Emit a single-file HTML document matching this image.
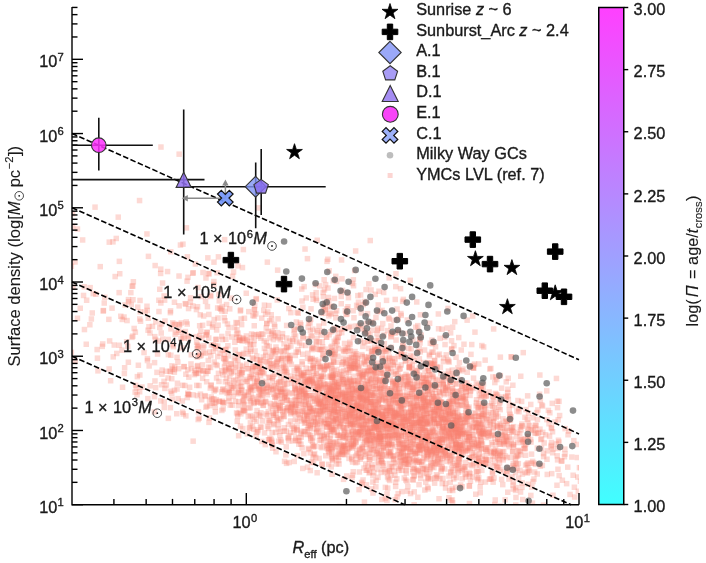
<!DOCTYPE html><html><head><meta charset="utf-8"><style>html,body{margin:0;padding:0;background:#fff;width:706px;height:563px;overflow:hidden}svg{display:block;will-change:transform} text{stroke:#1a1a1a;stroke-width:0.35px} g.sq rect{width:5.5px;height:5.5px}</style></head><body>
<svg width="706" height="563" viewBox="0 0 706 563" font-family="Liberation Sans, sans-serif">
<defs><clipPath id="pc"><rect x="72.0" y="7.1" width="507.0" height="497.59999999999997"/></clipPath></defs>
<g class="sq" clip-path="url(#pc)" fill="#fa8072" fill-opacity="0.3"><rect x="331.7" y="379.6"/><rect x="380.3" y="418.0"/><rect x="376.3" y="288.5"/><rect x="367.0" y="364.6"/><rect x="295.9" y="411.7"/><rect x="263.6" y="339.9"/><rect x="232.7" y="398.5"/><rect x="369.8" y="465.0"/><rect x="299.4" y="445.1"/><rect x="343.2" y="435.1"/><rect x="190.3" y="392.1"/><rect x="375.2" y="347.3"/><rect x="367.1" y="456.5"/><rect x="106.1" y="316.6"/><rect x="101.5" y="300.3"/><rect x="274.5" y="297.2"/><rect x="212.6" y="409.1"/><rect x="345.6" y="417.1"/><rect x="265.9" y="374.7"/><rect x="332.3" y="326.5"/><rect x="455.2" y="426.9"/><rect x="267.6" y="400.7"/><rect x="398.5" y="403.3"/><rect x="385.0" y="440.6"/><rect x="329.2" y="383.9"/><rect x="269.9" y="445.5"/><rect x="456.5" y="429.3"/><rect x="310.0" y="435.0"/><rect x="519.6" y="471.3"/><rect x="508.7" y="425.0"/><rect x="359.7" y="445.9"/><rect x="161.3" y="378.6"/><rect x="450.8" y="400.9"/><rect x="308.3" y="306.1"/><rect x="259.1" y="331.0"/><rect x="350.7" y="441.4"/><rect x="350.0" y="391.2"/><rect x="331.3" y="383.0"/><rect x="282.9" y="361.2"/><rect x="186.1" y="391.9"/><rect x="383.4" y="444.3"/><rect x="395.9" y="465.6"/><rect x="269.2" y="438.5"/><rect x="205.1" y="255.1"/><rect x="325.8" y="389.5"/><rect x="425.1" y="439.6"/><rect x="362.2" y="411.9"/><rect x="492.1" y="379.8"/><rect x="237.6" y="308.2"/><rect x="399.0" y="398.6"/><rect x="446.9" y="404.7"/><rect x="245.5" y="365.9"/><rect x="474.7" y="444.4"/><rect x="455.4" y="456.5"/><rect x="510.5" y="486.3"/><rect x="339.9" y="408.9"/><rect x="352.1" y="407.7"/><rect x="346.3" y="325.0"/><rect x="395.2" y="399.6"/><rect x="488.5" y="409.8"/><rect x="387.1" y="426.4"/><rect x="355.3" y="394.3"/><rect x="397.8" y="389.8"/><rect x="370.4" y="368.1"/><rect x="384.8" y="436.5"/><rect x="456.8" y="456.1"/><rect x="459.4" y="394.5"/><rect x="90.5" y="290.9"/><rect x="324.3" y="364.1"/><rect x="281.3" y="341.1"/><rect x="399.1" y="488.9"/><rect x="345.4" y="429.8"/><rect x="444.5" y="384.0"/><rect x="376.9" y="385.1"/><rect x="347.4" y="397.5"/><rect x="360.7" y="441.7"/><rect x="540.9" y="453.8"/><rect x="333.2" y="386.5"/><rect x="503.3" y="394.8"/><rect x="450.4" y="388.1"/><rect x="183.7" y="225.1"/><rect x="332.0" y="383.5"/><rect x="460.2" y="429.5"/><rect x="382.6" y="495.7"/><rect x="380.5" y="436.3"/><rect x="385.8" y="315.1"/><rect x="434.1" y="363.8"/><rect x="416.0" y="432.0"/><rect x="276.1" y="416.6"/><rect x="505.5" y="375.5"/><rect x="386.5" y="316.4"/><rect x="301.1" y="371.9"/><rect x="354.1" y="452.7"/><rect x="339.8" y="443.3"/><rect x="406.4" y="456.8"/><rect x="437.3" y="335.6"/><rect x="268.2" y="386.7"/><rect x="571.6" y="484.5"/><rect x="562.3" y="451.3"/><rect x="435.6" y="455.3"/><rect x="554.2" y="482.5"/><rect x="235.3" y="330.4"/><rect x="350.5" y="363.2"/><rect x="271.9" y="332.7"/><rect x="438.2" y="415.1"/><rect x="376.0" y="428.3"/><rect x="176.4" y="303.1"/><rect x="410.1" y="368.4"/><rect x="413.1" y="442.7"/><rect x="251.0" y="341.9"/><rect x="422.9" y="414.9"/><rect x="474.1" y="468.7"/><rect x="331.5" y="379.6"/><rect x="109.3" y="305.4"/><rect x="407.4" y="393.8"/><rect x="312.1" y="386.9"/><rect x="381.2" y="386.2"/><rect x="408.3" y="411.5"/><rect x="472.9" y="421.5"/><rect x="405.8" y="415.5"/><rect x="379.0" y="410.5"/><rect x="351.9" y="267.8"/><rect x="134.3" y="392.0"/><rect x="295.5" y="349.3"/><rect x="467.3" y="445.4"/><rect x="369.0" y="399.1"/><rect x="496.5" y="439.1"/><rect x="379.2" y="390.6"/><rect x="81.7" y="326.8"/><rect x="396.5" y="427.1"/><rect x="419.0" y="413.8"/><rect x="388.6" y="408.0"/><rect x="373.3" y="406.8"/><rect x="314.4" y="470.0"/><rect x="372.0" y="402.1"/><rect x="302.3" y="389.7"/><rect x="264.0" y="320.9"/><rect x="298.2" y="441.5"/><rect x="220.5" y="406.1"/><rect x="345.8" y="363.3"/><rect x="327.9" y="432.7"/><rect x="459.2" y="368.1"/><rect x="219.4" y="303.8"/><rect x="396.2" y="385.5"/><rect x="285.7" y="421.8"/><rect x="100.5" y="308.2"/><rect x="340.0" y="390.2"/><rect x="431.7" y="475.3"/><rect x="371.9" y="370.6"/><rect x="494.5" y="431.9"/><rect x="313.7" y="430.1"/><rect x="378.9" y="383.2"/><rect x="326.1" y="445.3"/><rect x="410.0" y="476.8"/><rect x="145.1" y="395.9"/><rect x="415.0" y="445.9"/><rect x="448.6" y="413.2"/><rect x="414.5" y="402.2"/><rect x="254.3" y="398.8"/><rect x="346.8" y="396.0"/><rect x="455.2" y="466.2"/><rect x="463.1" y="389.0"/><rect x="340.3" y="359.8"/><rect x="416.5" y="364.8"/><rect x="331.9" y="407.8"/><rect x="187.6" y="299.5"/><rect x="430.9" y="447.1"/><rect x="409.7" y="404.0"/><rect x="501.3" y="438.2"/><rect x="331.9" y="418.5"/><rect x="438.8" y="436.4"/><rect x="446.9" y="378.3"/><rect x="415.1" y="494.5"/><rect x="407.1" y="455.5"/><rect x="416.6" y="419.1"/><rect x="474.3" y="456.1"/><rect x="421.6" y="379.7"/><rect x="579.1" y="421.7"/><rect x="538.7" y="445.5"/><rect x="368.2" y="399.4"/><rect x="317.1" y="407.8"/><rect x="335.7" y="345.8"/><rect x="370.4" y="408.6"/><rect x="372.2" y="410.7"/><rect x="259.0" y="366.2"/><rect x="239.0" y="369.5"/><rect x="383.2" y="425.8"/><rect x="411.3" y="400.6"/><rect x="460.3" y="450.5"/><rect x="562.4" y="425.9"/><rect x="350.2" y="407.5"/><rect x="295.0" y="407.1"/><rect x="513.4" y="454.0"/><rect x="411.0" y="404.9"/><rect x="364.9" y="381.9"/><rect x="361.4" y="420.7"/><rect x="203.4" y="331.9"/><rect x="329.6" y="411.2"/><rect x="362.2" y="411.4"/><rect x="558.5" y="458.4"/><rect x="540.8" y="450.8"/><rect x="505.1" y="393.1"/><rect x="447.9" y="379.7"/><rect x="441.3" y="375.1"/><rect x="279.0" y="357.6"/><rect x="329.4" y="374.8"/><rect x="500.0" y="481.9"/><rect x="215.7" y="370.6"/><rect x="502.7" y="453.3"/><rect x="393.2" y="410.7"/><rect x="523.2" y="406.8"/><rect x="417.0" y="450.7"/><rect x="373.2" y="375.7"/><rect x="392.5" y="296.7"/><rect x="321.0" y="411.2"/><rect x="475.7" y="413.6"/><rect x="407.6" y="401.2"/><rect x="416.6" y="356.1"/><rect x="293.4" y="349.4"/><rect x="359.8" y="414.6"/><rect x="115.5" y="214.4"/><rect x="151.7" y="393.9"/><rect x="474.8" y="413.7"/><rect x="380.0" y="379.5"/><rect x="258.1" y="335.5"/><rect x="274.9" y="329.9"/><rect x="418.9" y="382.3"/><rect x="434.6" y="442.4"/><rect x="333.5" y="453.5"/><rect x="353.3" y="385.6"/><rect x="440.1" y="423.9"/><rect x="137.0" y="316.2"/><rect x="462.4" y="395.5"/><rect x="215.0" y="343.3"/><rect x="246.9" y="373.8"/><rect x="450.1" y="407.6"/><rect x="172.4" y="321.9"/><rect x="243.5" y="346.4"/><rect x="359.5" y="353.5"/><rect x="354.7" y="356.1"/><rect x="418.4" y="446.9"/><rect x="545.6" y="407.7"/><rect x="182.1" y="382.8"/><rect x="529.1" y="484.3"/><rect x="342.5" y="435.7"/><rect x="458.5" y="347.3"/><rect x="291.4" y="331.6"/><rect x="327.7" y="349.0"/><rect x="427.5" y="340.5"/><rect x="292.7" y="416.5"/><rect x="298.5" y="434.4"/><rect x="349.9" y="407.4"/><rect x="386.8" y="404.2"/><rect x="438.7" y="428.8"/><rect x="473.4" y="420.1"/><rect x="237.2" y="337.5"/><rect x="124.3" y="317.8"/><rect x="356.3" y="486.9"/><rect x="384.4" y="425.4"/><rect x="453.3" y="430.1"/><rect x="390.9" y="413.9"/><rect x="315.9" y="428.2"/><rect x="473.5" y="403.1"/><rect x="497.4" y="449.4"/><rect x="448.2" y="438.1"/><rect x="348.5" y="396.4"/><rect x="459.2" y="422.9"/><rect x="498.3" y="422.2"/><rect x="432.3" y="443.8"/><rect x="446.3" y="399.3"/><rect x="485.3" y="411.9"/><rect x="254.1" y="353.3"/><rect x="308.8" y="459.4"/><rect x="353.1" y="386.5"/><rect x="374.7" y="327.5"/><rect x="421.9" y="414.9"/><rect x="353.2" y="323.3"/><rect x="417.0" y="415.2"/><rect x="470.7" y="424.1"/><rect x="555.7" y="437.5"/><rect x="410.2" y="337.3"/><rect x="415.7" y="444.1"/><rect x="429.7" y="449.3"/><rect x="454.9" y="462.1"/><rect x="266.4" y="437.0"/><rect x="284.1" y="344.3"/><rect x="470.4" y="385.7"/><rect x="231.6" y="355.3"/><rect x="459.3" y="439.9"/><rect x="547.1" y="410.0"/><rect x="328.2" y="311.4"/><rect x="431.2" y="339.7"/><rect x="355.5" y="400.8"/><rect x="438.7" y="399.0"/><rect x="365.0" y="428.2"/><rect x="349.5" y="280.7"/><rect x="381.3" y="332.3"/><rect x="329.5" y="393.6"/><rect x="481.2" y="391.0"/><rect x="306.2" y="446.7"/><rect x="332.8" y="416.1"/><rect x="402.9" y="409.0"/><rect x="348.1" y="444.3"/><rect x="385.1" y="434.4"/><rect x="498.9" y="476.6"/><rect x="480.7" y="381.3"/><rect x="354.8" y="387.9"/><rect x="389.7" y="359.2"/><rect x="340.8" y="442.3"/><rect x="392.6" y="459.4"/><rect x="377.5" y="436.8"/><rect x="456.4" y="449.1"/><rect x="435.2" y="407.6"/><rect x="129.2" y="334.6"/><rect x="222.6" y="379.0"/><rect x="425.7" y="437.0"/><rect x="230.6" y="393.6"/><rect x="517.0" y="431.1"/><rect x="324.0" y="300.5"/><rect x="533.3" y="430.4"/><rect x="346.5" y="378.8"/><rect x="461.2" y="341.5"/><rect x="435.0" y="352.6"/><rect x="433.7" y="404.4"/><rect x="426.0" y="399.4"/><rect x="390.9" y="397.7"/><rect x="414.2" y="420.0"/><rect x="425.5" y="486.1"/><rect x="286.4" y="433.2"/><rect x="414.0" y="428.8"/><rect x="363.9" y="320.6"/><rect x="433.7" y="384.4"/><rect x="341.2" y="443.6"/><rect x="255.9" y="331.6"/><rect x="299.3" y="298.3"/><rect x="299.6" y="361.5"/><rect x="359.1" y="401.6"/><rect x="400.4" y="419.8"/><rect x="301.2" y="395.6"/><rect x="387.3" y="433.1"/><rect x="397.9" y="464.0"/><rect x="337.6" y="415.1"/><rect x="195.6" y="343.4"/><rect x="421.4" y="395.2"/><rect x="352.4" y="409.2"/><rect x="326.6" y="409.4"/><rect x="340.6" y="433.5"/><rect x="327.3" y="423.7"/><rect x="284.1" y="335.3"/><rect x="176.9" y="322.1"/><rect x="277.7" y="348.8"/><rect x="99.5" y="343.6"/><rect x="306.7" y="378.2"/><rect x="399.2" y="467.5"/><rect x="379.8" y="422.9"/><rect x="353.5" y="387.8"/><rect x="464.3" y="404.4"/><rect x="300.9" y="416.4"/><rect x="368.3" y="420.0"/><rect x="300.0" y="465.7"/><rect x="413.9" y="457.1"/><rect x="259.9" y="386.8"/><rect x="423.5" y="403.8"/><rect x="343.8" y="413.5"/><rect x="333.5" y="398.2"/><rect x="244.6" y="378.7"/><rect x="455.5" y="444.5"/><rect x="278.4" y="389.6"/><rect x="141.3" y="349.8"/><rect x="383.6" y="422.2"/><rect x="513.9" y="434.0"/><rect x="339.3" y="406.3"/><rect x="273.7" y="359.9"/><rect x="234.5" y="418.6"/><rect x="423.9" y="414.5"/><rect x="476.4" y="387.8"/><rect x="396.2" y="411.2"/><rect x="296.7" y="397.3"/><rect x="222.4" y="308.5"/><rect x="364.4" y="395.4"/><rect x="326.5" y="450.1"/><rect x="452.3" y="412.9"/><rect x="416.1" y="458.9"/><rect x="457.8" y="395.6"/><rect x="350.5" y="469.0"/><rect x="407.5" y="277.6"/><rect x="262.7" y="398.5"/><rect x="394.8" y="452.1"/><rect x="289.7" y="390.9"/><rect x="428.4" y="409.7"/><rect x="323.5" y="362.8"/><rect x="144.2" y="303.5"/><rect x="248.4" y="374.2"/><rect x="401.5" y="475.3"/><rect x="363.3" y="421.9"/><rect x="403.6" y="439.7"/><rect x="341.4" y="406.8"/><rect x="162.2" y="318.3"/><rect x="445.1" y="387.1"/><rect x="475.7" y="440.9"/><rect x="379.3" y="370.5"/><rect x="325.1" y="393.1"/><rect x="419.2" y="436.2"/><rect x="347.9" y="393.7"/><rect x="384.3" y="414.8"/><rect x="436.3" y="420.6"/><rect x="396.3" y="400.1"/><rect x="330.8" y="372.3"/><rect x="434.1" y="420.9"/><rect x="266.5" y="343.6"/><rect x="341.7" y="326.0"/><rect x="372.8" y="445.5"/><rect x="284.0" y="393.8"/><rect x="422.6" y="421.1"/><rect x="532.8" y="422.4"/><rect x="469.3" y="441.4"/><rect x="235.2" y="351.7"/><rect x="382.9" y="409.0"/><rect x="422.1" y="375.5"/><rect x="511.5" y="465.0"/><rect x="369.4" y="429.5"/><rect x="210.7" y="348.5"/><rect x="256.4" y="412.4"/><rect x="351.7" y="396.2"/><rect x="268.9" y="316.4"/><rect x="442.8" y="436.4"/><rect x="492.2" y="460.1"/><rect x="349.1" y="445.3"/><rect x="270.3" y="412.5"/><rect x="314.0" y="370.4"/><rect x="326.7" y="442.6"/><rect x="345.2" y="421.7"/><rect x="412.9" y="451.2"/><rect x="255.6" y="385.2"/><rect x="303.4" y="365.4"/><rect x="526.6" y="467.4"/><rect x="281.1" y="376.6"/><rect x="388.4" y="344.5"/><rect x="452.8" y="380.9"/><rect x="311.0" y="443.9"/><rect x="305.5" y="445.6"/><rect x="360.1" y="384.9"/><rect x="280.4" y="362.7"/><rect x="338.0" y="407.2"/><rect x="267.9" y="360.9"/><rect x="121.9" y="365.0"/><rect x="393.7" y="423.6"/><rect x="248.3" y="346.6"/><rect x="295.2" y="346.9"/><rect x="443.9" y="371.5"/><rect x="144.2" y="231.2"/><rect x="480.4" y="429.9"/><rect x="363.4" y="436.6"/><rect x="457.8" y="427.9"/><rect x="377.7" y="427.4"/><rect x="440.4" y="416.4"/><rect x="363.9" y="425.4"/><rect x="371.5" y="414.4"/><rect x="257.9" y="357.1"/><rect x="377.4" y="453.4"/><rect x="410.9" y="464.8"/><rect x="503.2" y="433.6"/><rect x="393.6" y="378.7"/><rect x="534.6" y="445.4"/><rect x="457.8" y="388.2"/><rect x="325.7" y="388.1"/><rect x="158.0" y="266.4"/><rect x="319.9" y="344.0"/><rect x="417.7" y="312.0"/><rect x="425.2" y="440.4"/><rect x="261.0" y="399.6"/><rect x="416.5" y="443.9"/><rect x="265.4" y="364.3"/><rect x="382.6" y="357.5"/><rect x="179.1" y="345.2"/><rect x="446.2" y="399.3"/><rect x="160.0" y="336.3"/><rect x="431.0" y="441.8"/><rect x="324.3" y="445.3"/><rect x="284.1" y="345.1"/><rect x="405.1" y="418.6"/><rect x="382.5" y="346.8"/><rect x="456.2" y="439.7"/><rect x="224.9" y="381.8"/><rect x="360.3" y="374.3"/><rect x="459.4" y="484.0"/><rect x="306.9" y="431.8"/><rect x="366.8" y="444.4"/><rect x="504.9" y="438.7"/><rect x="249.8" y="366.0"/><rect x="440.6" y="453.8"/><rect x="419.8" y="430.4"/><rect x="544.6" y="448.1"/><rect x="316.4" y="339.2"/><rect x="479.5" y="453.4"/><rect x="300.7" y="374.1"/><rect x="241.2" y="394.1"/><rect x="435.3" y="454.0"/><rect x="362.1" y="448.5"/><rect x="457.2" y="416.4"/><rect x="302.5" y="401.9"/><rect x="467.7" y="388.1"/><rect x="340.4" y="451.5"/><rect x="382.6" y="421.9"/><rect x="445.3" y="305.7"/><rect x="359.9" y="435.7"/><rect x="406.0" y="345.7"/><rect x="379.0" y="408.8"/><rect x="439.9" y="434.4"/><rect x="480.5" y="387.2"/><rect x="316.3" y="323.4"/><rect x="331.5" y="407.9"/><rect x="346.0" y="345.1"/><rect x="256.4" y="364.6"/><rect x="506.4" y="417.4"/><rect x="326.2" y="438.7"/><rect x="253.3" y="296.6"/><rect x="245.0" y="366.0"/><rect x="411.9" y="425.4"/><rect x="363.7" y="438.0"/><rect x="323.8" y="420.9"/><rect x="363.2" y="416.0"/><rect x="566.0" y="428.3"/><rect x="352.7" y="365.5"/><rect x="259.1" y="438.7"/><rect x="437.3" y="392.8"/><rect x="346.1" y="349.0"/><rect x="374.6" y="362.9"/><rect x="383.3" y="398.8"/><rect x="466.3" y="404.4"/><rect x="417.9" y="396.9"/><rect x="342.7" y="393.7"/><rect x="486.3" y="430.2"/><rect x="300.1" y="304.5"/><rect x="420.3" y="465.8"/><rect x="454.0" y="414.9"/><rect x="453.7" y="425.7"/><rect x="345.3" y="441.3"/><rect x="392.2" y="421.3"/><rect x="457.5" y="402.2"/><rect x="385.3" y="421.0"/><rect x="152.2" y="378.2"/><rect x="377.3" y="416.0"/><rect x="241.7" y="392.9"/><rect x="426.8" y="442.2"/><rect x="245.8" y="389.6"/><rect x="546.8" y="433.4"/><rect x="361.2" y="359.7"/><rect x="332.1" y="399.2"/><rect x="396.3" y="396.2"/><rect x="119.2" y="347.4"/><rect x="427.7" y="382.2"/><rect x="384.3" y="491.1"/><rect x="242.7" y="376.7"/><rect x="362.9" y="300.2"/><rect x="419.6" y="394.1"/><rect x="299.4" y="372.5"/><rect x="381.3" y="434.1"/><rect x="100.7" y="307.8"/><rect x="515.6" y="460.9"/><rect x="355.5" y="390.0"/><rect x="132.9" y="382.6"/><rect x="401.2" y="416.5"/><rect x="348.8" y="415.4"/><rect x="312.6" y="374.8"/><rect x="478.4" y="439.7"/><rect x="352.9" y="460.0"/><rect x="311.9" y="450.8"/><rect x="341.7" y="409.1"/><rect x="297.8" y="430.3"/><rect x="289.7" y="408.8"/><rect x="367.5" y="338.2"/><rect x="324.4" y="390.6"/><rect x="479.1" y="467.6"/><rect x="382.9" y="420.8"/><rect x="264.7" y="423.7"/><rect x="416.5" y="345.8"/><rect x="451.3" y="435.8"/><rect x="329.5" y="374.0"/><rect x="257.4" y="386.8"/><rect x="435.9" y="446.9"/><rect x="460.2" y="366.4"/><rect x="329.7" y="413.3"/><rect x="203.2" y="275.2"/><rect x="293.6" y="398.1"/><rect x="341.9" y="452.0"/><rect x="414.9" y="400.2"/><rect x="106.4" y="366.2"/><rect x="331.7" y="295.7"/><rect x="395.9" y="329.3"/><rect x="356.5" y="421.9"/><rect x="413.0" y="417.8"/><rect x="522.2" y="414.6"/><rect x="212.9" y="336.7"/><rect x="329.4" y="443.0"/><rect x="478.4" y="430.2"/><rect x="200.2" y="269.7"/><rect x="322.4" y="346.4"/><rect x="376.1" y="443.1"/><rect x="255.2" y="383.6"/><rect x="237.0" y="337.4"/><rect x="490.4" y="479.4"/><rect x="310.4" y="296.5"/><rect x="504.3" y="468.5"/><rect x="431.9" y="460.0"/><rect x="429.2" y="424.8"/><rect x="343.1" y="357.2"/><rect x="330.3" y="349.2"/><rect x="331.2" y="405.5"/><rect x="411.6" y="465.8"/><rect x="521.4" y="442.6"/><rect x="289.5" y="376.4"/><rect x="295.3" y="378.4"/><rect x="455.3" y="412.2"/><rect x="352.9" y="248.2"/><rect x="363.1" y="394.5"/><rect x="395.5" y="316.2"/><rect x="478.0" y="387.5"/><rect x="495.9" y="441.2"/><rect x="355.4" y="399.2"/><rect x="245.5" y="413.9"/><rect x="338.8" y="399.7"/><rect x="246.1" y="405.3"/><rect x="174.7" y="380.5"/><rect x="360.2" y="413.0"/><rect x="153.1" y="319.1"/><rect x="92.3" y="204.4"/><rect x="520.0" y="496.8"/><rect x="478.8" y="442.4"/><rect x="364.0" y="389.9"/><rect x="283.9" y="322.7"/><rect x="450.4" y="398.4"/><rect x="387.9" y="448.8"/><rect x="515.8" y="475.4"/><rect x="424.8" y="420.9"/><rect x="223.6" y="346.5"/><rect x="414.1" y="394.4"/><rect x="244.2" y="337.7"/><rect x="283.8" y="460.6"/><rect x="386.0" y="422.1"/><rect x="417.9" y="417.4"/><rect x="429.1" y="448.0"/><rect x="269.8" y="405.9"/><rect x="443.9" y="413.5"/><rect x="346.3" y="455.7"/><rect x="331.5" y="338.5"/><rect x="236.9" y="370.0"/><rect x="353.4" y="403.0"/><rect x="380.2" y="378.2"/><rect x="384.4" y="470.2"/><rect x="502.5" y="438.8"/><rect x="363.6" y="396.8"/><rect x="488.1" y="365.7"/><rect x="329.3" y="343.5"/><rect x="343.7" y="366.8"/><rect x="333.2" y="424.5"/><rect x="369.2" y="327.5"/><rect x="367.8" y="409.0"/><rect x="257.9" y="413.5"/><rect x="83.5" y="341.5"/><rect x="371.8" y="346.7"/><rect x="417.9" y="392.6"/><rect x="338.6" y="388.3"/><rect x="247.3" y="341.2"/><rect x="298.2" y="371.2"/><rect x="286.7" y="355.3"/><rect x="397.1" y="410.6"/><rect x="466.4" y="425.7"/><rect x="388.7" y="369.2"/><rect x="442.1" y="446.9"/><rect x="342.7" y="392.7"/><rect x="307.6" y="467.8"/><rect x="497.6" y="372.9"/><rect x="295.9" y="402.0"/><rect x="249.7" y="423.4"/><rect x="443.1" y="429.3"/><rect x="367.7" y="425.2"/><rect x="269.8" y="442.2"/><rect x="462.9" y="416.3"/><rect x="379.8" y="367.7"/><rect x="307.6" y="358.6"/><rect x="273.0" y="333.8"/><rect x="402.9" y="396.1"/><rect x="408.7" y="415.8"/><rect x="206.0" y="335.3"/><rect x="519.2" y="484.6"/><rect x="169.7" y="366.4"/><rect x="561.7" y="454.0"/><rect x="331.7" y="407.6"/><rect x="306.6" y="378.5"/><rect x="410.2" y="429.2"/><rect x="337.1" y="438.8"/><rect x="292.9" y="408.6"/><rect x="458.7" y="413.0"/><rect x="550.3" y="446.4"/><rect x="310.8" y="358.0"/><rect x="412.0" y="448.4"/><rect x="378.8" y="411.5"/><rect x="409.1" y="400.3"/><rect x="386.6" y="419.7"/><rect x="294.4" y="309.6"/><rect x="158.0" y="398.2"/><rect x="360.5" y="398.2"/><rect x="357.8" y="415.6"/><rect x="391.9" y="408.8"/><rect x="352.2" y="348.8"/><rect x="491.3" y="475.2"/><rect x="439.5" y="439.8"/><rect x="247.8" y="341.8"/><rect x="266.6" y="358.4"/><rect x="338.6" y="393.5"/><rect x="449.3" y="373.1"/><rect x="369.4" y="383.5"/><rect x="253.5" y="382.9"/><rect x="436.2" y="404.5"/><rect x="428.8" y="395.4"/><rect x="402.7" y="461.3"/><rect x="393.3" y="429.8"/><rect x="358.9" y="413.9"/><rect x="206.8" y="415.2"/><rect x="329.3" y="471.5"/><rect x="330.9" y="404.1"/><rect x="398.4" y="441.1"/><rect x="398.4" y="353.7"/><rect x="441.2" y="437.0"/><rect x="369.4" y="348.4"/><rect x="405.6" y="378.6"/><rect x="425.2" y="380.5"/><rect x="448.6" y="397.3"/><rect x="358.8" y="426.1"/><rect x="342.5" y="346.3"/><rect x="265.6" y="389.5"/><rect x="431.8" y="429.0"/><rect x="389.8" y="393.5"/><rect x="372.5" y="382.2"/><rect x="366.3" y="382.0"/><rect x="412.7" y="437.4"/><rect x="458.7" y="452.5"/><rect x="207.8" y="364.7"/><rect x="382.6" y="484.6"/><rect x="302.8" y="378.6"/><rect x="458.8" y="383.5"/><rect x="333.1" y="315.0"/><rect x="171.6" y="369.4"/><rect x="377.3" y="434.6"/><rect x="531.9" y="469.3"/><rect x="202.6" y="393.7"/><rect x="483.6" y="456.8"/><rect x="398.9" y="449.9"/><rect x="352.8" y="413.0"/><rect x="479.1" y="342.8"/><rect x="518.2" y="427.1"/><rect x="519.0" y="436.5"/><rect x="480.4" y="431.3"/><rect x="168.0" y="249.0"/><rect x="316.1" y="376.9"/><rect x="355.4" y="431.1"/><rect x="418.1" y="416.0"/><rect x="276.5" y="379.1"/><rect x="447.6" y="426.2"/><rect x="274.9" y="267.4"/><rect x="422.1" y="403.5"/><rect x="419.0" y="416.8"/><rect x="454.9" y="444.9"/><rect x="324.5" y="400.7"/><rect x="331.9" y="400.9"/><rect x="461.8" y="464.3"/><rect x="425.0" y="396.8"/><rect x="427.7" y="413.2"/><rect x="364.0" y="358.5"/><rect x="405.1" y="429.8"/><rect x="309.4" y="332.9"/><rect x="355.6" y="434.8"/><rect x="194.4" y="345.9"/><rect x="379.9" y="415.4"/><rect x="316.2" y="411.5"/><rect x="317.4" y="396.8"/><rect x="427.8" y="476.2"/><rect x="417.4" y="336.8"/><rect x="294.6" y="452.9"/><rect x="381.0" y="447.9"/><rect x="216.5" y="398.6"/><rect x="407.5" y="439.4"/><rect x="359.3" y="415.3"/><rect x="373.0" y="422.9"/><rect x="246.0" y="308.9"/><rect x="107.9" y="378.0"/><rect x="389.2" y="420.0"/><rect x="367.3" y="394.3"/><rect x="336.5" y="330.5"/><rect x="473.6" y="380.5"/><rect x="405.0" y="383.8"/><rect x="221.5" y="351.7"/><rect x="446.2" y="473.3"/><rect x="422.5" y="441.8"/><rect x="492.6" y="390.6"/><rect x="156.2" y="308.8"/><rect x="333.8" y="278.6"/><rect x="228.5" y="385.1"/><rect x="370.6" y="358.3"/><rect x="456.3" y="395.1"/><rect x="445.5" y="437.8"/><rect x="118.0" y="313.5"/><rect x="311.7" y="398.8"/><rect x="362.9" y="382.2"/><rect x="360.3" y="477.2"/><rect x="326.4" y="408.7"/><rect x="400.5" y="393.3"/><rect x="381.8" y="391.6"/><rect x="390.3" y="380.4"/><rect x="132.4" y="389.4"/><rect x="341.9" y="427.8"/><rect x="318.1" y="413.3"/><rect x="412.7" y="434.1"/><rect x="408.7" y="422.8"/><rect x="199.7" y="362.1"/><rect x="222.8" y="367.0"/><rect x="281.9" y="369.0"/><rect x="473.6" y="424.0"/><rect x="488.9" y="439.7"/><rect x="328.6" y="415.2"/><rect x="320.6" y="293.8"/><rect x="277.8" y="428.6"/><rect x="372.5" y="291.6"/><rect x="336.1" y="392.2"/><rect x="367.6" y="377.1"/><rect x="472.1" y="419.9"/><rect x="116.4" y="289.9"/><rect x="391.4" y="421.5"/><rect x="525.6" y="481.5"/><rect x="202.8" y="298.6"/><rect x="559.6" y="477.5"/><rect x="392.3" y="431.8"/><rect x="317.1" y="399.2"/><rect x="331.0" y="357.9"/><rect x="332.9" y="392.2"/><rect x="238.1" y="411.1"/><rect x="510.5" y="460.9"/><rect x="317.2" y="433.4"/><rect x="484.7" y="432.3"/><rect x="496.2" y="457.0"/><rect x="490.8" y="418.8"/><rect x="393.1" y="397.2"/><rect x="330.7" y="388.8"/><rect x="330.2" y="387.8"/><rect x="175.4" y="395.9"/><rect x="291.2" y="425.1"/><rect x="333.9" y="308.0"/><rect x="408.4" y="413.3"/><rect x="393.3" y="337.3"/><rect x="380.9" y="289.7"/><rect x="401.6" y="441.4"/><rect x="421.3" y="425.1"/><rect x="384.9" y="421.4"/><rect x="358.0" y="407.8"/><rect x="475.1" y="476.9"/><rect x="431.2" y="464.9"/><rect x="406.8" y="364.6"/><rect x="368.0" y="408.5"/><rect x="482.9" y="430.2"/><rect x="324.0" y="431.3"/><rect x="361.2" y="368.8"/><rect x="289.5" y="401.3"/><rect x="453.0" y="424.0"/><rect x="495.0" y="436.5"/><rect x="362.8" y="361.6"/><rect x="389.4" y="355.7"/><rect x="437.1" y="475.9"/><rect x="475.9" y="420.5"/><rect x="262.8" y="311.5"/><rect x="527.9" y="436.7"/><rect x="528.5" y="427.1"/><rect x="457.1" y="420.9"/><rect x="388.7" y="398.0"/><rect x="457.4" y="376.8"/><rect x="309.9" y="442.2"/><rect x="402.3" y="392.5"/><rect x="494.9" y="455.3"/><rect x="433.9" y="402.9"/><rect x="414.2" y="466.7"/><rect x="486.3" y="430.2"/><rect x="394.1" y="383.8"/><rect x="444.9" y="444.2"/><rect x="320.0" y="375.3"/><rect x="464.0" y="415.2"/><rect x="556.4" y="472.8"/><rect x="368.3" y="418.3"/><rect x="333.7" y="380.3"/><rect x="249.7" y="368.4"/><rect x="347.7" y="402.6"/><rect x="360.0" y="425.1"/><rect x="350.3" y="421.1"/><rect x="416.3" y="481.9"/><rect x="302.5" y="429.0"/><rect x="253.5" y="371.9"/><rect x="427.3" y="433.8"/><rect x="427.3" y="407.2"/><rect x="339.4" y="448.1"/><rect x="443.9" y="403.3"/><rect x="419.6" y="445.4"/><rect x="397.9" y="376.6"/><rect x="125.6" y="359.5"/><rect x="427.6" y="445.2"/><rect x="350.4" y="308.0"/><rect x="310.2" y="454.5"/><rect x="293.0" y="435.4"/><rect x="227.0" y="306.1"/><rect x="152.4" y="262.8"/><rect x="517.2" y="467.6"/><rect x="338.5" y="293.7"/><rect x="231.3" y="383.5"/><rect x="233.9" y="334.6"/><rect x="509.3" y="474.2"/><rect x="553.7" y="375.7"/><rect x="433.3" y="449.9"/><rect x="396.9" y="415.7"/><rect x="449.3" y="485.8"/><rect x="549.9" y="450.0"/><rect x="355.7" y="366.2"/><rect x="300.0" y="335.3"/><rect x="399.2" y="373.8"/><rect x="361.7" y="327.9"/><rect x="466.3" y="382.9"/><rect x="273.2" y="410.4"/><rect x="450.8" y="433.0"/><rect x="414.4" y="419.3"/><rect x="462.2" y="470.9"/><rect x="266.4" y="419.8"/><rect x="489.4" y="431.3"/><rect x="438.5" y="468.4"/><rect x="305.0" y="379.8"/><rect x="358.1" y="322.4"/><rect x="219.0" y="333.7"/><rect x="293.9" y="365.5"/><rect x="416.9" y="405.7"/><rect x="387.0" y="412.4"/><rect x="348.6" y="365.2"/><rect x="306.9" y="409.1"/><rect x="459.0" y="447.7"/><rect x="187.8" y="295.1"/><rect x="325.5" y="399.9"/><rect x="313.0" y="454.7"/><rect x="343.4" y="415.8"/><rect x="358.1" y="428.7"/><rect x="444.2" y="424.0"/><rect x="319.8" y="355.5"/><rect x="351.8" y="378.4"/><rect x="424.0" y="446.7"/><rect x="456.9" y="454.0"/><rect x="344.9" y="384.2"/><rect x="423.6" y="398.8"/><rect x="344.0" y="473.2"/><rect x="496.8" y="460.2"/><rect x="350.8" y="396.5"/><rect x="301.8" y="420.5"/><rect x="529.9" y="458.6"/><rect x="231.0" y="378.1"/><rect x="172.4" y="331.5"/><rect x="185.0" y="390.5"/><rect x="281.9" y="394.7"/><rect x="350.1" y="382.0"/><rect x="494.1" y="422.9"/><rect x="524.9" y="393.1"/><rect x="205.9" y="364.4"/><rect x="157.0" y="324.7"/><rect x="397.2" y="393.1"/><rect x="386.9" y="355.6"/><rect x="269.4" y="378.0"/><rect x="345.7" y="294.9"/><rect x="312.1" y="443.3"/><rect x="501.0" y="439.9"/><rect x="263.3" y="385.7"/><rect x="475.4" y="422.5"/><rect x="366.6" y="392.6"/><rect x="417.1" y="422.7"/><rect x="329.9" y="457.9"/><rect x="375.3" y="409.9"/><rect x="332.6" y="409.0"/><rect x="535.9" y="429.8"/><rect x="171.7" y="387.6"/><rect x="398.6" y="406.4"/><rect x="339.1" y="417.3"/><rect x="415.7" y="442.3"/><rect x="538.0" y="436.8"/><rect x="467.7" y="478.5"/><rect x="451.0" y="437.4"/><rect x="211.5" y="359.3"/><rect x="431.9" y="396.4"/><rect x="292.2" y="397.1"/><rect x="137.8" y="318.5"/><rect x="417.5" y="349.1"/><rect x="347.0" y="365.2"/><rect x="185.8" y="305.8"/><rect x="178.2" y="329.7"/><rect x="228.3" y="361.1"/><rect x="238.7" y="371.6"/><rect x="485.6" y="417.1"/><rect x="516.0" y="405.9"/><rect x="116.6" y="342.5"/><rect x="442.9" y="410.3"/><rect x="295.0" y="383.2"/><rect x="510.3" y="463.1"/><rect x="445.0" y="416.7"/><rect x="362.3" y="453.7"/><rect x="425.9" y="402.0"/><rect x="219.1" y="308.3"/><rect x="294.3" y="426.9"/><rect x="313.8" y="380.2"/><rect x="221.4" y="356.2"/><rect x="393.6" y="423.9"/><rect x="389.1" y="331.2"/><rect x="281.8" y="458.6"/><rect x="510.7" y="429.0"/><rect x="267.8" y="403.5"/><rect x="301.9" y="394.4"/><rect x="87.4" y="284.9"/><rect x="172.0" y="364.3"/><rect x="487.4" y="403.0"/><rect x="525.3" y="420.2"/><rect x="475.4" y="382.3"/><rect x="490.8" y="419.6"/><rect x="321.0" y="320.3"/><rect x="430.9" y="416.8"/><rect x="349.9" y="395.7"/><rect x="291.8" y="326.5"/><rect x="347.6" y="347.8"/><rect x="388.2" y="323.2"/><rect x="303.5" y="397.1"/><rect x="261.5" y="338.1"/><rect x="400.6" y="429.7"/><rect x="523.1" y="441.1"/><rect x="382.5" y="434.1"/><rect x="319.6" y="429.7"/><rect x="390.5" y="361.7"/><rect x="330.5" y="426.9"/><rect x="450.2" y="412.5"/><rect x="454.7" y="398.6"/><rect x="179.6" y="398.2"/><rect x="476.6" y="392.8"/><rect x="465.1" y="446.4"/><rect x="403.9" y="445.4"/><rect x="102.1" y="294.6"/><rect x="550.2" y="492.5"/><rect x="198.9" y="397.0"/><rect x="383.5" y="407.4"/><rect x="322.0" y="407.6"/><rect x="462.5" y="448.8"/><rect x="477.6" y="424.6"/><rect x="337.2" y="395.8"/><rect x="482.1" y="402.7"/><rect x="321.8" y="366.8"/><rect x="475.8" y="427.9"/><rect x="254.3" y="407.8"/><rect x="361.7" y="298.7"/><rect x="526.2" y="469.1"/><rect x="301.5" y="388.6"/><rect x="370.5" y="401.4"/><rect x="300.9" y="431.7"/><rect x="457.7" y="442.3"/><rect x="178.5" y="320.2"/><rect x="255.0" y="369.7"/><rect x="459.5" y="467.9"/><rect x="321.5" y="434.2"/><rect x="368.9" y="447.0"/><rect x="493.6" y="391.6"/><rect x="489.8" y="469.2"/><rect x="348.8" y="431.5"/><rect x="372.3" y="425.6"/><rect x="433.0" y="384.3"/><rect x="348.3" y="407.6"/><rect x="362.0" y="436.1"/><rect x="312.3" y="421.0"/><rect x="307.5" y="423.2"/><rect x="371.5" y="437.5"/><rect x="373.6" y="350.6"/><rect x="380.2" y="418.8"/><rect x="404.6" y="452.4"/><rect x="306.3" y="386.5"/><rect x="333.3" y="336.5"/><rect x="477.1" y="427.5"/><rect x="378.1" y="451.3"/><rect x="308.5" y="395.2"/><rect x="232.2" y="364.7"/><rect x="354.6" y="459.2"/><rect x="309.3" y="346.9"/><rect x="385.7" y="398.8"/><rect x="495.0" y="436.5"/><rect x="487.4" y="448.7"/><rect x="175.1" y="359.4"/><rect x="387.1" y="433.1"/><rect x="365.9" y="353.8"/><rect x="406.4" y="365.0"/><rect x="469.3" y="424.6"/><rect x="401.2" y="426.9"/><rect x="328.0" y="389.8"/><rect x="514.2" y="408.2"/><rect x="398.5" y="433.2"/><rect x="420.0" y="466.7"/><rect x="327.0" y="304.2"/><rect x="292.1" y="373.9"/><rect x="337.8" y="449.6"/><rect x="350.9" y="442.9"/><rect x="222.4" y="360.7"/><rect x="421.8" y="465.9"/><rect x="167.7" y="368.9"/><rect x="368.3" y="368.0"/><rect x="447.8" y="400.9"/><rect x="196.5" y="351.5"/><rect x="451.3" y="472.4"/><rect x="283.3" y="367.4"/><rect x="436.9" y="389.3"/><rect x="377.1" y="433.9"/><rect x="246.5" y="425.5"/><rect x="208.4" y="382.1"/><rect x="324.0" y="362.6"/><rect x="374.8" y="405.6"/><rect x="315.1" y="415.2"/><rect x="445.9" y="411.0"/><rect x="410.4" y="440.8"/><rect x="376.0" y="459.8"/><rect x="360.7" y="403.2"/><rect x="355.6" y="420.3"/><rect x="400.7" y="461.1"/><rect x="330.5" y="359.4"/><rect x="343.4" y="431.6"/><rect x="333.7" y="461.2"/><rect x="448.1" y="405.3"/><rect x="392.5" y="406.1"/><rect x="414.2" y="403.7"/><rect x="385.7" y="348.2"/><rect x="409.9" y="466.5"/><rect x="497.0" y="450.6"/><rect x="147.2" y="330.2"/><rect x="203.1" y="404.5"/><rect x="329.3" y="348.2"/><rect x="364.4" y="419.5"/><rect x="457.0" y="444.7"/><rect x="339.5" y="448.8"/><rect x="428.9" y="400.4"/><rect x="359.6" y="396.8"/><rect x="299.0" y="398.3"/><rect x="492.5" y="497.2"/><rect x="354.2" y="404.5"/><rect x="295.9" y="434.8"/><rect x="325.7" y="404.3"/><rect x="537.1" y="372.3"/><rect x="277.1" y="405.5"/><rect x="535.1" y="407.2"/><rect x="423.2" y="402.2"/><rect x="260.1" y="369.6"/><rect x="464.5" y="437.9"/><rect x="303.0" y="342.7"/><rect x="454.0" y="389.1"/><rect x="328.2" y="394.2"/><rect x="427.6" y="413.8"/><rect x="377.9" y="392.0"/><rect x="257.8" y="357.7"/><rect x="357.9" y="370.2"/><rect x="319.3" y="461.4"/><rect x="385.5" y="360.2"/><rect x="346.4" y="406.2"/><rect x="233.2" y="319.8"/><rect x="417.6" y="420.0"/><rect x="417.4" y="426.5"/><rect x="536.8" y="391.5"/><rect x="377.2" y="346.1"/><rect x="440.8" y="408.5"/><rect x="336.3" y="432.9"/><rect x="271.8" y="371.7"/><rect x="378.6" y="436.8"/><rect x="367.0" y="469.3"/><rect x="344.2" y="433.1"/><rect x="348.9" y="443.3"/><rect x="397.0" y="393.7"/><rect x="389.2" y="424.6"/><rect x="314.0" y="327.9"/><rect x="159.4" y="367.3"/><rect x="232.1" y="339.5"/><rect x="542.9" y="432.0"/><rect x="125.0" y="343.6"/><rect x="351.5" y="399.6"/><rect x="331.2" y="395.0"/><rect x="339.0" y="361.8"/><rect x="509.0" y="429.6"/><rect x="439.5" y="437.5"/><rect x="266.5" y="384.9"/><rect x="486.0" y="426.9"/><rect x="456.2" y="455.4"/><rect x="466.5" y="434.3"/><rect x="354.0" y="447.8"/><rect x="397.8" y="285.9"/><rect x="263.4" y="379.6"/><rect x="395.3" y="393.8"/><rect x="405.4" y="461.5"/><rect x="374.7" y="448.2"/><rect x="376.9" y="435.4"/><rect x="174.0" y="411.0"/><rect x="385.8" y="401.1"/><rect x="313.8" y="297.6"/><rect x="245.4" y="351.2"/><rect x="331.0" y="388.6"/><rect x="68.6" y="263.5"/><rect x="335.5" y="412.1"/><rect x="332.7" y="392.5"/><rect x="445.2" y="407.7"/><rect x="211.0" y="281.9"/><rect x="158.5" y="330.3"/><rect x="457.4" y="442.4"/><rect x="450.4" y="410.7"/><rect x="427.5" y="455.1"/><rect x="329.0" y="428.5"/><rect x="459.2" y="446.2"/><rect x="370.1" y="479.3"/><rect x="437.1" y="427.2"/><rect x="458.9" y="389.9"/><rect x="409.1" y="422.3"/><rect x="285.4" y="434.6"/><rect x="357.6" y="454.1"/><rect x="447.3" y="411.2"/><rect x="227.2" y="389.8"/><rect x="525.3" y="433.4"/><rect x="326.8" y="387.5"/><rect x="194.0" y="382.6"/><rect x="344.3" y="306.0"/><rect x="392.1" y="379.4"/><rect x="428.2" y="414.9"/><rect x="405.7" y="461.4"/><rect x="453.6" y="394.8"/><rect x="482.5" y="456.9"/><rect x="391.8" y="434.9"/><rect x="477.4" y="434.1"/><rect x="293.2" y="396.8"/><rect x="207.9" y="293.7"/><rect x="410.6" y="459.4"/><rect x="438.1" y="451.8"/><rect x="312.9" y="356.9"/><rect x="463.2" y="399.1"/><rect x="356.7" y="450.4"/><rect x="121.3" y="314.3"/><rect x="381.8" y="385.4"/><rect x="157.0" y="286.5"/><rect x="453.9" y="399.8"/><rect x="388.4" y="387.7"/><rect x="468.2" y="351.6"/><rect x="509.9" y="402.7"/><rect x="508.3" y="454.7"/><rect x="435.1" y="456.8"/><rect x="478.9" y="385.7"/><rect x="459.2" y="447.1"/><rect x="410.0" y="427.4"/><rect x="351.3" y="377.9"/><rect x="359.4" y="386.2"/><rect x="435.3" y="433.3"/><rect x="444.2" y="416.1"/><rect x="249.8" y="414.3"/><rect x="438.4" y="408.7"/><rect x="469.2" y="463.0"/><rect x="406.8" y="363.8"/><rect x="381.4" y="440.8"/><rect x="259.3" y="392.1"/><rect x="251.8" y="307.1"/><rect x="335.0" y="410.1"/><rect x="417.9" y="427.5"/><rect x="436.3" y="422.7"/><rect x="434.3" y="365.1"/><rect x="402.1" y="410.4"/><rect x="183.1" y="371.5"/><rect x="132.6" y="329.4"/><rect x="283.5" y="428.2"/><rect x="317.8" y="402.4"/><rect x="327.3" y="436.0"/><rect x="447.9" y="330.1"/><rect x="356.9" y="415.0"/><rect x="354.0" y="400.2"/><rect x="210.7" y="342.1"/><rect x="177.7" y="242.3"/><rect x="304.7" y="255.9"/><rect x="425.2" y="452.0"/><rect x="259.0" y="315.4"/><rect x="398.1" y="381.2"/><rect x="351.3" y="423.1"/><rect x="169.2" y="363.1"/><rect x="419.7" y="436.4"/><rect x="295.1" y="374.8"/><rect x="435.4" y="396.8"/><rect x="188.2" y="361.2"/><rect x="479.7" y="441.1"/><rect x="374.9" y="325.5"/><rect x="137.1" y="372.3"/><rect x="370.1" y="408.6"/><rect x="437.4" y="444.1"/><rect x="366.3" y="450.5"/><rect x="499.2" y="432.8"/><rect x="368.0" y="437.8"/><rect x="227.5" y="402.3"/><rect x="337.6" y="374.5"/><rect x="483.3" y="446.7"/><rect x="533.9" y="409.8"/><rect x="381.3" y="373.5"/><rect x="360.1" y="343.7"/><rect x="431.6" y="416.9"/><rect x="443.6" y="373.5"/><rect x="330.5" y="440.2"/><rect x="136.8" y="197.8"/><rect x="446.6" y="449.5"/><rect x="283.1" y="452.2"/><rect x="494.9" y="423.4"/><rect x="204.2" y="329.3"/><rect x="437.6" y="414.8"/><rect x="359.4" y="481.7"/><rect x="437.6" y="364.5"/><rect x="440.1" y="387.2"/><rect x="264.1" y="320.6"/><rect x="444.7" y="374.9"/><rect x="214.5" y="362.8"/><rect x="445.0" y="423.1"/><rect x="428.7" y="453.2"/><rect x="454.5" y="394.6"/><rect x="360.3" y="426.3"/><rect x="326.8" y="428.6"/><rect x="298.1" y="373.3"/><rect x="487.3" y="419.9"/><rect x="197.0" y="332.9"/><rect x="481.2" y="412.9"/><rect x="282.5" y="391.6"/><rect x="395.9" y="437.3"/><rect x="338.3" y="423.8"/><rect x="391.5" y="453.3"/><rect x="339.2" y="414.4"/><rect x="421.3" y="455.2"/><rect x="238.9" y="321.9"/><rect x="314.5" y="237.5"/><rect x="213.6" y="336.6"/><rect x="184.5" y="321.3"/><rect x="505.0" y="489.5"/><rect x="455.0" y="435.5"/><rect x="347.6" y="391.4"/><rect x="348.2" y="441.0"/><rect x="420.3" y="399.5"/><rect x="206.2" y="419.6"/><rect x="410.3" y="456.3"/><rect x="342.0" y="393.8"/><rect x="443.6" y="426.2"/><rect x="314.0" y="426.3"/><rect x="202.5" y="350.6"/><rect x="359.0" y="380.6"/><rect x="442.0" y="429.0"/><rect x="412.0" y="420.2"/><rect x="378.9" y="325.8"/><rect x="128.5" y="301.8"/><rect x="74.7" y="226.3"/><rect x="392.1" y="385.0"/><rect x="452.8" y="440.3"/><rect x="383.4" y="391.6"/><rect x="378.9" y="433.6"/><rect x="425.7" y="474.1"/><rect x="510.9" y="441.8"/><rect x="296.6" y="389.0"/><rect x="449.3" y="453.3"/><rect x="236.1" y="399.0"/><rect x="355.1" y="381.2"/><rect x="398.2" y="420.9"/><rect x="467.2" y="420.8"/><rect x="451.7" y="423.7"/><rect x="389.0" y="434.2"/><rect x="478.7" y="445.7"/><rect x="495.5" y="465.2"/><rect x="310.0" y="326.4"/><rect x="291.4" y="429.7"/><rect x="422.3" y="367.7"/><rect x="386.9" y="477.7"/><rect x="364.8" y="436.3"/><rect x="461.4" y="466.4"/><rect x="380.0" y="412.5"/><rect x="438.1" y="370.8"/><rect x="195.7" y="370.6"/><rect x="429.3" y="389.3"/><rect x="300.9" y="370.3"/><rect x="300.3" y="387.4"/><rect x="188.7" y="365.9"/><rect x="317.9" y="398.9"/><rect x="435.8" y="326.0"/><rect x="190.0" y="270.5"/><rect x="489.9" y="394.0"/><rect x="312.1" y="364.9"/><rect x="352.9" y="402.4"/><rect x="436.3" y="496.0"/><rect x="420.4" y="388.4"/><rect x="190.1" y="303.2"/><rect x="408.8" y="413.1"/><rect x="380.7" y="460.8"/><rect x="421.1" y="382.5"/><rect x="480.0" y="411.7"/><rect x="219.1" y="389.1"/><rect x="318.8" y="433.2"/><rect x="299.3" y="359.0"/><rect x="175.9" y="365.9"/><rect x="338.6" y="376.9"/><rect x="436.5" y="406.1"/><rect x="411.4" y="502.0"/><rect x="363.1" y="386.3"/><rect x="467.0" y="422.6"/><rect x="300.7" y="406.2"/><rect x="350.7" y="443.1"/><rect x="384.9" y="390.6"/><rect x="342.0" y="429.6"/><rect x="340.8" y="433.8"/><rect x="335.5" y="417.6"/><rect x="537.6" y="397.7"/><rect x="363.4" y="392.1"/><rect x="236.5" y="409.6"/><rect x="508.7" y="440.8"/><rect x="454.3" y="422.8"/><rect x="311.3" y="380.8"/><rect x="151.7" y="409.2"/><rect x="377.9" y="389.0"/><rect x="283.4" y="390.2"/><rect x="507.7" y="427.5"/><rect x="423.5" y="421.8"/><rect x="364.4" y="437.9"/><rect x="466.0" y="385.2"/><rect x="481.4" y="411.2"/><rect x="328.2" y="329.1"/><rect x="224.7" y="321.2"/><rect x="431.9" y="386.4"/><rect x="376.2" y="437.9"/><rect x="307.2" y="377.3"/><rect x="393.2" y="381.3"/><rect x="305.4" y="324.6"/><rect x="427.7" y="447.3"/><rect x="350.7" y="424.4"/><rect x="320.5" y="371.2"/><rect x="235.7" y="380.2"/><rect x="466.6" y="483.2"/><rect x="239.4" y="338.4"/><rect x="528.1" y="492.7"/><rect x="326.9" y="396.3"/><rect x="188.5" y="352.0"/><rect x="403.2" y="357.7"/><rect x="406.5" y="364.0"/><rect x="414.5" y="380.1"/><rect x="422.5" y="420.3"/><rect x="310.5" y="365.5"/><rect x="69.8" y="210.9"/><rect x="459.5" y="382.9"/><rect x="263.5" y="411.2"/><rect x="324.7" y="406.6"/><rect x="375.4" y="344.7"/><rect x="355.1" y="377.8"/><rect x="528.0" y="401.7"/><rect x="318.8" y="405.2"/><rect x="473.0" y="491.5"/><rect x="179.9" y="382.5"/><rect x="504.0" y="470.8"/><rect x="391.3" y="394.2"/><rect x="222.3" y="318.0"/><rect x="329.0" y="402.3"/><rect x="392.9" y="483.7"/><rect x="421.4" y="380.1"/><rect x="501.5" y="441.8"/><rect x="503.0" y="418.4"/><rect x="372.7" y="379.5"/><rect x="313.4" y="289.9"/><rect x="342.2" y="447.8"/><rect x="397.7" y="402.9"/><rect x="239.2" y="387.3"/><rect x="369.7" y="390.1"/><rect x="387.1" y="386.1"/><rect x="379.0" y="458.3"/><rect x="223.1" y="336.5"/><rect x="404.4" y="458.7"/><rect x="357.9" y="406.8"/><rect x="387.0" y="468.2"/><rect x="387.8" y="365.7"/><rect x="240.1" y="407.8"/><rect x="316.7" y="437.8"/><rect x="383.1" y="416.7"/><rect x="207.5" y="385.3"/><rect x="307.8" y="433.1"/><rect x="483.2" y="434.8"/><rect x="284.0" y="381.2"/><rect x="522.4" y="445.3"/><rect x="139.2" y="384.3"/><rect x="324.5" y="433.8"/><rect x="344.2" y="407.9"/><rect x="81.6" y="284.1"/><rect x="399.8" y="422.5"/><rect x="407.1" y="446.8"/><rect x="364.9" y="433.1"/><rect x="311.9" y="398.3"/><rect x="294.5" y="418.5"/><rect x="396.6" y="448.6"/><rect x="289.3" y="403.8"/><rect x="416.7" y="336.7"/><rect x="398.5" y="409.6"/><rect x="478.7" y="382.7"/><rect x="549.8" y="429.0"/><rect x="433.7" y="400.6"/><rect x="305.6" y="413.1"/><rect x="339.7" y="391.5"/><rect x="350.2" y="422.1"/><rect x="343.0" y="442.5"/><rect x="409.9" y="384.6"/><rect x="292.7" y="387.0"/><rect x="377.9" y="370.8"/><rect x="442.6" y="419.4"/><rect x="373.5" y="424.3"/><rect x="297.4" y="415.1"/><rect x="429.6" y="464.2"/><rect x="445.4" y="401.5"/><rect x="423.3" y="375.2"/><rect x="548.5" y="424.9"/><rect x="478.0" y="383.4"/><rect x="471.2" y="416.9"/><rect x="492.8" y="446.5"/><rect x="290.4" y="438.2"/><rect x="426.6" y="410.6"/><rect x="307.9" y="437.2"/><rect x="507.0" y="412.6"/><rect x="517.4" y="448.8"/><rect x="273.5" y="388.3"/><rect x="408.3" y="401.8"/><rect x="313.4" y="295.5"/><rect x="123.9" y="339.0"/><rect x="516.1" y="447.6"/><rect x="370.7" y="447.1"/><rect x="334.6" y="429.5"/><rect x="367.6" y="450.1"/><rect x="348.5" y="365.3"/><rect x="459.3" y="441.9"/><rect x="296.2" y="379.0"/><rect x="401.3" y="414.4"/><rect x="438.2" y="448.4"/><rect x="456.0" y="433.7"/><rect x="77.5" y="305.5"/><rect x="466.1" y="433.9"/><rect x="450.1" y="408.9"/><rect x="403.9" y="398.2"/><rect x="380.9" y="348.4"/><rect x="449.9" y="500.1"/><rect x="497.0" y="400.1"/><rect x="451.9" y="391.3"/><rect x="256.4" y="386.7"/><rect x="386.0" y="449.2"/><rect x="305.6" y="422.6"/><rect x="476.0" y="454.5"/><rect x="238.8" y="387.7"/><rect x="339.2" y="276.1"/><rect x="271.5" y="401.3"/><rect x="409.3" y="420.4"/><rect x="248.6" y="371.6"/><rect x="434.5" y="381.9"/><rect x="467.3" y="392.7"/><rect x="385.7" y="476.1"/><rect x="370.1" y="410.8"/><rect x="176.3" y="273.3"/><rect x="434.4" y="447.9"/><rect x="471.7" y="436.8"/><rect x="475.8" y="455.5"/><rect x="464.0" y="428.2"/><rect x="362.2" y="407.1"/><rect x="243.8" y="361.5"/><rect x="300.8" y="401.7"/><rect x="377.6" y="308.7"/><rect x="446.2" y="410.6"/><rect x="340.8" y="359.1"/><rect x="472.2" y="409.9"/><rect x="285.5" y="435.7"/><rect x="192.6" y="261.2"/><rect x="326.5" y="268.1"/><rect x="323.2" y="393.6"/><rect x="367.5" y="237.8"/><rect x="448.8" y="427.6"/><rect x="348.5" y="390.5"/><rect x="459.4" y="442.6"/><rect x="459.2" y="384.1"/><rect x="318.5" y="399.8"/><rect x="283.2" y="372.1"/><rect x="345.1" y="290.1"/><rect x="490.4" y="432.5"/><rect x="423.2" y="391.5"/><rect x="273.3" y="403.0"/><rect x="450.2" y="377.7"/><rect x="374.5" y="308.8"/><rect x="302.6" y="403.6"/><rect x="191.7" y="371.9"/><rect x="332.6" y="445.0"/><rect x="434.3" y="377.5"/><rect x="349.9" y="436.1"/><rect x="482.7" y="479.3"/><rect x="207.2" y="402.9"/><rect x="400.9" y="384.8"/><rect x="377.1" y="378.3"/><rect x="445.9" y="404.5"/><rect x="394.3" y="494.2"/><rect x="464.2" y="418.7"/><rect x="423.7" y="432.1"/><rect x="273.4" y="407.9"/><rect x="424.0" y="419.2"/><rect x="392.2" y="400.2"/><rect x="327.2" y="310.3"/><rect x="435.8" y="440.4"/><rect x="258.4" y="388.4"/><rect x="415.3" y="432.6"/><rect x="393.4" y="415.2"/><rect x="356.6" y="469.2"/><rect x="303.5" y="295.2"/><rect x="426.7" y="353.2"/><rect x="552.3" y="419.2"/><rect x="444.2" y="402.7"/><rect x="329.9" y="456.3"/><rect x="397.6" y="405.2"/><rect x="405.1" y="453.3"/><rect x="280.2" y="408.4"/><rect x="247.3" y="425.0"/><rect x="258.2" y="400.5"/><rect x="418.0" y="439.0"/><rect x="476.4" y="417.9"/><rect x="405.7" y="409.8"/><rect x="364.4" y="467.5"/><rect x="431.3" y="445.1"/><rect x="362.6" y="430.7"/><rect x="197.5" y="312.0"/><rect x="471.9" y="445.2"/><rect x="371.6" y="415.6"/><rect x="337.7" y="389.9"/><rect x="403.0" y="378.2"/><rect x="381.1" y="424.5"/><rect x="525.3" y="465.0"/><rect x="292.7" y="386.1"/><rect x="390.5" y="362.7"/><rect x="378.1" y="443.2"/><rect x="451.6" y="418.2"/><rect x="548.3" y="442.7"/><rect x="462.8" y="474.4"/><rect x="443.5" y="352.1"/><rect x="571.9" y="494.3"/><rect x="262.9" y="352.6"/><rect x="389.9" y="422.6"/><rect x="393.3" y="429.3"/><rect x="301.7" y="417.5"/><rect x="378.4" y="438.8"/><rect x="373.4" y="477.7"/><rect x="440.9" y="450.2"/><rect x="354.4" y="401.8"/><rect x="491.2" y="448.1"/><rect x="455.0" y="419.4"/><rect x="282.8" y="365.8"/><rect x="364.2" y="387.9"/><rect x="216.2" y="378.7"/><rect x="467.3" y="471.0"/><rect x="386.4" y="468.3"/><rect x="331.2" y="427.1"/><rect x="383.3" y="410.5"/><rect x="246.7" y="383.7"/><rect x="375.6" y="402.0"/><rect x="499.0" y="432.1"/><rect x="306.0" y="400.9"/><rect x="196.9" y="323.0"/><rect x="235.0" y="372.9"/><rect x="350.6" y="416.5"/><rect x="277.0" y="386.2"/><rect x="370.5" y="385.6"/><rect x="356.7" y="446.0"/><rect x="424.8" y="365.9"/><rect x="208.6" y="342.3"/><rect x="349.8" y="459.3"/><rect x="460.4" y="429.8"/><rect x="137.3" y="297.7"/><rect x="448.4" y="403.0"/><rect x="368.3" y="402.7"/><rect x="422.5" y="425.9"/><rect x="313.9" y="341.3"/><rect x="247.6" y="420.1"/><rect x="406.5" y="364.7"/><rect x="195.4" y="416.8"/><rect x="300.6" y="408.5"/><rect x="161.5" y="399.3"/><rect x="417.4" y="442.6"/><rect x="350.8" y="283.0"/><rect x="250.6" y="356.2"/><rect x="460.7" y="396.3"/><rect x="220.1" y="372.1"/><rect x="240.6" y="246.8"/><rect x="407.7" y="406.9"/><rect x="255.8" y="333.6"/><rect x="206.1" y="311.7"/><rect x="386.4" y="354.3"/><rect x="423.4" y="379.6"/><rect x="367.9" y="380.3"/><rect x="361.8" y="381.0"/><rect x="350.6" y="277.1"/><rect x="510.2" y="482.3"/><rect x="338.8" y="257.2"/><rect x="524.6" y="470.3"/><rect x="260.5" y="354.3"/><rect x="440.3" y="410.0"/><rect x="354.8" y="428.7"/><rect x="395.7" y="432.0"/><rect x="363.8" y="399.3"/><rect x="391.8" y="460.7"/><rect x="410.1" y="395.7"/><rect x="438.9" y="377.1"/><rect x="497.7" y="503.5"/><rect x="277.9" y="437.4"/><rect x="363.4" y="414.7"/><rect x="480.0" y="426.2"/><rect x="361.9" y="421.7"/><rect x="484.8" y="422.4"/><rect x="347.8" y="403.3"/><rect x="368.1" y="388.8"/><rect x="506.0" y="441.9"/><rect x="449.8" y="398.2"/><rect x="240.8" y="405.1"/><rect x="122.3" y="302.2"/><rect x="232.9" y="377.2"/><rect x="483.3" y="448.4"/><rect x="492.1" y="435.2"/><rect x="436.6" y="389.2"/><rect x="317.5" y="346.9"/><rect x="423.5" y="428.4"/><rect x="530.4" y="427.7"/><rect x="425.6" y="435.9"/><rect x="390.3" y="414.7"/><rect x="288.2" y="409.6"/><rect x="454.8" y="413.8"/><rect x="425.1" y="386.1"/><rect x="350.2" y="421.6"/><rect x="379.9" y="349.9"/><rect x="380.0" y="320.8"/><rect x="439.3" y="439.9"/><rect x="333.9" y="402.2"/><rect x="497.6" y="354.4"/><rect x="251.0" y="332.3"/><rect x="310.2" y="421.7"/><rect x="359.1" y="395.1"/><rect x="278.4" y="347.7"/><rect x="309.9" y="379.0"/><rect x="429.7" y="428.5"/><rect x="439.4" y="464.3"/><rect x="409.1" y="410.0"/><rect x="386.6" y="460.8"/><rect x="528.5" y="460.6"/><rect x="254.7" y="376.4"/><rect x="307.7" y="365.9"/><rect x="480.9" y="344.2"/><rect x="414.5" y="417.2"/><rect x="446.2" y="452.8"/><rect x="211.1" y="278.8"/><rect x="479.1" y="392.9"/><rect x="431.2" y="411.1"/><rect x="404.0" y="381.9"/><rect x="249.7" y="355.1"/><rect x="337.9" y="420.3"/><rect x="565.3" y="432.0"/><rect x="442.9" y="411.6"/><rect x="277.1" y="432.7"/><rect x="375.2" y="474.6"/><rect x="325.8" y="461.6"/><rect x="384.0" y="363.4"/><rect x="470.6" y="454.2"/><rect x="271.6" y="321.7"/><rect x="288.1" y="373.3"/><rect x="307.8" y="421.7"/><rect x="378.9" y="385.4"/><rect x="330.7" y="409.7"/><rect x="334.1" y="366.7"/><rect x="406.1" y="418.5"/><rect x="449.9" y="442.6"/><rect x="396.9" y="454.4"/><rect x="372.5" y="414.9"/><rect x="327.1" y="410.8"/><rect x="314.4" y="400.4"/><rect x="329.1" y="444.7"/><rect x="453.2" y="441.8"/><rect x="340.8" y="398.5"/><rect x="421.0" y="404.1"/><rect x="294.3" y="364.1"/><rect x="299.0" y="388.2"/><rect x="327.0" y="385.0"/><rect x="422.4" y="427.8"/><rect x="336.8" y="378.5"/><rect x="341.1" y="348.8"/><rect x="298.3" y="388.2"/><rect x="445.6" y="409.7"/><rect x="279.1" y="395.4"/><rect x="345.1" y="377.8"/><rect x="510.5" y="442.3"/><rect x="259.6" y="368.8"/><rect x="370.5" y="409.5"/><rect x="281.1" y="381.9"/><rect x="435.6" y="311.2"/><rect x="291.4" y="327.3"/><rect x="357.4" y="400.9"/><rect x="425.0" y="433.7"/><rect x="447.6" y="459.3"/><rect x="407.4" y="381.1"/><rect x="407.6" y="425.0"/><rect x="198.4" y="293.8"/><rect x="436.7" y="440.1"/><rect x="423.0" y="434.3"/><rect x="386.8" y="441.5"/><rect x="427.3" y="400.2"/><rect x="429.6" y="406.7"/><rect x="402.9" y="431.3"/><rect x="505.1" y="386.5"/><rect x="364.9" y="378.9"/><rect x="212.9" y="386.3"/><rect x="223.8" y="301.8"/><rect x="289.5" y="423.5"/><rect x="252.6" y="364.1"/><rect x="459.8" y="394.1"/><rect x="350.6" y="373.5"/><rect x="398.9" y="375.7"/><rect x="434.7" y="473.7"/><rect x="325.2" y="285.3"/><rect x="416.2" y="395.5"/><rect x="402.5" y="433.3"/><rect x="419.4" y="403.7"/><rect x="158.1" y="300.2"/><rect x="298.2" y="321.9"/><rect x="485.8" y="462.3"/><rect x="239.7" y="366.8"/><rect x="414.4" y="435.2"/><rect x="221.7" y="364.2"/><rect x="388.7" y="463.9"/><rect x="379.5" y="356.1"/><rect x="388.6" y="420.5"/><rect x="431.3" y="420.3"/><rect x="429.1" y="349.4"/><rect x="299.5" y="408.2"/><rect x="450.6" y="421.5"/><rect x="368.3" y="287.2"/><rect x="198.4" y="352.7"/><rect x="429.6" y="406.4"/><rect x="287.3" y="407.7"/><rect x="302.2" y="377.5"/><rect x="196.2" y="382.8"/><rect x="193.3" y="333.9"/><rect x="446.4" y="432.0"/><rect x="192.0" y="367.7"/><rect x="506.6" y="402.1"/><rect x="378.8" y="412.4"/><rect x="421.0" y="373.1"/><rect x="213.6" y="397.1"/><rect x="391.8" y="393.4"/><rect x="298.8" y="428.5"/><rect x="299.0" y="385.4"/><rect x="517.4" y="437.1"/><rect x="282.0" y="380.7"/><rect x="106.9" y="338.2"/><rect x="398.6" y="429.7"/><rect x="505.6" y="396.6"/><rect x="271.6" y="383.0"/><rect x="423.3" y="433.8"/><rect x="389.4" y="435.9"/><rect x="330.4" y="390.3"/><rect x="478.6" y="438.3"/><rect x="332.0" y="439.8"/><rect x="360.5" y="392.1"/><rect x="454.1" y="433.2"/><rect x="450.1" y="417.6"/><rect x="427.2" y="419.2"/><rect x="239.8" y="351.9"/><rect x="403.8" y="464.6"/><rect x="369.1" y="376.1"/><rect x="404.6" y="379.3"/><rect x="382.5" y="380.7"/><rect x="389.0" y="441.9"/><rect x="275.7" y="422.0"/><rect x="397.5" y="463.1"/><rect x="351.7" y="410.9"/><rect x="371.2" y="425.6"/><rect x="264.4" y="343.0"/><rect x="68.6" y="349.6"/><rect x="403.0" y="477.2"/><rect x="415.4" y="406.4"/><rect x="363.4" y="401.9"/><rect x="473.8" y="463.1"/><rect x="334.3" y="382.0"/><rect x="466.1" y="431.7"/><rect x="372.6" y="451.6"/><rect x="375.5" y="398.4"/><rect x="216.5" y="298.1"/><rect x="190.4" y="438.4"/><rect x="334.8" y="451.4"/><rect x="146.4" y="363.2"/><rect x="272.8" y="429.6"/><rect x="241.2" y="398.8"/><rect x="231.9" y="324.8"/><rect x="428.2" y="463.0"/><rect x="450.3" y="392.1"/><rect x="411.1" y="378.6"/><rect x="463.0" y="416.9"/><rect x="435.1" y="439.2"/><rect x="414.8" y="467.8"/><rect x="239.9" y="363.5"/><rect x="340.7" y="368.0"/><rect x="467.8" y="388.0"/><rect x="320.0" y="351.3"/><rect x="263.1" y="399.2"/><rect x="459.7" y="398.3"/><rect x="323.3" y="404.0"/><rect x="244.6" y="431.1"/><rect x="277.5" y="402.6"/><rect x="366.1" y="437.0"/><rect x="355.3" y="363.6"/><rect x="369.8" y="411.3"/><rect x="357.1" y="370.9"/><rect x="348.1" y="360.5"/><rect x="320.7" y="352.5"/><rect x="456.0" y="388.6"/><rect x="335.5" y="334.9"/><rect x="262.9" y="358.6"/><rect x="328.5" y="388.4"/><rect x="372.2" y="410.0"/><rect x="373.6" y="432.6"/><rect x="423.8" y="471.0"/><rect x="386.7" y="439.2"/><rect x="311.2" y="415.8"/><rect x="522.4" y="469.4"/><rect x="464.5" y="411.1"/><rect x="260.2" y="331.7"/><rect x="307.3" y="404.4"/><rect x="330.6" y="418.6"/><rect x="430.8" y="409.0"/><rect x="151.8" y="359.9"/><rect x="449.9" y="395.9"/><rect x="412.8" y="451.0"/><rect x="395.8" y="441.2"/><rect x="413.3" y="393.6"/><rect x="237.8" y="307.2"/><rect x="227.3" y="380.1"/><rect x="321.5" y="366.8"/><rect x="456.0" y="334.8"/><rect x="407.5" y="391.2"/><rect x="451.0" y="425.3"/><rect x="167.9" y="388.5"/><rect x="366.9" y="454.5"/><rect x="321.2" y="435.6"/><rect x="399.9" y="416.8"/><rect x="384.8" y="474.2"/><rect x="375.3" y="426.7"/><rect x="383.8" y="346.1"/><rect x="206.5" y="349.3"/><rect x="387.5" y="410.0"/><rect x="364.8" y="370.2"/><rect x="355.0" y="428.6"/><rect x="359.2" y="372.2"/><rect x="430.1" y="437.8"/><rect x="466.7" y="500.8"/><rect x="301.1" y="386.6"/><rect x="278.1" y="416.2"/><rect x="335.6" y="405.7"/><rect x="403.6" y="444.6"/><rect x="247.5" y="386.5"/><rect x="408.0" y="446.8"/><rect x="384.2" y="422.9"/><rect x="97.5" y="263.9"/><rect x="158.7" y="321.2"/><rect x="390.1" y="399.2"/><rect x="283.2" y="406.0"/><rect x="318.3" y="365.0"/><rect x="443.9" y="430.6"/><rect x="467.1" y="445.0"/><rect x="334.4" y="338.6"/><rect x="372.7" y="417.6"/><rect x="317.4" y="365.3"/><rect x="370.5" y="399.1"/><rect x="459.5" y="476.0"/><rect x="503.4" y="436.6"/><rect x="219.1" y="407.7"/><rect x="311.1" y="407.7"/><rect x="395.9" y="411.4"/><rect x="378.9" y="405.0"/><rect x="466.9" y="445.0"/><rect x="338.6" y="399.0"/><rect x="297.5" y="320.2"/><rect x="532.9" y="461.6"/><rect x="444.5" y="442.3"/><rect x="370.1" y="472.9"/><rect x="405.9" y="374.2"/><rect x="401.8" y="395.5"/><rect x="357.3" y="429.4"/><rect x="204.7" y="368.5"/><rect x="371.1" y="406.3"/><rect x="223.2" y="368.2"/><rect x="326.1" y="421.3"/><rect x="250.2" y="387.4"/><rect x="432.4" y="408.8"/><rect x="314.5" y="392.8"/><rect x="464.5" y="369.5"/><rect x="439.4" y="423.8"/><rect x="391.8" y="415.6"/><rect x="453.7" y="418.0"/><rect x="308.7" y="378.9"/><rect x="330.6" y="417.3"/><rect x="402.7" y="423.1"/><rect x="238.8" y="383.7"/><rect x="340.4" y="376.9"/><rect x="319.8" y="424.0"/><rect x="305.1" y="350.6"/><rect x="549.5" y="400.6"/><rect x="401.8" y="444.8"/><rect x="324.0" y="334.3"/><rect x="256.4" y="370.1"/><rect x="473.9" y="424.9"/><rect x="273.4" y="385.6"/><rect x="185.9" y="335.5"/><rect x="409.8" y="384.4"/><rect x="359.9" y="376.1"/><rect x="423.6" y="447.1"/><rect x="449.5" y="371.2"/><rect x="295.7" y="368.0"/><rect x="72.3" y="259.2"/><rect x="287.9" y="418.3"/><rect x="225.9" y="395.3"/><rect x="436.1" y="443.8"/><rect x="397.1" y="414.9"/><rect x="481.7" y="394.3"/><rect x="309.1" y="392.6"/><rect x="501.0" y="448.6"/><rect x="443.1" y="387.6"/><rect x="438.1" y="446.5"/><rect x="386.5" y="440.5"/><rect x="392.2" y="412.3"/><rect x="443.0" y="385.3"/><rect x="294.0" y="387.6"/><rect x="200.9" y="313.3"/><rect x="495.3" y="448.3"/><rect x="311.3" y="381.8"/><rect x="493.9" y="463.9"/><rect x="257.8" y="372.6"/><rect x="424.8" y="475.1"/><rect x="341.8" y="340.7"/><rect x="321.1" y="382.1"/><rect x="292.8" y="333.3"/><rect x="447.0" y="411.9"/><rect x="228.4" y="368.5"/><rect x="414.9" y="422.1"/><rect x="401.2" y="382.1"/><rect x="406.2" y="400.9"/><rect x="274.3" y="365.6"/><rect x="470.8" y="375.4"/><rect x="312.8" y="386.4"/><rect x="316.4" y="455.7"/><rect x="407.8" y="431.9"/><rect x="481.6" y="405.3"/><rect x="362.0" y="388.4"/><rect x="232.7" y="357.8"/><rect x="331.5" y="429.6"/><rect x="323.0" y="453.0"/><rect x="278.5" y="386.4"/><rect x="273.4" y="346.9"/><rect x="259.8" y="396.4"/><rect x="417.6" y="416.9"/><rect x="273.2" y="344.3"/><rect x="440.4" y="381.8"/><rect x="544.5" y="471.7"/><rect x="440.2" y="406.0"/><rect x="296.5" y="393.8"/><rect x="533.2" y="422.9"/><rect x="398.9" y="414.3"/><rect x="303.3" y="398.6"/><rect x="269.4" y="429.9"/><rect x="544.0" y="388.1"/><rect x="329.1" y="396.4"/><rect x="410.5" y="434.8"/><rect x="306.8" y="405.2"/><rect x="445.3" y="390.9"/><rect x="334.7" y="395.1"/><rect x="490.2" y="409.7"/><rect x="287.9" y="405.7"/><rect x="366.4" y="368.3"/><rect x="358.9" y="386.3"/><rect x="304.8" y="355.6"/><rect x="325.1" y="256.5"/><rect x="458.2" y="428.1"/><rect x="264.6" y="392.0"/><rect x="403.8" y="401.3"/><rect x="346.2" y="404.1"/><rect x="369.6" y="431.2"/><rect x="474.4" y="475.2"/><rect x="424.4" y="446.2"/><rect x="405.4" y="446.1"/><rect x="358.3" y="392.7"/><rect x="329.3" y="362.8"/><rect x="434.1" y="461.6"/><rect x="329.9" y="354.0"/><rect x="455.6" y="402.9"/><rect x="287.9" y="429.6"/><rect x="334.5" y="432.6"/><rect x="339.6" y="393.9"/><rect x="402.9" y="456.0"/><rect x="431.4" y="416.0"/><rect x="419.9" y="406.2"/><rect x="308.3" y="418.7"/><rect x="413.8" y="423.4"/><rect x="370.1" y="411.0"/><rect x="420.9" y="411.5"/><rect x="300.8" y="369.8"/><rect x="349.4" y="428.7"/><rect x="478.3" y="406.4"/><rect x="377.2" y="386.5"/><rect x="453.0" y="438.1"/><rect x="399.7" y="414.8"/><rect x="332.4" y="395.9"/><rect x="437.5" y="399.1"/><rect x="79.9" y="237.2"/><rect x="375.1" y="426.7"/><rect x="378.5" y="393.9"/><rect x="300.6" y="372.5"/><rect x="328.3" y="361.9"/><rect x="294.4" y="424.2"/><rect x="478.0" y="479.5"/><rect x="112.4" y="273.8"/><rect x="387.8" y="404.8"/><rect x="444.4" y="325.3"/><rect x="351.7" y="419.3"/><rect x="206.4" y="320.6"/><rect x="236.7" y="367.9"/><rect x="477.5" y="490.0"/><rect x="344.4" y="397.9"/><rect x="242.3" y="337.1"/><rect x="344.2" y="422.8"/><rect x="157.9" y="270.7"/><rect x="295.3" y="324.3"/><rect x="301.4" y="283.9"/><rect x="264.7" y="382.6"/><rect x="393.2" y="368.6"/><rect x="483.8" y="392.7"/><rect x="412.8" y="374.1"/><rect x="514.3" y="465.6"/><rect x="423.7" y="419.6"/><rect x="447.8" y="469.0"/><rect x="286.1" y="376.8"/><rect x="549.0" y="470.9"/><rect x="364.8" y="407.7"/><rect x="325.3" y="362.5"/><rect x="415.7" y="328.1"/><rect x="425.0" y="428.1"/><rect x="461.9" y="385.2"/><rect x="225.5" y="389.4"/><rect x="514.3" y="453.3"/><rect x="382.2" y="423.1"/><rect x="366.2" y="441.7"/><rect x="355.7" y="370.3"/><rect x="305.9" y="320.2"/><rect x="392.1" y="390.9"/><rect x="163.6" y="382.3"/><rect x="154.2" y="369.6"/><rect x="378.6" y="453.5"/><rect x="368.3" y="440.7"/><rect x="490.1" y="442.0"/><rect x="342.4" y="413.9"/><rect x="159.2" y="371.4"/><rect x="272.9" y="351.0"/><rect x="226.4" y="398.3"/><rect x="214.4" y="270.0"/><rect x="463.8" y="447.7"/><rect x="367.1" y="355.1"/><rect x="209.7" y="324.3"/><rect x="448.3" y="454.9"/><rect x="397.7" y="404.4"/><rect x="396.8" y="390.7"/><rect x="142.4" y="309.2"/><rect x="171.7" y="299.5"/><rect x="342.9" y="361.3"/><rect x="492.8" y="439.6"/><rect x="529.7" y="500.4"/><rect x="225.1" y="343.0"/><rect x="364.5" y="409.9"/><rect x="309.4" y="408.5"/><rect x="274.1" y="358.6"/><rect x="325.1" y="374.3"/><rect x="385.6" y="410.2"/><rect x="194.8" y="304.0"/><rect x="479.0" y="421.7"/><rect x="352.5" y="406.0"/><rect x="425.4" y="380.1"/><rect x="347.0" y="339.6"/><rect x="335.3" y="432.6"/><rect x="409.1" y="420.2"/><rect x="175.9" y="327.5"/><rect x="424.9" y="432.9"/><rect x="386.5" y="394.3"/><rect x="204.2" y="403.4"/><rect x="476.5" y="451.2"/><rect x="328.6" y="454.1"/><rect x="371.4" y="442.2"/><rect x="379.8" y="452.3"/><rect x="225.6" y="353.1"/><rect x="344.6" y="344.8"/><rect x="356.5" y="409.4"/><rect x="491.0" y="450.4"/><rect x="251.4" y="416.7"/><rect x="374.5" y="385.4"/><rect x="395.1" y="371.1"/><rect x="465.8" y="412.5"/><rect x="481.4" y="431.1"/><rect x="356.1" y="416.6"/><rect x="361.3" y="465.3"/><rect x="416.9" y="459.4"/><rect x="195.4" y="344.5"/><rect x="296.7" y="367.1"/><rect x="448.1" y="426.6"/><rect x="291.2" y="426.2"/><rect x="349.6" y="387.0"/><rect x="240.7" y="335.7"/><rect x="368.9" y="401.0"/><rect x="400.6" y="448.5"/><rect x="190.5" y="270.0"/><rect x="372.3" y="369.5"/><rect x="356.4" y="386.7"/><rect x="490.9" y="326.2"/><rect x="434.3" y="411.5"/><rect x="348.7" y="380.8"/><rect x="534.5" y="471.2"/><rect x="356.7" y="430.1"/><rect x="411.5" y="424.6"/><rect x="465.7" y="438.8"/><rect x="364.3" y="377.9"/><rect x="453.0" y="423.1"/><rect x="339.0" y="329.8"/><rect x="512.8" y="460.2"/><rect x="439.4" y="424.9"/><rect x="506.6" y="443.9"/><rect x="266.1" y="302.8"/><rect x="427.1" y="372.0"/><rect x="379.6" y="404.9"/><rect x="374.0" y="421.9"/><rect x="309.6" y="438.4"/><rect x="422.8" y="445.5"/><rect x="364.9" y="431.0"/><rect x="345.7" y="387.9"/><rect x="404.4" y="412.9"/><rect x="456.1" y="424.3"/><rect x="390.5" y="378.3"/><rect x="349.2" y="364.7"/><rect x="394.3" y="306.3"/><rect x="365.6" y="432.9"/><rect x="494.4" y="464.7"/><rect x="452.0" y="318.9"/><rect x="342.1" y="397.5"/><rect x="442.9" y="480.8"/><rect x="373.2" y="420.7"/><rect x="235.7" y="385.3"/><rect x="452.3" y="418.4"/><rect x="305.5" y="431.7"/><rect x="415.0" y="322.9"/><rect x="411.2" y="420.8"/><rect x="293.3" y="402.4"/><rect x="407.2" y="377.2"/><rect x="439.5" y="400.1"/><rect x="490.5" y="425.1"/><rect x="323.7" y="416.3"/><rect x="418.0" y="420.5"/><rect x="393.4" y="371.6"/><rect x="363.1" y="430.5"/><rect x="161.9" y="297.4"/><rect x="281.2" y="364.2"/><rect x="362.2" y="384.1"/><rect x="490.1" y="403.5"/><rect x="398.1" y="310.8"/><rect x="433.1" y="450.2"/><rect x="131.4" y="325.7"/><rect x="489.7" y="470.6"/><rect x="437.3" y="402.6"/><rect x="412.7" y="457.6"/><rect x="376.3" y="386.9"/><rect x="471.2" y="449.9"/><rect x="475.7" y="429.0"/><rect x="376.6" y="433.2"/><rect x="326.0" y="298.0"/><rect x="481.8" y="403.9"/><rect x="319.0" y="328.4"/><rect x="378.5" y="421.5"/><rect x="263.5" y="325.2"/><rect x="183.1" y="301.3"/><rect x="323.6" y="397.2"/><rect x="273.7" y="393.0"/><rect x="426.9" y="320.5"/><rect x="263.7" y="388.9"/><rect x="452.0" y="446.6"/><rect x="408.9" y="365.7"/><rect x="491.1" y="415.5"/><rect x="367.1" y="438.2"/><rect x="347.5" y="412.1"/><rect x="248.7" y="393.7"/><rect x="475.6" y="469.1"/><rect x="304.3" y="413.9"/><rect x="388.9" y="392.5"/><rect x="180.5" y="411.2"/><rect x="310.4" y="405.2"/><rect x="324.1" y="443.7"/><rect x="333.2" y="387.3"/><rect x="74.7" y="315.5"/><rect x="364.1" y="386.9"/><rect x="434.2" y="406.7"/><rect x="459.7" y="431.1"/><rect x="431.1" y="396.1"/><rect x="224.4" y="390.4"/><rect x="519.2" y="423.1"/><rect x="254.2" y="356.9"/><rect x="322.8" y="403.6"/><rect x="522.2" y="446.1"/><rect x="317.8" y="444.0"/><rect x="212.9" y="345.7"/><rect x="562.1" y="446.4"/><rect x="174.3" y="354.6"/><rect x="321.4" y="277.0"/><rect x="184.6" y="254.1"/><rect x="380.0" y="413.5"/><rect x="488.4" y="449.9"/><rect x="395.3" y="412.6"/><rect x="384.6" y="363.1"/><rect x="383.1" y="396.0"/><rect x="450.9" y="413.1"/><rect x="365.3" y="330.9"/><rect x="506.5" y="407.2"/><rect x="396.7" y="366.4"/><rect x="470.0" y="443.0"/><rect x="436.5" y="403.0"/><rect x="409.5" y="386.4"/><rect x="259.8" y="378.5"/><rect x="310.7" y="415.0"/><rect x="449.8" y="445.1"/><rect x="374.6" y="461.2"/><rect x="343.9" y="360.5"/><rect x="301.4" y="428.6"/><rect x="400.0" y="343.1"/><rect x="404.5" y="317.3"/><rect x="352.3" y="365.9"/><rect x="402.6" y="422.9"/><rect x="370.4" y="409.5"/><rect x="250.2" y="363.4"/><rect x="402.6" y="457.4"/><rect x="369.0" y="348.6"/><rect x="326.2" y="421.1"/><rect x="254.9" y="429.1"/><rect x="373.3" y="386.0"/><rect x="349.1" y="428.0"/><rect x="445.5" y="409.3"/><rect x="398.7" y="418.9"/><rect x="267.4" y="417.6"/><rect x="472.9" y="411.1"/><rect x="517.4" y="424.5"/><rect x="466.2" y="437.0"/><rect x="460.5" y="402.8"/><rect x="554.8" y="404.9"/><rect x="476.0" y="361.2"/><rect x="447.3" y="398.3"/><rect x="453.2" y="443.9"/><rect x="436.4" y="419.8"/><rect x="482.1" y="456.3"/><rect x="395.0" y="390.6"/><rect x="328.8" y="407.0"/><rect x="304.7" y="377.1"/><rect x="205.3" y="368.4"/><rect x="334.2" y="381.9"/><rect x="477.6" y="432.8"/><rect x="500.9" y="468.8"/><rect x="401.8" y="402.8"/><rect x="355.8" y="323.6"/><rect x="287.0" y="357.2"/><rect x="335.8" y="454.4"/><rect x="119.8" y="384.5"/><rect x="395.4" y="490.9"/><rect x="69.8" y="223.8"/><rect x="428.9" y="432.6"/><rect x="324.2" y="386.6"/><rect x="281.8" y="395.0"/><rect x="267.0" y="374.6"/><rect x="319.6" y="339.1"/><rect x="326.1" y="448.8"/><rect x="205.5" y="270.8"/><rect x="515.3" y="452.8"/><rect x="290.0" y="336.4"/><rect x="463.1" y="408.6"/><rect x="436.3" y="442.7"/><rect x="329.6" y="427.0"/><rect x="247.6" y="384.8"/><rect x="354.6" y="429.5"/><rect x="487.0" y="366.2"/><rect x="435.1" y="459.1"/><rect x="279.9" y="399.5"/><rect x="337.9" y="432.3"/><rect x="279.3" y="389.9"/><rect x="301.1" y="450.9"/><rect x="404.3" y="383.3"/><rect x="306.2" y="420.3"/><rect x="483.3" y="409.4"/><rect x="498.4" y="394.3"/><rect x="372.5" y="346.7"/><rect x="339.8" y="287.6"/><rect x="385.4" y="442.7"/><rect x="130.1" y="333.4"/><rect x="328.0" y="446.2"/><rect x="491.7" y="405.0"/><rect x="317.3" y="377.6"/><rect x="318.8" y="347.0"/><rect x="419.2" y="430.1"/><rect x="447.2" y="457.7"/><rect x="309.0" y="345.4"/><rect x="380.2" y="397.3"/><rect x="340.1" y="446.3"/><rect x="520.4" y="438.8"/><rect x="494.9" y="424.3"/><rect x="449.9" y="324.5"/><rect x="312.7" y="281.8"/><rect x="438.5" y="459.9"/><rect x="362.9" y="404.2"/><rect x="390.0" y="453.1"/><rect x="413.0" y="324.5"/><rect x="338.9" y="372.2"/><rect x="226.4" y="387.4"/><rect x="452.1" y="429.4"/><rect x="365.5" y="426.5"/><rect x="450.1" y="389.4"/><rect x="167.8" y="308.1"/><rect x="359.1" y="414.5"/><rect x="474.8" y="437.2"/><rect x="382.2" y="442.7"/><rect x="358.3" y="392.8"/><rect x="367.1" y="425.5"/><rect x="351.3" y="414.0"/><rect x="429.4" y="381.3"/><rect x="440.6" y="358.9"/><rect x="314.8" y="346.6"/><rect x="347.8" y="323.7"/><rect x="416.8" y="372.3"/><rect x="426.6" y="391.5"/><rect x="497.1" y="420.8"/><rect x="394.7" y="410.3"/><rect x="412.8" y="450.2"/><rect x="346.3" y="413.4"/><rect x="469.2" y="413.7"/><rect x="443.2" y="419.6"/><rect x="274.6" y="361.2"/><rect x="129.3" y="283.5"/><rect x="361.7" y="359.0"/><rect x="371.5" y="414.5"/><rect x="463.0" y="386.5"/><rect x="476.8" y="447.1"/><rect x="404.3" y="478.6"/><rect x="342.6" y="348.6"/><rect x="485.3" y="444.9"/><rect x="178.1" y="335.9"/><rect x="274.7" y="356.4"/><rect x="469.6" y="414.0"/><rect x="284.3" y="369.6"/><rect x="382.2" y="469.0"/><rect x="420.9" y="359.8"/><rect x="284.2" y="388.7"/><rect x="481.8" y="406.8"/><rect x="444.3" y="419.8"/><rect x="365.3" y="398.6"/><rect x="319.1" y="385.6"/><rect x="449.5" y="367.3"/><rect x="342.8" y="396.8"/><rect x="455.8" y="417.9"/><rect x="335.5" y="392.6"/><rect x="257.9" y="392.2"/><rect x="475.5" y="405.0"/><rect x="424.1" y="406.2"/><rect x="335.4" y="359.5"/><rect x="386.5" y="466.2"/><rect x="336.6" y="423.2"/><rect x="352.9" y="416.2"/><rect x="464.4" y="430.8"/><rect x="305.4" y="415.5"/><rect x="280.1" y="386.5"/><rect x="426.0" y="367.8"/><rect x="347.3" y="341.4"/><rect x="410.5" y="477.2"/><rect x="342.5" y="389.6"/><rect x="567.3" y="491.7"/><rect x="328.0" y="385.9"/><rect x="359.1" y="351.9"/><rect x="355.0" y="355.3"/><rect x="445.8" y="358.4"/><rect x="347.9" y="362.0"/><rect x="416.1" y="419.9"/><rect x="317.9" y="401.2"/><rect x="345.2" y="304.0"/><rect x="395.3" y="353.8"/><rect x="395.2" y="400.1"/><rect x="400.3" y="442.2"/><rect x="371.2" y="435.9"/><rect x="277.2" y="407.4"/><rect x="305.3" y="376.2"/><rect x="411.9" y="406.8"/><rect x="330.1" y="372.4"/><rect x="338.0" y="391.2"/><rect x="284.9" y="355.9"/><rect x="277.5" y="336.9"/><rect x="399.2" y="423.6"/><rect x="428.0" y="460.8"/><rect x="376.1" y="418.0"/><rect x="387.1" y="403.5"/><rect x="335.5" y="383.7"/><rect x="406.0" y="459.3"/><rect x="464.2" y="380.2"/><rect x="374.1" y="365.5"/><rect x="331.4" y="393.7"/><rect x="417.4" y="441.6"/><rect x="449.0" y="346.4"/><rect x="407.2" y="396.1"/><rect x="304.6" y="383.6"/><rect x="382.3" y="433.4"/><rect x="328.9" y="372.3"/><rect x="483.5" y="415.7"/><rect x="390.6" y="420.9"/><rect x="307.1" y="383.3"/><rect x="337.1" y="391.9"/><rect x="576.7" y="464.9"/><rect x="376.9" y="382.1"/><rect x="195.0" y="362.8"/><rect x="353.1" y="437.9"/><rect x="354.5" y="435.8"/><rect x="430.3" y="399.4"/><rect x="70.3" y="284.5"/><rect x="421.2" y="470.2"/><rect x="531.2" y="476.3"/><rect x="307.6" y="328.1"/><rect x="310.8" y="459.9"/><rect x="251.4" y="400.7"/><rect x="423.2" y="444.3"/><rect x="426.9" y="360.2"/><rect x="223.7" y="375.4"/><rect x="324.5" y="424.4"/><rect x="387.6" y="408.8"/><rect x="503.7" y="418.8"/><rect x="440.3" y="390.4"/><rect x="384.4" y="405.5"/><rect x="356.4" y="387.8"/><rect x="418.8" y="405.7"/><rect x="231.0" y="369.1"/><rect x="247.6" y="375.8"/><rect x="370.9" y="409.3"/><rect x="314.6" y="384.5"/><rect x="171.3" y="321.5"/><rect x="548.8" y="439.7"/><rect x="359.2" y="409.3"/><rect x="487.4" y="457.1"/><rect x="410.7" y="437.4"/><rect x="320.6" y="305.1"/><rect x="486.6" y="429.0"/><rect x="181.4" y="363.8"/><rect x="349.8" y="391.9"/><rect x="502.4" y="497.1"/><rect x="275.8" y="380.0"/><rect x="242.2" y="408.8"/><rect x="378.3" y="429.2"/><rect x="447.7" y="433.3"/><rect x="384.9" y="407.9"/><rect x="264.1" y="359.4"/><rect x="442.9" y="385.8"/><rect x="346.5" y="357.3"/><rect x="349.2" y="395.4"/><rect x="425.0" y="385.2"/><rect x="432.7" y="423.4"/><rect x="215.0" y="353.8"/><rect x="270.5" y="347.6"/><rect x="459.5" y="424.5"/><rect x="358.1" y="403.0"/><rect x="494.7" y="392.4"/><rect x="359.7" y="430.7"/><rect x="318.3" y="437.2"/><rect x="352.1" y="354.5"/><rect x="367.8" y="446.3"/><rect x="305.6" y="425.5"/><rect x="219.9" y="386.6"/><rect x="482.9" y="446.5"/><rect x="361.8" y="340.0"/><rect x="171.7" y="366.8"/><rect x="373.8" y="365.2"/><rect x="371.5" y="436.2"/><rect x="426.9" y="469.1"/><rect x="378.4" y="469.7"/><rect x="356.7" y="365.3"/><rect x="365.3" y="463.2"/><rect x="414.6" y="368.2"/><rect x="378.2" y="458.1"/><rect x="482.4" y="460.5"/><rect x="401.3" y="437.9"/><rect x="371.6" y="424.6"/><rect x="452.5" y="427.2"/><rect x="301.9" y="379.0"/><rect x="374.7" y="376.5"/><rect x="335.6" y="384.6"/><rect x="336.3" y="461.2"/><rect x="405.9" y="355.3"/><rect x="292.7" y="437.5"/><rect x="422.2" y="416.9"/><rect x="329.3" y="455.7"/><rect x="355.7" y="299.5"/><rect x="184.6" y="394.8"/><rect x="355.6" y="413.6"/><rect x="332.7" y="347.4"/><rect x="426.1" y="368.1"/><rect x="285.8" y="344.4"/><rect x="283.2" y="347.5"/><rect x="447.4" y="410.6"/><rect x="379.1" y="496.7"/><rect x="356.3" y="422.2"/><rect x="530.1" y="415.0"/><rect x="318.5" y="418.8"/><rect x="439.5" y="448.1"/><rect x="320.3" y="403.5"/><rect x="491.8" y="449.2"/><rect x="363.3" y="286.8"/><rect x="352.4" y="358.3"/><rect x="447.2" y="452.6"/><rect x="409.0" y="391.3"/><rect x="373.3" y="433.1"/><rect x="405.4" y="381.2"/><rect x="470.8" y="460.8"/><rect x="275.3" y="335.1"/><rect x="251.4" y="337.9"/><rect x="470.3" y="364.6"/><rect x="442.4" y="415.4"/><rect x="434.8" y="401.5"/><rect x="459.0" y="402.2"/><rect x="329.3" y="374.4"/><rect x="292.9" y="404.0"/><rect x="357.6" y="432.6"/><rect x="388.8" y="386.2"/><rect x="518.9" y="398.7"/><rect x="182.6" y="328.8"/><rect x="453.0" y="484.5"/><rect x="296.3" y="386.2"/><rect x="314.6" y="425.0"/><rect x="366.3" y="470.2"/><rect x="270.5" y="386.1"/><rect x="184.3" y="278.4"/><rect x="391.5" y="413.7"/><rect x="265.0" y="309.2"/><rect x="323.7" y="334.5"/><rect x="368.4" y="377.4"/><rect x="446.5" y="430.3"/><rect x="504.3" y="425.5"/><rect x="229.4" y="402.4"/><rect x="388.6" y="422.0"/><rect x="213.9" y="327.2"/><rect x="306.1" y="369.5"/><rect x="236.7" y="352.2"/><rect x="420.8" y="375.3"/><rect x="252.8" y="363.5"/><rect x="479.5" y="424.7"/><rect x="431.7" y="410.9"/><rect x="233.9" y="331.5"/><rect x="455.1" y="433.1"/><rect x="478.0" y="437.5"/><rect x="229.0" y="334.3"/><rect x="176.3" y="321.7"/><rect x="275.4" y="426.2"/><rect x="208.5" y="394.2"/><rect x="206.8" y="397.4"/><rect x="273.2" y="449.0"/><rect x="211.4" y="400.6"/><rect x="351.2" y="315.0"/><rect x="270.7" y="410.5"/><rect x="130.2" y="297.0"/><rect x="408.5" y="416.3"/><rect x="463.1" y="403.5"/><rect x="310.7" y="368.9"/><rect x="237.3" y="375.0"/><rect x="336.0" y="406.2"/><rect x="356.0" y="404.4"/><rect x="235.6" y="402.9"/><rect x="309.9" y="344.4"/><rect x="346.4" y="355.2"/><rect x="397.1" y="400.2"/><rect x="513.4" y="484.9"/><rect x="416.2" y="444.0"/><rect x="145.7" y="253.6"/><rect x="354.4" y="417.1"/><rect x="440.8" y="380.2"/><rect x="355.9" y="414.6"/><rect x="243.4" y="392.2"/><rect x="349.2" y="381.5"/><rect x="329.3" y="377.0"/><rect x="447.5" y="392.2"/><rect x="327.0" y="415.2"/><rect x="504.3" y="434.0"/><rect x="267.1" y="335.1"/><rect x="449.3" y="385.7"/><rect x="343.7" y="387.6"/><rect x="229.8" y="273.6"/><rect x="400.7" y="450.1"/><rect x="466.6" y="469.6"/><rect x="378.5" y="448.1"/><rect x="497.5" y="425.1"/><rect x="360.4" y="449.1"/><rect x="525.3" y="460.2"/><rect x="289.8" y="404.3"/><rect x="383.3" y="439.9"/><rect x="353.0" y="439.5"/><rect x="391.4" y="317.5"/><rect x="417.1" y="420.0"/><rect x="422.1" y="487.3"/><rect x="336.3" y="448.5"/><rect x="540.7" y="502.4"/><rect x="390.5" y="432.3"/><rect x="253.9" y="379.2"/><rect x="376.5" y="434.8"/><rect x="454.2" y="371.4"/><rect x="311.2" y="415.5"/><rect x="165.5" y="336.7"/><rect x="415.6" y="383.7"/><rect x="304.1" y="412.1"/><rect x="356.1" y="387.9"/><rect x="233.8" y="410.1"/><rect x="277.9" y="379.3"/><rect x="471.8" y="361.3"/><rect x="563.9" y="480.9"/><rect x="324.3" y="258.6"/><rect x="253.4" y="433.6"/><rect x="296.0" y="441.4"/><rect x="455.3" y="461.7"/><rect x="343.8" y="450.0"/><rect x="479.2" y="415.2"/><rect x="329.1" y="448.8"/><rect x="196.5" y="415.4"/><rect x="455.9" y="433.3"/><rect x="437.5" y="455.8"/><rect x="264.6" y="384.5"/><rect x="239.9" y="397.7"/><rect x="431.8" y="357.8"/><rect x="464.4" y="317.4"/><rect x="363.2" y="371.3"/><rect x="333.8" y="416.0"/><rect x="372.0" y="411.6"/><rect x="438.6" y="444.1"/><rect x="408.4" y="346.1"/><rect x="400.4" y="406.0"/><rect x="440.6" y="425.7"/><rect x="467.9" y="455.4"/><rect x="423.0" y="479.4"/><rect x="515.2" y="397.8"/><rect x="432.6" y="445.6"/><rect x="392.9" y="479.5"/><rect x="329.2" y="351.8"/><rect x="431.1" y="433.2"/><rect x="499.6" y="425.1"/><rect x="274.8" y="391.6"/><rect x="309.8" y="292.1"/><rect x="163.3" y="368.5"/><rect x="370.3" y="433.8"/><rect x="165.3" y="375.2"/><rect x="446.2" y="495.0"/><rect x="370.1" y="348.9"/><rect x="500.5" y="434.5"/><rect x="333.5" y="388.0"/><rect x="436.6" y="351.4"/><rect x="375.9" y="410.6"/><rect x="345.1" y="409.8"/><rect x="442.0" y="466.2"/><rect x="430.4" y="349.5"/><rect x="402.0" y="396.9"/><rect x="350.7" y="334.7"/><rect x="413.3" y="395.1"/><rect x="423.7" y="437.1"/><rect x="372.8" y="393.0"/><rect x="571.1" y="437.9"/><rect x="346.1" y="436.0"/><rect x="440.3" y="425.6"/><rect x="294.0" y="427.4"/><rect x="300.0" y="351.5"/><rect x="574.8" y="441.7"/><rect x="320.4" y="289.7"/><rect x="434.1" y="420.9"/><rect x="508.6" y="436.4"/><rect x="253.6" y="295.9"/><rect x="203.3" y="332.4"/><rect x="232.8" y="363.2"/><rect x="222.6" y="347.2"/><rect x="469.8" y="432.5"/><rect x="519.4" y="480.2"/><rect x="429.0" y="399.8"/><rect x="525.3" y="433.9"/><rect x="289.0" y="380.6"/><rect x="424.3" y="464.3"/><rect x="451.8" y="420.0"/><rect x="349.8" y="410.5"/><rect x="484.6" y="450.9"/><rect x="248.7" y="335.1"/><rect x="475.6" y="442.2"/><rect x="322.0" y="392.9"/><rect x="469.0" y="439.4"/><rect x="269.1" y="360.8"/><rect x="235.5" y="391.0"/><rect x="279.3" y="364.9"/><rect x="401.5" y="457.4"/><rect x="334.1" y="441.4"/><rect x="368.0" y="319.5"/><rect x="328.2" y="351.0"/><rect x="463.4" y="410.2"/><rect x="371.7" y="395.6"/><rect x="402.4" y="330.7"/><rect x="399.4" y="379.5"/><rect x="382.2" y="417.0"/><rect x="199.1" y="335.4"/><rect x="392.6" y="389.1"/><rect x="407.8" y="490.8"/><rect x="295.6" y="438.2"/><rect x="491.5" y="449.1"/><rect x="376.8" y="404.1"/><rect x="398.5" y="433.1"/><rect x="412.4" y="370.2"/><rect x="436.7" y="404.9"/><rect x="165.6" y="415.6"/><rect x="401.1" y="445.0"/><rect x="270.6" y="336.9"/><rect x="269.9" y="387.0"/><rect x="340.2" y="413.0"/><rect x="405.2" y="437.5"/><rect x="305.0" y="336.1"/><rect x="476.3" y="400.7"/><rect x="319.9" y="408.9"/><rect x="364.5" y="357.1"/><rect x="267.9" y="364.9"/><rect x="379.4" y="362.3"/><rect x="456.1" y="459.6"/><rect x="411.9" y="405.9"/><rect x="295.0" y="365.7"/><rect x="114.0" y="350.7"/><rect x="441.2" y="405.7"/><rect x="125.7" y="296.9"/><rect x="457.8" y="417.8"/><rect x="308.0" y="316.7"/><rect x="403.2" y="423.7"/><rect x="367.4" y="415.1"/><rect x="260.6" y="386.3"/><rect x="286.4" y="400.4"/><rect x="200.1" y="368.0"/><rect x="379.7" y="396.5"/><rect x="251.5" y="323.0"/><rect x="366.8" y="399.2"/><rect x="427.5" y="382.5"/><rect x="531.1" y="460.3"/><rect x="315.6" y="394.6"/><rect x="389.7" y="429.6"/><rect x="446.9" y="379.3"/><rect x="406.9" y="359.7"/><rect x="425.1" y="359.8"/><rect x="449.1" y="426.7"/><rect x="381.0" y="432.8"/><rect x="388.9" y="440.5"/><rect x="307.6" y="355.9"/><rect x="314.7" y="421.4"/><rect x="373.6" y="411.1"/><rect x="462.3" y="397.2"/><rect x="214.9" y="305.2"/><rect x="315.1" y="329.6"/><rect x="146.2" y="324.0"/><rect x="448.8" y="346.3"/><rect x="329.7" y="446.2"/><rect x="408.0" y="408.3"/><rect x="503.1" y="393.8"/><rect x="296.9" y="340.3"/><rect x="216.7" y="398.7"/><rect x="411.1" y="420.0"/><rect x="417.5" y="409.3"/><rect x="418.9" y="459.3"/><rect x="522.4" y="436.1"/><rect x="500.5" y="457.1"/><rect x="325.7" y="294.7"/><rect x="326.9" y="398.8"/><rect x="164.8" y="268.8"/><rect x="432.7" y="412.1"/><rect x="371.1" y="469.8"/><rect x="473.1" y="417.1"/><rect x="451.1" y="434.6"/><rect x="268.6" y="436.5"/><rect x="320.0" y="404.2"/><rect x="478.6" y="413.1"/><rect x="261.6" y="345.7"/><rect x="350.0" y="432.3"/><rect x="342.7" y="445.9"/><rect x="454.8" y="407.9"/><rect x="147.4" y="383.1"/><rect x="366.8" y="417.3"/><rect x="390.9" y="456.7"/><rect x="275.8" y="438.5"/><rect x="455.1" y="467.8"/><rect x="446.3" y="405.3"/><rect x="418.5" y="332.4"/><rect x="375.0" y="410.7"/><rect x="473.6" y="400.1"/><rect x="337.6" y="326.2"/><rect x="384.8" y="327.9"/><rect x="389.6" y="407.6"/><rect x="386.4" y="275.1"/><rect x="355.1" y="380.7"/><rect x="338.3" y="419.3"/><rect x="453.1" y="406.2"/><rect x="320.4" y="401.2"/><rect x="282.0" y="385.8"/><rect x="286.1" y="305.8"/><rect x="232.6" y="347.2"/><rect x="490.3" y="453.5"/><rect x="211.4" y="388.2"/><rect x="285.3" y="404.5"/><rect x="372.7" y="437.2"/><rect x="456.4" y="465.2"/><rect x="332.4" y="395.5"/><rect x="215.7" y="254.1"/><rect x="518.0" y="373.5"/><rect x="479.8" y="460.3"/><rect x="430.0" y="383.6"/><rect x="388.2" y="333.3"/><rect x="383.9" y="412.7"/><rect x="236.2" y="337.2"/><rect x="513.2" y="494.7"/><rect x="375.7" y="410.3"/><rect x="269.8" y="375.7"/><rect x="397.0" y="445.2"/><rect x="413.7" y="367.6"/><rect x="169.0" y="376.0"/><rect x="500.8" y="422.9"/><rect x="414.7" y="401.8"/><rect x="380.5" y="445.2"/><rect x="353.0" y="364.6"/><rect x="483.4" y="457.5"/><rect x="385.5" y="365.5"/><rect x="330.2" y="418.3"/><rect x="453.8" y="440.9"/><rect x="354.4" y="362.2"/><rect x="319.8" y="363.6"/><rect x="268.5" y="383.6"/><rect x="270.6" y="348.1"/><rect x="312.9" y="419.0"/><rect x="416.8" y="447.1"/><rect x="292.0" y="401.6"/><rect x="329.8" y="381.3"/><rect x="348.9" y="408.9"/><rect x="374.8" y="360.4"/><rect x="366.3" y="385.0"/><rect x="386.4" y="449.5"/><rect x="395.6" y="434.5"/><rect x="316.7" y="385.6"/><rect x="344.3" y="379.5"/><rect x="350.5" y="386.3"/><rect x="392.6" y="433.1"/><rect x="135.6" y="362.5"/><rect x="448.3" y="433.0"/><rect x="328.1" y="374.3"/><rect x="366.9" y="372.1"/><rect x="388.3" y="330.0"/><rect x="506.6" y="434.2"/><rect x="510.8" y="444.0"/><rect x="528.2" y="439.3"/><rect x="367.5" y="419.0"/><rect x="386.1" y="395.7"/><rect x="168.1" y="352.5"/><rect x="514.9" y="429.7"/><rect x="390.7" y="396.2"/><rect x="329.3" y="421.4"/><rect x="347.4" y="420.9"/><rect x="272.7" y="402.0"/><rect x="306.4" y="393.2"/><rect x="349.8" y="472.5"/><rect x="478.5" y="411.2"/><rect x="356.3" y="422.5"/><rect x="371.8" y="344.4"/><rect x="517.8" y="489.3"/><rect x="322.5" y="307.4"/><rect x="356.1" y="373.0"/><rect x="269.0" y="353.5"/><rect x="377.5" y="434.2"/><rect x="350.4" y="438.0"/><rect x="366.2" y="436.4"/><rect x="380.7" y="445.1"/><rect x="310.8" y="444.1"/><rect x="406.3" y="428.2"/><rect x="294.4" y="393.5"/><rect x="260.2" y="390.5"/><rect x="314.9" y="387.2"/><rect x="469.1" y="454.2"/><rect x="288.7" y="402.4"/><rect x="440.1" y="415.5"/><rect x="333.1" y="439.0"/><rect x="333.0" y="371.3"/><rect x="373.2" y="314.7"/><rect x="396.9" y="423.5"/><rect x="357.9" y="292.2"/><rect x="448.8" y="431.1"/><rect x="278.6" y="399.6"/><rect x="247.5" y="348.7"/><rect x="461.2" y="440.9"/><rect x="261.4" y="370.8"/><rect x="524.5" y="416.4"/><rect x="419.7" y="416.8"/><rect x="453.8" y="474.9"/><rect x="320.8" y="420.9"/><rect x="423.6" y="411.0"/><rect x="443.6" y="404.9"/><rect x="430.1" y="448.2"/><rect x="427.9" y="422.0"/><rect x="351.4" y="405.9"/><rect x="170.3" y="342.0"/><rect x="403.2" y="467.8"/><rect x="337.4" y="434.6"/><rect x="488.7" y="476.4"/><rect x="404.3" y="393.5"/><rect x="253.1" y="311.2"/><rect x="416.0" y="378.3"/><rect x="444.6" y="434.3"/><rect x="250.9" y="426.6"/><rect x="322.1" y="398.0"/><rect x="411.9" y="450.9"/><rect x="80.8" y="292.7"/><rect x="476.3" y="459.6"/><rect x="317.7" y="408.0"/><rect x="212.5" y="404.3"/><rect x="462.0" y="380.4"/><rect x="436.6" y="400.9"/><rect x="512.8" y="469.8"/><rect x="170.6" y="343.9"/><rect x="539.8" y="403.3"/><rect x="469.8" y="474.3"/><rect x="377.4" y="377.6"/><rect x="387.7" y="444.7"/><rect x="394.1" y="388.6"/><rect x="458.6" y="416.4"/><rect x="364.5" y="393.6"/><rect x="173.4" y="329.6"/><rect x="235.2" y="263.1"/><rect x="279.8" y="330.9"/><rect x="351.0" y="435.2"/><rect x="253.8" y="418.5"/><rect x="350.8" y="364.2"/><rect x="477.3" y="420.2"/><rect x="439.4" y="387.1"/><rect x="393.0" y="283.9"/><rect x="266.9" y="318.0"/><rect x="322.1" y="419.2"/><rect x="397.3" y="439.8"/><rect x="328.7" y="386.7"/><rect x="403.5" y="428.9"/><rect x="431.8" y="363.1"/><rect x="431.3" y="440.3"/><rect x="347.4" y="386.0"/><rect x="403.1" y="444.6"/><rect x="378.2" y="370.1"/><rect x="287.8" y="411.0"/><rect x="433.1" y="437.3"/><rect x="451.0" y="476.2"/><rect x="413.5" y="403.8"/><rect x="432.0" y="417.1"/><rect x="134.6" y="373.9"/><rect x="422.3" y="400.9"/><rect x="402.2" y="457.1"/><rect x="371.8" y="443.1"/><rect x="250.8" y="399.8"/><rect x="524.1" y="461.4"/><rect x="379.9" y="426.2"/><rect x="384.2" y="497.7"/><rect x="427.8" y="448.1"/><rect x="384.0" y="407.6"/><rect x="235.2" y="357.7"/><rect x="262.5" y="441.9"/><rect x="303.8" y="411.5"/><rect x="228.7" y="370.2"/><rect x="286.8" y="358.7"/><rect x="368.8" y="392.8"/><rect x="423.7" y="449.3"/><rect x="284.4" y="397.6"/><rect x="93.1" y="291.5"/><rect x="422.1" y="397.5"/><rect x="453.0" y="426.6"/><rect x="247.6" y="412.9"/><rect x="559.3" y="458.1"/><rect x="398.1" y="400.0"/><rect x="365.7" y="408.9"/><rect x="424.4" y="410.5"/><rect x="318.1" y="418.4"/><rect x="215.4" y="322.4"/><rect x="381.2" y="431.7"/><rect x="393.0" y="380.3"/><rect x="446.2" y="417.7"/><rect x="261.8" y="430.1"/><rect x="462.9" y="445.4"/><rect x="237.4" y="362.5"/><rect x="538.8" y="436.1"/><rect x="480.2" y="431.6"/><rect x="339.7" y="443.9"/><rect x="180.2" y="241.4"/><rect x="454.8" y="429.3"/><rect x="556.2" y="439.3"/><rect x="467.1" y="439.6"/><rect x="275.4" y="405.3"/><rect x="241.9" y="401.8"/><rect x="351.9" y="358.6"/><rect x="446.9" y="487.7"/><rect x="387.3" y="405.2"/><rect x="418.8" y="422.6"/><rect x="390.6" y="413.2"/><rect x="336.9" y="371.5"/><rect x="315.6" y="413.3"/><rect x="328.9" y="366.3"/><rect x="279.8" y="412.0"/><rect x="169.6" y="396.4"/><rect x="334.6" y="400.5"/><rect x="424.3" y="377.2"/><rect x="228.2" y="361.3"/><rect x="426.1" y="434.3"/><rect x="403.5" y="435.6"/><rect x="130.6" y="279.0"/><rect x="451.5" y="462.9"/><rect x="430.3" y="373.6"/><rect x="539.6" y="462.7"/><rect x="463.6" y="471.7"/><rect x="249.2" y="384.0"/><rect x="110.5" y="354.1"/><rect x="383.2" y="412.3"/><rect x="182.4" y="300.9"/><rect x="455.1" y="365.2"/><rect x="308.3" y="334.0"/><rect x="307.4" y="425.2"/><rect x="469.0" y="341.8"/><rect x="219.0" y="368.0"/><rect x="539.0" y="402.2"/><rect x="258.1" y="365.6"/><rect x="524.9" y="425.5"/><rect x="340.8" y="444.0"/><rect x="297.4" y="412.4"/><rect x="322.5" y="402.8"/><rect x="480.9" y="428.1"/><rect x="344.3" y="311.2"/><rect x="375.5" y="400.8"/><rect x="207.8" y="292.5"/><rect x="305.1" y="369.6"/><rect x="427.3" y="429.7"/><rect x="433.5" y="475.3"/><rect x="388.4" y="427.1"/><rect x="451.6" y="456.4"/><rect x="405.1" y="484.0"/><rect x="183.5" y="319.2"/><rect x="250.2" y="395.1"/><rect x="320.4" y="395.3"/><rect x="430.9" y="394.0"/><rect x="345.0" y="401.6"/><rect x="505.1" y="464.8"/><rect x="410.7" y="382.0"/><rect x="318.8" y="373.7"/><rect x="471.5" y="441.4"/><rect x="358.3" y="422.9"/><rect x="548.5" y="444.3"/><rect x="285.1" y="353.0"/><rect x="410.0" y="408.8"/><rect x="417.5" y="446.4"/><rect x="475.8" y="413.3"/><rect x="159.8" y="280.3"/><rect x="418.8" y="404.9"/><rect x="453.3" y="441.3"/><rect x="376.1" y="396.6"/><rect x="439.4" y="429.2"/><rect x="537.6" y="463.4"/><rect x="264.6" y="259.4"/><rect x="340.4" y="418.2"/><rect x="436.8" y="460.9"/><rect x="220.4" y="400.0"/><rect x="378.1" y="366.5"/><rect x="278.6" y="439.4"/><rect x="281.4" y="428.5"/><rect x="565.0" y="464.4"/><rect x="499.9" y="449.2"/><rect x="496.1" y="404.7"/><rect x="236.7" y="334.6"/><rect x="397.8" y="451.6"/><rect x="201.2" y="342.9"/><rect x="466.1" y="430.3"/><rect x="343.5" y="418.1"/><rect x="292.1" y="385.7"/><rect x="453.1" y="417.2"/><rect x="416.6" y="428.5"/><rect x="415.5" y="406.9"/><rect x="357.2" y="393.2"/><rect x="476.3" y="405.2"/><rect x="94.7" y="355.4"/><rect x="365.4" y="387.6"/><rect x="377.0" y="395.9"/><rect x="424.3" y="433.4"/><rect x="344.9" y="449.0"/><rect x="212.8" y="399.4"/><rect x="372.3" y="390.8"/><rect x="419.7" y="375.4"/><rect x="368.8" y="486.1"/><rect x="314.9" y="420.3"/><rect x="395.5" y="447.8"/><rect x="439.3" y="417.2"/><rect x="381.6" y="341.0"/><rect x="357.2" y="395.3"/><rect x="418.0" y="387.3"/><rect x="421.7" y="380.1"/><rect x="427.5" y="449.2"/><rect x="359.8" y="371.8"/><rect x="418.9" y="461.9"/><rect x="296.5" y="391.5"/><rect x="360.6" y="371.9"/><rect x="373.8" y="399.5"/><rect x="347.0" y="412.9"/><rect x="377.6" y="432.8"/><rect x="95.2" y="368.1"/><rect x="503.6" y="438.3"/><rect x="247.6" y="404.9"/><rect x="391.4" y="410.0"/><rect x="414.7" y="411.3"/><rect x="410.8" y="412.4"/><rect x="135.0" y="304.4"/><rect x="270.6" y="422.0"/><rect x="275.3" y="316.1"/><rect x="420.2" y="443.2"/><rect x="407.9" y="436.1"/><rect x="89.5" y="310.2"/><rect x="265.4" y="328.8"/><rect x="420.6" y="397.4"/><rect x="194.6" y="392.9"/><rect x="371.2" y="434.3"/><rect x="356.4" y="412.4"/><rect x="340.0" y="374.7"/><rect x="288.6" y="361.6"/><rect x="403.6" y="470.2"/><rect x="338.2" y="369.2"/><rect x="479.9" y="400.9"/><rect x="226.2" y="324.8"/><rect x="432.9" y="398.6"/><rect x="387.5" y="452.1"/><rect x="393.5" y="421.3"/><rect x="493.1" y="409.2"/><rect x="228.6" y="295.4"/><rect x="332.5" y="340.2"/><rect x="363.4" y="404.9"/><rect x="418.0" y="475.7"/><rect x="392.1" y="359.5"/><rect x="392.5" y="443.8"/><rect x="555.4" y="417.1"/><rect x="219.5" y="347.3"/><rect x="252.0" y="302.6"/><rect x="513.0" y="502.2"/><rect x="257.7" y="424.3"/><rect x="226.2" y="364.6"/><rect x="452.3" y="409.9"/><rect x="355.5" y="451.0"/><rect x="325.2" y="447.0"/><rect x="346.7" y="407.9"/><rect x="322.5" y="384.4"/><rect x="388.8" y="414.5"/><rect x="235.0" y="413.6"/><rect x="404.5" y="442.9"/><rect x="389.9" y="379.2"/><rect x="367.8" y="399.2"/><rect x="326.6" y="383.1"/><rect x="221.9" y="387.8"/><rect x="384.7" y="429.8"/><rect x="88.6" y="316.2"/><rect x="369.1" y="428.9"/><rect x="411.4" y="473.7"/><rect x="360.5" y="301.9"/><rect x="456.5" y="414.3"/><rect x="255.6" y="205.1"/><rect x="369.8" y="392.5"/><rect x="161.4" y="293.2"/><rect x="411.3" y="458.2"/><rect x="193.7" y="306.8"/><rect x="429.6" y="341.1"/><rect x="341.3" y="404.4"/><rect x="353.6" y="403.4"/><rect x="429.1" y="450.0"/><rect x="269.3" y="328.4"/><rect x="421.3" y="412.3"/><rect x="389.5" y="405.7"/><rect x="446.5" y="432.5"/><rect x="306.3" y="374.4"/><rect x="510.1" y="382.5"/><rect x="438.7" y="414.0"/><rect x="373.2" y="422.6"/><rect x="359.1" y="445.0"/><rect x="246.9" y="395.4"/><rect x="461.0" y="429.4"/><rect x="383.5" y="372.3"/><rect x="443.4" y="435.4"/><rect x="362.1" y="439.4"/><rect x="185.4" y="333.3"/><rect x="110.2" y="239.1"/><rect x="407.3" y="441.6"/><rect x="350.8" y="389.5"/><rect x="279.5" y="334.2"/><rect x="325.1" y="413.4"/><rect x="327.9" y="441.0"/><rect x="316.8" y="391.3"/><rect x="356.5" y="378.7"/><rect x="240.8" y="350.6"/><rect x="420.9" y="398.0"/><rect x="396.7" y="441.4"/><rect x="311.0" y="363.1"/><rect x="121.6" y="370.8"/><rect x="349.0" y="456.7"/><rect x="332.2" y="378.3"/><rect x="335.4" y="412.0"/><rect x="433.1" y="376.5"/><rect x="544.2" y="456.5"/><rect x="374.1" y="423.3"/><rect x="335.2" y="353.5"/><rect x="210.2" y="322.1"/><rect x="161.5" y="404.7"/><rect x="419.9" y="425.0"/><rect x="137.5" y="309.1"/><rect x="106.5" y="239.4"/><rect x="375.4" y="430.8"/><rect x="358.5" y="421.0"/><rect x="357.9" y="338.2"/><rect x="204.4" y="330.0"/><rect x="439.7" y="377.1"/><rect x="273.5" y="363.6"/><rect x="365.3" y="396.3"/><rect x="477.0" y="458.8"/><rect x="340.6" y="347.2"/><rect x="513.7" y="461.2"/><rect x="328.9" y="451.8"/><rect x="429.4" y="460.0"/><rect x="466.9" y="363.0"/><rect x="449.6" y="420.0"/><rect x="350.6" y="378.8"/><rect x="399.9" y="298.6"/><rect x="215.2" y="315.3"/><rect x="434.2" y="449.2"/><rect x="304.8" y="464.4"/><rect x="414.2" y="370.5"/><rect x="434.8" y="416.5"/><rect x="430.3" y="375.2"/><rect x="334.8" y="397.7"/><rect x="442.3" y="448.8"/><rect x="419.1" y="436.5"/><rect x="431.7" y="419.1"/><rect x="211.1" y="396.0"/><rect x="440.2" y="475.7"/><rect x="336.6" y="410.1"/><rect x="152.0" y="333.9"/><rect x="220.4" y="386.4"/><rect x="309.5" y="410.3"/><rect x="532.0" y="424.8"/><rect x="355.4" y="415.2"/><rect x="497.1" y="398.8"/><rect x="330.4" y="407.4"/><rect x="435.7" y="403.8"/><rect x="331.1" y="374.4"/><rect x="479.8" y="420.9"/><rect x="391.8" y="422.3"/><rect x="358.4" y="454.6"/><rect x="425.8" y="381.2"/><rect x="349.5" y="386.7"/><rect x="530.2" y="478.8"/><rect x="298.9" y="342.6"/><rect x="411.4" y="472.6"/><rect x="334.9" y="443.4"/><rect x="379.2" y="417.2"/><rect x="444.6" y="455.0"/><rect x="376.4" y="430.6"/><rect x="353.6" y="351.0"/><rect x="181.2" y="335.5"/><rect x="364.9" y="430.1"/><rect x="469.5" y="450.5"/><rect x="357.3" y="447.0"/><rect x="525.7" y="426.4"/><rect x="429.2" y="371.5"/><rect x="415.8" y="426.8"/><rect x="575.6" y="488.5"/><rect x="392.1" y="356.0"/><rect x="328.5" y="464.1"/><rect x="333.0" y="273.6"/><rect x="459.7" y="431.1"/><rect x="497.1" y="453.3"/><rect x="434.9" y="412.7"/><rect x="296.8" y="438.0"/><rect x="416.5" y="382.5"/><rect x="452.0" y="449.4"/><rect x="186.1" y="374.4"/><rect x="386.2" y="450.6"/><rect x="375.2" y="466.7"/><rect x="478.2" y="433.2"/><rect x="476.5" y="431.0"/><rect x="363.4" y="467.5"/><rect x="292.5" y="352.7"/><rect x="369.4" y="404.5"/><rect x="348.6" y="378.5"/><rect x="325.2" y="381.2"/><rect x="322.8" y="365.6"/><rect x="440.6" y="433.2"/><rect x="343.7" y="399.0"/><rect x="534.7" y="416.8"/><rect x="510.6" y="479.2"/><rect x="128.1" y="289.9"/><rect x="484.2" y="445.1"/><rect x="255.2" y="399.3"/><rect x="438.2" y="466.3"/><rect x="322.0" y="395.3"/><rect x="432.8" y="344.0"/><rect x="328.3" y="386.8"/><rect x="383.4" y="375.1"/><rect x="450.2" y="467.3"/><rect x="322.9" y="281.9"/><rect x="497.2" y="466.6"/><rect x="458.1" y="445.7"/><rect x="226.7" y="389.7"/><rect x="419.1" y="379.0"/><rect x="332.9" y="398.8"/><rect x="313.0" y="419.4"/><rect x="569.1" y="454.3"/><rect x="331.5" y="325.6"/><rect x="423.7" y="466.9"/><rect x="427.6" y="419.8"/><rect x="265.7" y="437.0"/><rect x="490.7" y="394.0"/><rect x="412.6" y="388.4"/><rect x="394.3" y="436.0"/><rect x="399.6" y="424.5"/><rect x="404.4" y="488.4"/><rect x="461.3" y="419.9"/><rect x="302.3" y="246.3"/><rect x="418.4" y="442.6"/><rect x="254.3" y="378.4"/><rect x="261.0" y="307.6"/><rect x="340.0" y="376.8"/><rect x="312.5" y="410.0"/><rect x="295.5" y="310.5"/><rect x="167.6" y="309.9"/><rect x="450.5" y="417.0"/><rect x="343.4" y="391.0"/><rect x="458.0" y="424.4"/><rect x="301.0" y="380.3"/><rect x="217.3" y="350.5"/><rect x="449.6" y="497.2"/><rect x="463.3" y="414.2"/><rect x="389.7" y="423.1"/><rect x="453.5" y="462.5"/><rect x="317.5" y="363.7"/><rect x="462.8" y="459.7"/><rect x="362.7" y="425.9"/><rect x="398.8" y="351.0"/><rect x="555.2" y="466.5"/><rect x="414.3" y="393.2"/><rect x="424.8" y="449.2"/><rect x="87.1" y="322.0"/><rect x="377.7" y="420.3"/><rect x="449.1" y="445.7"/><rect x="248.7" y="385.0"/><rect x="385.5" y="416.7"/><rect x="429.6" y="390.7"/><rect x="318.5" y="383.3"/><rect x="414.4" y="386.7"/><rect x="351.2" y="360.6"/><rect x="368.6" y="415.2"/><rect x="420.4" y="392.9"/><rect x="374.4" y="436.4"/><rect x="446.3" y="359.4"/><rect x="291.8" y="380.7"/><rect x="426.8" y="375.8"/><rect x="375.6" y="426.0"/><rect x="377.5" y="439.0"/><rect x="271.0" y="391.6"/><rect x="335.8" y="384.8"/><rect x="419.5" y="425.5"/><rect x="379.8" y="412.9"/><rect x="361.7" y="499.4"/><rect x="438.0" y="435.9"/><rect x="484.2" y="417.0"/><rect x="403.4" y="416.8"/><rect x="298.7" y="383.8"/><rect x="345.8" y="397.2"/><rect x="360.0" y="386.0"/><rect x="540.0" y="429.6"/><rect x="462.0" y="436.6"/><rect x="379.5" y="354.6"/><rect x="327.6" y="401.8"/><rect x="362.8" y="401.7"/><rect x="324.6" y="420.8"/><rect x="474.6" y="423.2"/><rect x="287.2" y="352.6"/><rect x="400.3" y="401.7"/><rect x="462.6" y="464.2"/><rect x="239.7" y="264.8"/><rect x="371.0" y="394.2"/><rect x="284.1" y="407.9"/><rect x="346.4" y="376.0"/><rect x="440.3" y="416.8"/><rect x="398.0" y="444.6"/><rect x="431.8" y="429.9"/><rect x="346.5" y="445.2"/><rect x="212.9" y="387.2"/><rect x="515.3" y="448.2"/><rect x="440.5" y="381.7"/><rect x="359.3" y="431.8"/><rect x="429.2" y="337.3"/><rect x="337.1" y="503.7"/><rect x="383.9" y="453.5"/><rect x="250.2" y="312.8"/><rect x="260.7" y="402.7"/><rect x="398.9" y="459.2"/><rect x="380.9" y="362.7"/><rect x="200.4" y="349.7"/><rect x="367.2" y="332.7"/><rect x="392.5" y="400.4"/><rect x="444.7" y="385.0"/><rect x="509.5" y="424.6"/><rect x="328.0" y="426.8"/><rect x="463.3" y="393.0"/><rect x="478.4" y="446.0"/><rect x="360.9" y="391.6"/><rect x="480.6" y="460.2"/><rect x="467.2" y="434.0"/><rect x="165.6" y="351.9"/><rect x="403.3" y="371.6"/><rect x="384.6" y="372.3"/><rect x="433.0" y="391.0"/><rect x="248.3" y="388.1"/><rect x="316.7" y="383.1"/><rect x="483.3" y="393.4"/><rect x="338.5" y="301.0"/><rect x="400.3" y="340.5"/><rect x="237.9" y="389.8"/><rect x="276.2" y="393.0"/><rect x="333.4" y="416.0"/><rect x="285.9" y="438.2"/><rect x="274.6" y="417.7"/><rect x="287.5" y="356.2"/><rect x="412.5" y="412.8"/><rect x="520.5" y="349.9"/><rect x="375.4" y="335.6"/><rect x="387.7" y="420.0"/><rect x="376.6" y="392.4"/><rect x="433.1" y="451.1"/><rect x="343.3" y="311.7"/><rect x="452.7" y="428.0"/><rect x="334.8" y="334.3"/><rect x="370.9" y="404.8"/><rect x="322.5" y="310.6"/><rect x="460.2" y="465.5"/><rect x="322.3" y="300.2"/><rect x="490.8" y="425.1"/><rect x="376.7" y="431.3"/><rect x="370.8" y="420.5"/><rect x="318.7" y="310.4"/><rect x="399.5" y="446.5"/><rect x="411.9" y="394.8"/><rect x="470.9" y="436.5"/><rect x="479.0" y="403.3"/><rect x="519.2" y="423.3"/><rect x="388.9" y="453.7"/><rect x="492.0" y="501.8"/><rect x="277.7" y="389.3"/><rect x="292.2" y="402.6"/><rect x="272.1" y="323.8"/><rect x="331.7" y="328.1"/><rect x="404.4" y="418.2"/><rect x="349.1" y="441.6"/><rect x="361.9" y="354.0"/><rect x="546.3" y="421.0"/><rect x="453.4" y="441.9"/><rect x="397.5" y="420.5"/><rect x="268.5" y="312.0"/><rect x="427.1" y="429.6"/><rect x="317.9" y="375.9"/><rect x="446.1" y="433.9"/><rect x="363.5" y="407.3"/><rect x="376.0" y="454.5"/><rect x="186.9" y="384.5"/><rect x="204.7" y="303.9"/><rect x="522.8" y="462.4"/><rect x="453.9" y="441.9"/><rect x="457.9" y="482.2"/><rect x="316.1" y="400.1"/><rect x="429.3" y="396.5"/><rect x="233.0" y="389.3"/><rect x="413.9" y="400.0"/><rect x="410.9" y="432.0"/><rect x="401.1" y="445.9"/><rect x="322.1" y="381.4"/><rect x="267.1" y="435.4"/><rect x="266.1" y="418.0"/><rect x="334.1" y="402.5"/><rect x="366.1" y="428.8"/><rect x="332.3" y="351.1"/><rect x="417.4" y="447.4"/><rect x="442.3" y="341.8"/><rect x="272.5" y="394.4"/><rect x="326.0" y="390.2"/><rect x="307.3" y="405.9"/><rect x="374.2" y="347.1"/><rect x="339.9" y="382.7"/><rect x="556.9" y="412.8"/><rect x="432.9" y="432.5"/><rect x="462.3" y="431.6"/><rect x="342.4" y="394.6"/><rect x="448.3" y="497.5"/><rect x="368.8" y="409.8"/><rect x="409.9" y="431.1"/><rect x="376.7" y="397.8"/><rect x="235.9" y="433.0"/><rect x="450.0" y="487.7"/><rect x="359.3" y="373.6"/><rect x="412.5" y="441.9"/><rect x="320.1" y="408.2"/><rect x="441.6" y="416.0"/><rect x="442.0" y="334.7"/><rect x="472.8" y="425.1"/><rect x="275.5" y="356.2"/><rect x="316.7" y="397.9"/><rect x="325.0" y="384.9"/><rect x="253.7" y="429.2"/><rect x="421.4" y="452.5"/><rect x="578.2" y="465.0"/><rect x="407.3" y="449.1"/><rect x="359.0" y="387.5"/><rect x="520.4" y="437.2"/><rect x="447.5" y="379.6"/><rect x="497.5" y="406.9"/><rect x="460.7" y="393.9"/><rect x="310.5" y="395.8"/><rect x="436.0" y="410.9"/><rect x="349.2" y="421.3"/><rect x="489.0" y="400.3"/><rect x="397.8" y="348.6"/><rect x="338.3" y="445.0"/><rect x="235.9" y="389.9"/><rect x="407.0" y="384.5"/><rect x="417.7" y="472.2"/><rect x="274.8" y="415.7"/><rect x="353.3" y="352.8"/><rect x="335.9" y="387.5"/><rect x="366.4" y="457.0"/><rect x="358.6" y="403.6"/><rect x="398.5" y="312.6"/><rect x="179.9" y="409.4"/><rect x="321.7" y="399.3"/><rect x="375.1" y="423.5"/><rect x="399.2" y="410.4"/><rect x="260.0" y="418.2"/><rect x="100.0" y="341.2"/><rect x="444.0" y="458.6"/><rect x="305.0" y="417.5"/><rect x="465.1" y="414.0"/><rect x="330.3" y="374.6"/><rect x="368.8" y="337.7"/><rect x="144.7" y="355.9"/><rect x="398.5" y="362.2"/><rect x="310.5" y="364.3"/><rect x="454.4" y="401.8"/><rect x="435.4" y="436.7"/><rect x="373.5" y="370.2"/><rect x="269.0" y="440.0"/><rect x="447.5" y="479.6"/><rect x="433.0" y="460.9"/><rect x="401.1" y="453.8"/><rect x="415.4" y="469.2"/><rect x="407.7" y="427.9"/><rect x="389.4" y="442.0"/><rect x="379.3" y="419.6"/><rect x="392.2" y="472.5"/><rect x="332.9" y="412.8"/><rect x="353.6" y="405.4"/><rect x="340.7" y="355.4"/><rect x="309.5" y="355.6"/><rect x="295.0" y="409.1"/><rect x="345.5" y="389.6"/><rect x="363.8" y="396.5"/><rect x="273.9" y="397.1"/><rect x="436.6" y="398.0"/><rect x="390.1" y="464.2"/><rect x="361.9" y="367.9"/><rect x="338.9" y="289.2"/><rect x="465.6" y="413.0"/><rect x="349.3" y="435.2"/><rect x="225.3" y="330.7"/><rect x="307.3" y="320.2"/><rect x="431.9" y="480.4"/><rect x="193.4" y="370.8"/><rect x="405.5" y="373.1"/><rect x="130.1" y="283.3"/><rect x="270.8" y="362.4"/><rect x="269.2" y="348.7"/><rect x="305.6" y="399.3"/><rect x="410.1" y="403.0"/><rect x="486.4" y="389.3"/><rect x="301.7" y="412.5"/><rect x="261.2" y="385.5"/><rect x="424.6" y="418.5"/><rect x="344.3" y="392.5"/><rect x="473.6" y="469.2"/><rect x="442.6" y="449.8"/><rect x="256.3" y="385.8"/><rect x="354.7" y="394.4"/><rect x="510.9" y="423.9"/><rect x="450.2" y="431.6"/><rect x="507.3" y="411.5"/><rect x="502.9" y="427.9"/><rect x="348.8" y="383.8"/><rect x="397.1" y="398.9"/><rect x="373.1" y="484.1"/><rect x="400.8" y="344.9"/><rect x="384.3" y="422.9"/><rect x="438.9" y="412.4"/><rect x="423.9" y="456.3"/><rect x="316.5" y="346.6"/><rect x="341.5" y="381.4"/><rect x="470.8" y="365.2"/><rect x="418.7" y="417.2"/><rect x="378.4" y="377.0"/><rect x="374.2" y="379.7"/><rect x="423.2" y="419.9"/><rect x="216.1" y="291.6"/><rect x="263.1" y="349.4"/><rect x="306.7" y="376.6"/><rect x="373.7" y="450.2"/><rect x="347.3" y="412.5"/><rect x="319.8" y="390.2"/><rect x="370.2" y="490.3"/><rect x="492.1" y="454.5"/><rect x="353.0" y="430.4"/><rect x="382.6" y="397.6"/><rect x="393.6" y="382.6"/><rect x="407.9" y="424.9"/><rect x="438.0" y="405.7"/><rect x="392.6" y="386.3"/><rect x="525.8" y="410.5"/><rect x="373.6" y="408.4"/><rect x="401.4" y="411.9"/><rect x="323.9" y="390.8"/><rect x="574.6" y="454.8"/><rect x="330.5" y="277.9"/><rect x="409.2" y="431.4"/><rect x="387.2" y="423.9"/><rect x="372.2" y="439.3"/><rect x="379.2" y="411.7"/><rect x="355.6" y="304.5"/><rect x="397.6" y="419.3"/><rect x="382.6" y="355.5"/><rect x="455.3" y="413.5"/><rect x="294.5" y="370.6"/><rect x="384.8" y="404.2"/><rect x="487.8" y="421.7"/><rect x="113.5" y="235.7"/><rect x="251.8" y="383.2"/><rect x="402.0" y="374.1"/><rect x="413.4" y="413.6"/><rect x="353.1" y="453.4"/><rect x="454.0" y="446.3"/><rect x="470.8" y="365.5"/><rect x="269.3" y="364.4"/><rect x="162.1" y="385.7"/><rect x="399.1" y="423.7"/><rect x="377.9" y="421.4"/><rect x="340.1" y="424.9"/><rect x="318.0" y="409.4"/><rect x="462.6" y="419.8"/><rect x="433.1" y="441.4"/><rect x="391.4" y="414.5"/><rect x="288.8" y="390.0"/><rect x="345.2" y="446.3"/><rect x="514.8" y="439.8"/><rect x="575.0" y="474.3"/><rect x="332.7" y="423.6"/><rect x="402.5" y="358.6"/><rect x="420.6" y="396.0"/><rect x="239.8" y="335.4"/><rect x="181.2" y="364.0"/><rect x="348.9" y="391.7"/><rect x="436.3" y="447.6"/><rect x="460.8" y="423.4"/><rect x="340.1" y="434.5"/><rect x="321.2" y="417.2"/><rect x="286.9" y="338.4"/><rect x="336.6" y="451.3"/><rect x="292.2" y="411.0"/><rect x="466.6" y="483.3"/><rect x="358.3" y="395.6"/><rect x="283.5" y="444.1"/><rect x="238.4" y="316.2"/><rect x="221.5" y="314.9"/><rect x="315.0" y="408.2"/><rect x="294.0" y="338.9"/><rect x="341.0" y="429.6"/><rect x="183.1" y="413.1"/><rect x="385.0" y="485.4"/><rect x="454.8" y="444.5"/><rect x="419.9" y="425.1"/><rect x="403.4" y="459.8"/><rect x="421.4" y="427.7"/><rect x="268.8" y="331.3"/><rect x="337.2" y="421.8"/><rect x="368.0" y="431.7"/><rect x="167.6" y="404.9"/><rect x="397.5" y="365.8"/><rect x="400.3" y="397.8"/><rect x="492.8" y="450.4"/><rect x="442.8" y="485.2"/><rect x="316.1" y="401.1"/><rect x="436.0" y="381.8"/><rect x="299.0" y="286.3"/><rect x="116.6" y="258.6"/><rect x="414.3" y="432.7"/><rect x="400.6" y="296.6"/><rect x="117.0" y="271.0"/><rect x="319.3" y="445.0"/><rect x="411.6" y="407.3"/><rect x="446.0" y="443.2"/><rect x="286.4" y="459.8"/><rect x="416.8" y="433.6"/><rect x="507.1" y="466.8"/><rect x="402.0" y="415.8"/><rect x="441.5" y="391.8"/><rect x="355.8" y="382.9"/><rect x="377.2" y="434.0"/><rect x="438.9" y="419.3"/><rect x="332.7" y="310.6"/><rect x="393.6" y="393.5"/><rect x="363.0" y="451.6"/><rect x="321.0" y="407.1"/><rect x="326.1" y="313.1"/><rect x="434.6" y="445.1"/><rect x="516.2" y="409.0"/><rect x="315.2" y="382.6"/><rect x="251.5" y="307.2"/><rect x="366.1" y="281.1"/><rect x="368.6" y="409.3"/><rect x="456.8" y="460.3"/><rect x="199.9" y="375.6"/><rect x="475.2" y="404.6"/><rect x="230.8" y="269.2"/><rect x="419.3" y="403.6"/><rect x="270.4" y="330.0"/><rect x="241.3" y="407.9"/><rect x="368.6" y="351.3"/><rect x="345.4" y="383.9"/><rect x="522.8" y="452.5"/><rect x="428.2" y="360.7"/><rect x="278.2" y="374.9"/><rect x="386.9" y="434.8"/><rect x="395.3" y="363.8"/><rect x="456.4" y="445.9"/><rect x="426.3" y="401.7"/><rect x="373.8" y="424.8"/><rect x="470.5" y="431.7"/><rect x="365.8" y="345.7"/><rect x="405.0" y="432.2"/><rect x="449.7" y="420.3"/><rect x="469.7" y="427.5"/><rect x="554.7" y="398.5"/><rect x="284.5" y="404.8"/><rect x="234.5" y="320.2"/><rect x="410.8" y="353.8"/><rect x="239.6" y="370.0"/><rect x="409.1" y="389.1"/><rect x="418.3" y="393.2"/><rect x="464.8" y="439.2"/><rect x="439.5" y="465.7"/><rect x="311.1" y="452.0"/><rect x="318.9" y="373.5"/><rect x="422.7" y="395.5"/><rect x="272.2" y="349.3"/><rect x="495.2" y="413.4"/><rect x="317.0" y="381.7"/><rect x="479.1" y="430.4"/><rect x="342.6" y="308.0"/><rect x="429.8" y="416.7"/><rect x="318.4" y="373.5"/><rect x="408.6" y="409.6"/><rect x="356.9" y="375.4"/><rect x="230.6" y="383.3"/><rect x="490.5" y="504.2"/><rect x="346.0" y="401.7"/><rect x="373.4" y="338.1"/><rect x="421.2" y="407.7"/><rect x="476.0" y="457.6"/><rect x="439.5" y="480.8"/><rect x="264.6" y="412.9"/><rect x="253.4" y="412.2"/><rect x="410.3" y="448.6"/><rect x="371.2" y="390.3"/><rect x="281.3" y="413.7"/><rect x="374.4" y="449.0"/><rect x="365.2" y="389.3"/><rect x="463.6" y="401.3"/><rect x="407.3" y="453.1"/><rect x="401.2" y="417.7"/><rect x="495.2" y="451.9"/><rect x="343.3" y="415.3"/><rect x="372.1" y="368.1"/><rect x="432.3" y="409.3"/><rect x="267.7" y="354.2"/><rect x="368.6" y="399.4"/><rect x="535.0" y="430.8"/><rect x="440.3" y="381.4"/><rect x="392.4" y="330.4"/><rect x="449.8" y="385.9"/><rect x="314.0" y="411.3"/><rect x="441.6" y="427.4"/><rect x="378.7" y="456.7"/><rect x="345.8" y="369.7"/><rect x="226.9" y="366.2"/><rect x="343.8" y="396.4"/><rect x="465.2" y="444.8"/><rect x="371.3" y="411.2"/><rect x="456.8" y="449.7"/><rect x="237.4" y="383.5"/><rect x="322.8" y="306.4"/><rect x="400.0" y="396.7"/><rect x="402.9" y="453.2"/><rect x="302.1" y="409.9"/><rect x="83.9" y="297.5"/><rect x="281.1" y="413.8"/><rect x="342.2" y="411.0"/><rect x="185.9" y="391.8"/><rect x="339.5" y="449.9"/><rect x="328.9" y="368.2"/><rect x="149.7" y="323.6"/><rect x="431.5" y="406.8"/><rect x="258.4" y="424.5"/><rect x="466.7" y="473.5"/><rect x="309.5" y="376.7"/><rect x="288.3" y="405.1"/><rect x="432.7" y="443.6"/><rect x="420.1" y="458.2"/><rect x="328.6" y="424.8"/><rect x="396.1" y="385.9"/><rect x="373.4" y="421.0"/><rect x="307.5" y="450.1"/><rect x="463.5" y="385.0"/><rect x="497.4" y="441.5"/><rect x="428.4" y="361.1"/><rect x="391.3" y="428.2"/><rect x="458.7" y="431.1"/><rect x="195.2" y="284.8"/><rect x="170.0" y="320.1"/><rect x="451.8" y="422.9"/><rect x="316.9" y="380.3"/><rect x="363.8" y="355.3"/><rect x="393.2" y="416.7"/><rect x="399.5" y="439.8"/><rect x="434.8" y="438.2"/><rect x="244.9" y="339.0"/><rect x="395.7" y="327.5"/><rect x="449.4" y="425.7"/><rect x="398.9" y="351.6"/><rect x="383.1" y="348.7"/><rect x="343.6" y="370.6"/><rect x="394.4" y="431.2"/><rect x="341.0" y="400.4"/><rect x="385.1" y="367.0"/><rect x="376.9" y="423.6"/><rect x="346.8" y="402.1"/><rect x="252.3" y="348.3"/><rect x="347.0" y="410.7"/><rect x="556.3" y="398.6"/><rect x="346.3" y="411.6"/><rect x="442.6" y="453.1"/><rect x="398.0" y="457.8"/><rect x="220.9" y="355.5"/><rect x="296.5" y="388.7"/><rect x="353.8" y="388.8"/><rect x="258.1" y="410.1"/><rect x="281.5" y="425.0"/><rect x="476.0" y="428.8"/><rect x="381.0" y="415.1"/><rect x="504.5" y="420.4"/><rect x="430.7" y="360.9"/><rect x="238.6" y="379.4"/><rect x="359.6" y="444.1"/><rect x="400.1" y="455.1"/><rect x="431.6" y="361.8"/><rect x="394.1" y="476.1"/><rect x="464.1" y="413.8"/><rect x="255.8" y="393.8"/><rect x="288.1" y="397.9"/><rect x="374.1" y="399.3"/><rect x="372.2" y="404.8"/><rect x="537.2" y="426.4"/><rect x="445.3" y="416.4"/><rect x="393.6" y="425.8"/><rect x="519.2" y="421.3"/><rect x="406.0" y="409.9"/><rect x="381.3" y="426.4"/><rect x="355.7" y="431.6"/><rect x="411.5" y="358.2"/><rect x="372.2" y="421.1"/><rect x="457.7" y="430.5"/><rect x="419.1" y="440.9"/><rect x="281.5" y="348.4"/><rect x="386.9" y="388.2"/><rect x="424.7" y="387.5"/><rect x="327.2" y="438.8"/><rect x="371.1" y="424.9"/><rect x="343.2" y="376.3"/><rect x="317.2" y="363.9"/><rect x="374.3" y="330.9"/><rect x="371.1" y="383.6"/><rect x="325.0" y="349.2"/><rect x="455.8" y="469.6"/><rect x="273.4" y="414.5"/><rect x="381.0" y="414.7"/><rect x="144.5" y="307.7"/><rect x="450.4" y="424.6"/><rect x="419.2" y="433.7"/><rect x="329.2" y="426.5"/><rect x="270.8" y="412.4"/><rect x="429.6" y="362.3"/><rect x="358.4" y="405.4"/><rect x="423.6" y="361.6"/><rect x="323.7" y="392.3"/><rect x="417.2" y="447.2"/><rect x="372.7" y="424.1"/><rect x="391.2" y="371.4"/><rect x="310.0" y="362.6"/><rect x="352.8" y="419.2"/><rect x="353.3" y="429.4"/><rect x="473.8" y="397.0"/><rect x="221.9" y="369.4"/><rect x="527.0" y="422.8"/><rect x="390.7" y="456.0"/><rect x="326.5" y="422.9"/><rect x="436.6" y="437.2"/><rect x="222.6" y="356.0"/><rect x="457.4" y="418.8"/><rect x="284.7" y="355.8"/><rect x="510.1" y="448.6"/><rect x="451.2" y="342.9"/><rect x="406.7" y="425.2"/><rect x="209.5" y="400.5"/><rect x="368.9" y="432.0"/><rect x="430.7" y="458.4"/><rect x="364.6" y="338.5"/><rect x="321.0" y="380.9"/><rect x="366.6" y="404.0"/><rect x="435.5" y="408.7"/><rect x="392.7" y="423.8"/><rect x="330.6" y="399.9"/><rect x="284.1" y="397.3"/><rect x="332.8" y="372.8"/><rect x="441.9" y="432.2"/><rect x="363.4" y="397.4"/><rect x="445.4" y="429.3"/><rect x="331.8" y="352.2"/><rect x="168.2" y="326.1"/><rect x="176.4" y="151.4"/><rect x="281.6" y="368.3"/><rect x="314.3" y="396.2"/><rect x="219.6" y="398.5"/><rect x="383.4" y="420.4"/><rect x="386.4" y="433.0"/><rect x="334.8" y="409.0"/><rect x="397.2" y="453.9"/><rect x="341.0" y="425.0"/><rect x="486.7" y="476.5"/><rect x="439.3" y="326.5"/><rect x="407.0" y="418.0"/><rect x="392.4" y="496.9"/><rect x="367.4" y="437.7"/><rect x="466.3" y="434.1"/><rect x="407.0" y="449.2"/><rect x="185.4" y="391.7"/><rect x="359.3" y="326.1"/><rect x="349.4" y="354.6"/><rect x="426.0" y="391.6"/><rect x="357.1" y="425.2"/><rect x="387.9" y="450.2"/><rect x="369.0" y="363.1"/><rect x="363.0" y="461.2"/><rect x="347.0" y="367.1"/><rect x="200.2" y="344.6"/><rect x="425.7" y="438.2"/><rect x="221.9" y="236.9"/><rect x="445.7" y="368.4"/><rect x="298.0" y="400.6"/><rect x="398.0" y="375.0"/><rect x="448.1" y="470.2"/><rect x="554.4" y="453.1"/><rect x="379.5" y="459.9"/><rect x="384.6" y="391.7"/><rect x="385.0" y="365.9"/><rect x="309.1" y="377.6"/><rect x="338.3" y="442.4"/><rect x="365.4" y="367.5"/><rect x="418.0" y="420.8"/><rect x="422.2" y="392.7"/><rect x="409.4" y="441.3"/><rect x="509.8" y="449.1"/><rect x="363.9" y="442.0"/><rect x="315.2" y="360.5"/><rect x="434.3" y="394.0"/><rect x="358.6" y="310.2"/><rect x="275.9" y="402.9"/><rect x="369.0" y="461.9"/><rect x="424.2" y="453.9"/><rect x="388.2" y="334.2"/><rect x="72.5" y="358.3"/><rect x="350.9" y="434.2"/><rect x="385.3" y="432.3"/><rect x="152.9" y="384.9"/><rect x="366.9" y="376.2"/><rect x="500.7" y="440.9"/><rect x="336.1" y="380.1"/><rect x="198.1" y="328.4"/><rect x="346.8" y="362.8"/><rect x="145.5" y="315.5"/><rect x="436.1" y="420.8"/><rect x="356.0" y="408.8"/><rect x="417.6" y="434.0"/><rect x="302.3" y="391.6"/><rect x="351.2" y="365.3"/><rect x="381.4" y="404.6"/><rect x="414.4" y="459.6"/><rect x="425.1" y="420.5"/><rect x="369.6" y="415.0"/><rect x="303.5" y="393.1"/><rect x="422.8" y="384.6"/><rect x="349.9" y="414.3"/><rect x="94.4" y="346.8"/><rect x="302.7" y="419.8"/><rect x="458.0" y="434.8"/><rect x="444.0" y="424.4"/><rect x="491.3" y="398.6"/><rect x="321.8" y="304.2"/><rect x="358.8" y="360.7"/><rect x="217.2" y="305.5"/><rect x="317.0" y="283.1"/><rect x="371.9" y="410.7"/><rect x="453.6" y="430.0"/><rect x="348.9" y="454.3"/><rect x="453.9" y="393.3"/><rect x="453.4" y="398.0"/><rect x="314.2" y="397.6"/><rect x="439.7" y="455.8"/><rect x="391.5" y="468.2"/><rect x="448.8" y="465.4"/><rect x="345.8" y="418.4"/><rect x="473.5" y="442.0"/><rect x="480.0" y="415.8"/><rect x="194.5" y="363.5"/><rect x="281.8" y="393.2"/><rect x="432.0" y="455.4"/><rect x="406.0" y="393.7"/><rect x="363.2" y="388.6"/><rect x="425.6" y="475.9"/><rect x="256.6" y="359.4"/><rect x="454.7" y="422.5"/><rect x="241.3" y="407.2"/><rect x="415.9" y="457.7"/><rect x="467.8" y="413.5"/><rect x="433.3" y="452.2"/><rect x="195.7" y="409.1"/><rect x="387.0" y="429.1"/><rect x="426.5" y="429.8"/><rect x="300.1" y="392.6"/><rect x="409.6" y="362.5"/><rect x="197.0" y="353.2"/><rect x="517.9" y="452.0"/><rect x="318.4" y="332.3"/><rect x="265.8" y="425.7"/><rect x="245.4" y="389.1"/><rect x="316.7" y="401.6"/><rect x="326.4" y="332.0"/><rect x="363.8" y="482.1"/><rect x="480.8" y="429.0"/><rect x="371.1" y="367.0"/><rect x="304.6" y="427.0"/><rect x="334.0" y="342.1"/><rect x="312.4" y="393.1"/><rect x="481.0" y="426.5"/><rect x="291.5" y="458.7"/><rect x="424.6" y="372.6"/><rect x="313.4" y="338.9"/><rect x="487.6" y="476.0"/><rect x="493.5" y="411.1"/><rect x="489.9" y="504.4"/><rect x="340.8" y="476.6"/><rect x="381.4" y="377.7"/><rect x="250.5" y="364.4"/><rect x="302.9" y="382.6"/><rect x="387.0" y="400.5"/><rect x="279.7" y="356.0"/><rect x="422.3" y="406.0"/><rect x="458.3" y="424.1"/><rect x="457.3" y="442.8"/><rect x="431.9" y="404.9"/><rect x="488.9" y="414.8"/><rect x="417.3" y="411.4"/><rect x="452.6" y="448.1"/><rect x="250.4" y="375.5"/><rect x="407.7" y="352.7"/><rect x="408.6" y="412.5"/><rect x="453.3" y="354.5"/><rect x="261.7" y="302.4"/><rect x="315.4" y="387.5"/><rect x="455.7" y="429.3"/><rect x="343.8" y="425.1"/><rect x="397.5" y="458.2"/><rect x="193.2" y="370.1"/><rect x="226.0" y="365.8"/><rect x="351.8" y="413.5"/><rect x="350.9" y="351.7"/><rect x="456.3" y="367.3"/><rect x="362.5" y="418.0"/><rect x="319.4" y="461.6"/><rect x="356.6" y="395.0"/><rect x="381.1" y="466.6"/><rect x="339.2" y="451.7"/><rect x="427.8" y="452.0"/><rect x="446.4" y="419.9"/><rect x="449.2" y="439.1"/><rect x="254.5" y="377.8"/><rect x="313.1" y="408.1"/><rect x="244.0" y="378.8"/><rect x="277.4" y="404.8"/><rect x="478.3" y="421.4"/><rect x="247.6" y="398.2"/><rect x="476.0" y="475.0"/><rect x="429.5" y="437.8"/><rect x="340.7" y="379.9"/><rect x="364.8" y="310.9"/><rect x="416.7" y="419.2"/><rect x="304.3" y="378.3"/><rect x="331.3" y="368.0"/><rect x="342.2" y="443.3"/><rect x="465.1" y="410.4"/><rect x="243.5" y="290.5"/><rect x="229.6" y="385.1"/><rect x="424.9" y="484.5"/><rect x="369.0" y="425.5"/><rect x="221.4" y="400.1"/><rect x="447.4" y="427.4"/><rect x="385.6" y="441.9"/><rect x="372.9" y="377.1"/><rect x="418.6" y="439.0"/><rect x="387.7" y="419.5"/><rect x="415.9" y="468.0"/><rect x="473.1" y="452.5"/><rect x="314.4" y="384.1"/><rect x="255.4" y="363.8"/><rect x="554.8" y="457.1"/><rect x="491.1" y="463.0"/><rect x="260.3" y="402.3"/><rect x="257.8" y="369.8"/><rect x="203.3" y="370.8"/><rect x="328.4" y="392.5"/><rect x="380.1" y="463.0"/><rect x="199.9" y="322.5"/><rect x="361.5" y="397.5"/><rect x="366.5" y="432.1"/><rect x="352.7" y="361.1"/><rect x="455.7" y="432.6"/><rect x="158.2" y="144.3"/><rect x="470.7" y="362.7"/><rect x="452.9" y="426.7"/><rect x="555.4" y="445.7"/><rect x="390.0" y="381.0"/><rect x="219.6" y="336.8"/><rect x="368.0" y="392.0"/><rect x="464.8" y="448.0"/><rect x="272.1" y="394.4"/><rect x="158.8" y="382.0"/><rect x="256.5" y="391.4"/><rect x="325.3" y="406.2"/><rect x="395.1" y="379.8"/><rect x="349.3" y="475.0"/><rect x="472.2" y="329.4"/><rect x="411.4" y="384.1"/><rect x="325.1" y="421.0"/><rect x="377.3" y="440.8"/><rect x="362.2" y="422.0"/><rect x="421.3" y="382.2"/><rect x="136.9" y="389.0"/><rect x="335.8" y="457.6"/><rect x="379.3" y="307.6"/><rect x="211.4" y="316.8"/><rect x="194.7" y="342.3"/><rect x="251.6" y="313.3"/><rect x="544.1" y="416.9"/><rect x="430.6" y="427.3"/><rect x="355.7" y="393.4"/><rect x="504.9" y="389.8"/><rect x="383.3" y="429.5"/><rect x="440.9" y="355.3"/><rect x="425.3" y="451.9"/><rect x="308.3" y="406.0"/><rect x="502.1" y="429.3"/><rect x="324.0" y="424.2"/><rect x="405.5" y="379.7"/><rect x="355.1" y="292.9"/><rect x="414.6" y="449.5"/><rect x="195.7" y="366.7"/><rect x="271.4" y="421.0"/><rect x="570.4" y="472.5"/><rect x="361.2" y="373.8"/><rect x="345.1" y="382.8"/><rect x="334.4" y="384.4"/><rect x="408.2" y="405.1"/><rect x="577.7" y="478.5"/><rect x="368.3" y="367.2"/><rect x="506.2" y="476.3"/><rect x="206.5" y="271.1"/><rect x="468.6" y="415.1"/><rect x="509.5" y="428.3"/><rect x="396.6" y="412.5"/><rect x="417.8" y="390.0"/><rect x="474.1" y="440.0"/><rect x="413.4" y="411.0"/><rect x="444.1" y="452.4"/><rect x="330.3" y="385.8"/><rect x="427.3" y="446.3"/><rect x="430.7" y="393.9"/><rect x="376.8" y="434.0"/><rect x="308.0" y="435.4"/><rect x="279.8" y="353.2"/><rect x="498.9" y="385.4"/><rect x="325.4" y="417.0"/><rect x="454.0" y="381.2"/><rect x="440.0" y="447.0"/><rect x="303.1" y="390.8"/><rect x="403.2" y="414.4"/><rect x="497.3" y="436.7"/><rect x="376.1" y="450.5"/><rect x="413.5" y="394.3"/><rect x="353.9" y="302.6"/><rect x="348.0" y="422.5"/><rect x="156.1" y="297.5"/><rect x="393.3" y="411.4"/><rect x="381.3" y="395.1"/><rect x="469.4" y="384.6"/><rect x="504.2" y="454.8"/><rect x="357.4" y="394.2"/><rect x="197.7" y="391.4"/><rect x="180.1" y="334.4"/><rect x="205.5" y="357.7"/><rect x="512.7" y="455.4"/><rect x="227.1" y="374.1"/><rect x="503.5" y="379.1"/><rect x="292.0" y="385.4"/><rect x="371.5" y="423.5"/><rect x="347.3" y="377.3"/><rect x="407.7" y="443.6"/><rect x="351.3" y="402.1"/><rect x="275.6" y="385.1"/><rect x="393.5" y="409.9"/><rect x="499.9" y="454.8"/><rect x="208.4" y="383.1"/><rect x="553.5" y="441.2"/><rect x="445.5" y="418.7"/><rect x="433.9" y="403.8"/><rect x="354.1" y="359.8"/><rect x="251.8" y="380.6"/><rect x="281.8" y="408.6"/><rect x="393.2" y="271.0"/><rect x="396.2" y="467.7"/><rect x="288.1" y="343.2"/><rect x="363.0" y="330.0"/><rect x="401.8" y="351.9"/><rect x="208.0" y="353.0"/><rect x="310.8" y="380.4"/><rect x="414.0" y="299.2"/><rect x="493.4" y="414.6"/><rect x="420.3" y="420.6"/><rect x="397.7" y="432.8"/><rect x="392.4" y="432.6"/><rect x="415.1" y="349.2"/><rect x="243.6" y="333.2"/><rect x="368.3" y="416.2"/><rect x="429.6" y="364.6"/><rect x="289.9" y="338.2"/><rect x="371.9" y="347.8"/><rect x="313.5" y="371.0"/><rect x="383.5" y="452.3"/><rect x="288.1" y="309.9"/><rect x="465.6" y="405.8"/><rect x="438.5" y="400.1"/><rect x="240.5" y="399.7"/><rect x="209.3" y="396.2"/><rect x="422.8" y="408.2"/><rect x="531.9" y="430.2"/><rect x="423.5" y="380.2"/><rect x="410.6" y="386.9"/><rect x="303.7" y="393.0"/><rect x="350.8" y="441.3"/><rect x="384.6" y="386.1"/><rect x="348.9" y="360.6"/><rect x="370.1" y="319.8"/><rect x="443.0" y="451.8"/><rect x="364.3" y="368.8"/><rect x="240.1" y="425.8"/><rect x="406.9" y="421.8"/><rect x="376.5" y="440.8"/><rect x="295.9" y="393.7"/><rect x="307.7" y="356.4"/><rect x="548.9" y="425.6"/><rect x="327.5" y="373.1"/><rect x="376.7" y="415.2"/><rect x="409.8" y="422.6"/><rect x="395.4" y="439.3"/><rect x="254.1" y="396.5"/><rect x="344.3" y="391.6"/><rect x="455.0" y="430.7"/><rect x="299.3" y="373.2"/><rect x="541.4" y="440.2"/><rect x="469.9" y="313.3"/><rect x="360.9" y="417.0"/><rect x="306.2" y="403.1"/><rect x="329.0" y="303.4"/><rect x="376.3" y="338.0"/><rect x="333.4" y="417.1"/><rect x="423.2" y="408.8"/><rect x="412.5" y="412.6"/><rect x="416.0" y="444.0"/><rect x="407.5" y="429.1"/><rect x="274.1" y="380.8"/><rect x="331.4" y="402.2"/><rect x="383.8" y="297.6"/><rect x="379.7" y="414.7"/><rect x="366.5" y="364.4"/><rect x="169.0" y="390.6"/><rect x="320.2" y="385.0"/><rect x="387.3" y="357.8"/><rect x="325.4" y="394.9"/><rect x="497.6" y="429.1"/><rect x="426.8" y="385.9"/><rect x="426.7" y="351.7"/><rect x="300.5" y="333.8"/><rect x="440.3" y="419.9"/><rect x="293.7" y="319.2"/><rect x="448.5" y="376.2"/><rect x="234.2" y="327.1"/><rect x="500.2" y="416.1"/><rect x="420.2" y="399.0"/><rect x="133.6" y="385.1"/><rect x="507.7" y="417.3"/><rect x="389.4" y="409.5"/><rect x="333.1" y="394.8"/><rect x="448.8" y="338.0"/><rect x="423.1" y="446.6"/><rect x="324.8" y="442.3"/><rect x="392.4" y="383.3"/><rect x="494.0" y="376.8"/><rect x="388.3" y="472.5"/><rect x="125.9" y="299.0"/><rect x="314.1" y="429.5"/><rect x="185.2" y="274.6"/><rect x="258.0" y="361.6"/><rect x="255.2" y="427.2"/><rect x="328.0" y="344.5"/><rect x="388.1" y="418.7"/><rect x="316.0" y="358.6"/><rect x="431.9" y="357.8"/><rect x="382.2" y="383.8"/><rect x="478.3" y="394.7"/><rect x="144.7" y="357.8"/><rect x="345.8" y="399.5"/><rect x="370.1" y="371.4"/><rect x="450.6" y="410.1"/><rect x="473.0" y="443.3"/><rect x="479.9" y="411.4"/><rect x="364.8" y="429.6"/><rect x="512.8" y="487.7"/><rect x="464.7" y="385.0"/><rect x="265.5" y="409.0"/><rect x="441.7" y="447.6"/><rect x="248.8" y="331.2"/><rect x="174.3" y="386.3"/><rect x="430.7" y="415.9"/><rect x="451.3" y="392.1"/><rect x="278.8" y="388.6"/><rect x="278.7" y="355.6"/><rect x="152.8" y="336.7"/><rect x="323.7" y="363.5"/><rect x="197.8" y="367.7"/><rect x="223.2" y="358.6"/><rect x="353.1" y="440.4"/><rect x="464.0" y="434.3"/><rect x="448.1" y="435.8"/><rect x="321.7" y="287.1"/><rect x="403.7" y="417.0"/><rect x="220.0" y="399.6"/><rect x="377.3" y="411.3"/><rect x="311.0" y="372.9"/><rect x="372.9" y="373.6"/><rect x="301.1" y="390.8"/><rect x="357.5" y="456.5"/><rect x="194.6" y="354.3"/><rect x="333.2" y="455.1"/><rect x="396.5" y="434.9"/><rect x="528.8" y="451.4"/><rect x="440.4" y="423.8"/><rect x="398.8" y="450.1"/><rect x="307.2" y="392.8"/><rect x="395.8" y="404.8"/><rect x="218.1" y="306.5"/><rect x="241.7" y="315.5"/><rect x="357.8" y="403.8"/><rect x="358.8" y="390.8"/><rect x="202.2" y="392.9"/><rect x="291.2" y="409.9"/><rect x="403.1" y="419.3"/><rect x="430.1" y="427.6"/><rect x="360.0" y="396.5"/><rect x="437.1" y="431.3"/><rect x="402.2" y="423.1"/><rect x="331.0" y="359.4"/><rect x="276.9" y="370.1"/><rect x="421.8" y="347.3"/><rect x="436.9" y="413.9"/><rect x="502.3" y="432.9"/><rect x="416.7" y="393.9"/><rect x="418.0" y="412.2"/><rect x="497.7" y="452.4"/><rect x="483.0" y="460.8"/><rect x="315.9" y="386.1"/><rect x="356.3" y="405.3"/><rect x="421.9" y="441.9"/><rect x="343.6" y="380.9"/><rect x="237.7" y="423.4"/><rect x="358.8" y="479.7"/><rect x="167.4" y="368.4"/><rect x="372.7" y="410.3"/><rect x="344.8" y="439.0"/><rect x="392.3" y="392.6"/><rect x="241.2" y="393.4"/><rect x="185.1" y="367.0"/><rect x="407.1" y="435.3"/><rect x="335.0" y="420.6"/><rect x="417.3" y="340.2"/><rect x="315.5" y="404.6"/><rect x="425.0" y="388.5"/><rect x="445.8" y="428.0"/><rect x="253.7" y="331.9"/><rect x="372.0" y="455.4"/><rect x="445.0" y="357.1"/><rect x="456.7" y="359.9"/><rect x="363.5" y="418.0"/><rect x="339.6" y="381.2"/><rect x="463.5" y="389.2"/><rect x="508.2" y="414.0"/><rect x="485.7" y="433.7"/><rect x="437.3" y="436.2"/><rect x="427.6" y="466.1"/><rect x="369.5" y="464.7"/><rect x="422.1" y="415.0"/><rect x="508.7" y="354.4"/><rect x="466.5" y="455.1"/><rect x="291.5" y="367.8"/><rect x="410.1" y="469.0"/><rect x="111.5" y="342.3"/><rect x="336.9" y="403.0"/><rect x="367.1" y="425.1"/><rect x="270.2" y="373.6"/><rect x="477.4" y="484.3"/><rect x="373.1" y="405.4"/><rect x="211.2" y="259.4"/><rect x="482.4" y="357.4"/><rect x="431.1" y="444.5"/><rect x="425.0" y="399.0"/><rect x="348.1" y="418.7"/><rect x="234.8" y="411.1"/><rect x="321.6" y="432.4"/><rect x="390.9" y="424.2"/><rect x="404.6" y="374.0"/><rect x="490.1" y="374.2"/><rect x="421.0" y="402.5"/><rect x="475.9" y="442.9"/><rect x="520.0" y="439.7"/><rect x="321.1" y="439.5"/><rect x="305.9" y="409.0"/><rect x="248.3" y="399.5"/><rect x="155.6" y="338.3"/><rect x="424.0" y="450.6"/><rect x="213.2" y="361.8"/><rect x="154.8" y="351.3"/><rect x="467.9" y="462.0"/><rect x="403.0" y="414.3"/><rect x="358.6" y="396.8"/><rect x="308.3" y="375.4"/><rect x="375.5" y="302.2"/><rect x="488.4" y="433.1"/><rect x="449.9" y="460.6"/><rect x="193.9" y="339.5"/><rect x="314.2" y="335.7"/><rect x="461.8" y="419.4"/><rect x="145.3" y="327.5"/><rect x="387.6" y="376.9"/><rect x="399.0" y="405.4"/><rect x="350.1" y="429.5"/><rect x="410.4" y="385.3"/><rect x="362.5" y="387.3"/><rect x="200.8" y="368.3"/><rect x="385.2" y="426.6"/><rect x="508.4" y="354.0"/><rect x="477.2" y="462.2"/><rect x="213.8" y="375.2"/><rect x="460.3" y="413.4"/><rect x="310.9" y="426.1"/><rect x="299.5" y="418.2"/><rect x="119.5" y="316.7"/><rect x="408.9" y="414.7"/><rect x="457.9" y="427.2"/><rect x="347.6" y="420.5"/><rect x="293.7" y="391.2"/><rect x="411.5" y="489.1"/><rect x="212.7" y="343.2"/><rect x="307.7" y="409.2"/><rect x="409.2" y="445.6"/><rect x="203.9" y="379.0"/><rect x="493.0" y="374.3"/><rect x="360.7" y="424.6"/><rect x="416.1" y="374.4"/><rect x="392.2" y="410.8"/><rect x="404.0" y="389.7"/><rect x="433.7" y="472.0"/><rect x="326.6" y="382.3"/><rect x="348.6" y="355.4"/><rect x="521.1" y="445.9"/><rect x="255.3" y="399.7"/><rect x="451.4" y="420.2"/><rect x="357.6" y="428.6"/><rect x="311.0" y="345.8"/><rect x="425.5" y="402.9"/></g>
<g clip-path="url(#pc)" fill="#565656" fill-opacity="0.68"><circle cx="284.1" cy="241.5" r="3.3"/><circle cx="286.3" cy="271.5" r="3.3"/><circle cx="301.9" cy="278.6" r="3.3"/><circle cx="315.6" cy="283.2" r="3.3"/><circle cx="327.3" cy="272" r="3.3"/><circle cx="334.7" cy="279.7" r="3.3"/><circle cx="348.6" cy="281.8" r="3.3"/><circle cx="340.6" cy="290.7" r="3.3"/><circle cx="347.5" cy="292.5" r="3.3"/><circle cx="252.7" cy="302.6" r="3.3"/><circle cx="322.7" cy="304" r="3.3"/><circle cx="326.7" cy="302.2" r="3.3"/><circle cx="333.9" cy="306.7" r="3.3"/><circle cx="321.4" cy="312" r="3.3"/><circle cx="347.2" cy="311.6" r="3.3"/><circle cx="309" cy="319.1" r="3.3"/><circle cx="341" cy="319.1" r="3.3"/><circle cx="291.2" cy="325" r="3.3"/><circle cx="343.6" cy="322.6" r="3.3"/><circle cx="355.7" cy="269.9" r="3.3"/><circle cx="375.4" cy="278.8" r="3.3"/><circle cx="384.6" cy="287.1" r="3.3"/><circle cx="370.4" cy="296.9" r="3.3"/><circle cx="366" cy="302.6" r="3.3"/><circle cx="360.7" cy="308.4" r="3.3"/><circle cx="377" cy="310.6" r="3.3"/><circle cx="384.3" cy="313.2" r="3.3"/><circle cx="392.1" cy="310.6" r="3.3"/><circle cx="412.1" cy="296.9" r="3.3"/><circle cx="406.8" cy="302.6" r="3.3"/><circle cx="430.2" cy="285.4" r="3.3"/><circle cx="428.5" cy="304.9" r="3.3"/><circle cx="425.4" cy="315" r="3.3"/><circle cx="412.1" cy="317" r="3.3"/><circle cx="397" cy="320" r="3.3"/><circle cx="365.6" cy="316.4" r="3.3"/><circle cx="368.6" cy="321.8" r="3.3"/><circle cx="373.1" cy="323.5" r="3.3"/><circle cx="447.3" cy="311.5" r="3.3"/><circle cx="463.6" cy="315.9" r="3.3"/><circle cx="360.7" cy="323.2" r="3.3"/><circle cx="408.6" cy="323.2" r="3.3"/><circle cx="424.6" cy="322.6" r="3.3"/><circle cx="300.7" cy="328.9" r="3.3"/><circle cx="302.8" cy="332.5" r="3.3"/><circle cx="309" cy="341.9" r="3.3"/><circle cx="324.4" cy="332.1" r="3.3"/><circle cx="333" cy="329.8" r="3.3"/><circle cx="329.1" cy="353" r="3.3"/><circle cx="325.5" cy="359.1" r="3.3"/><circle cx="262" cy="383.2" r="3.3"/><circle cx="357.1" cy="330.3" r="3.3"/><circle cx="366.9" cy="328.2" r="3.3"/><circle cx="365.1" cy="333.5" r="3.3"/><circle cx="358" cy="341.3" r="3.3"/><circle cx="370.4" cy="338.3" r="3.3"/><circle cx="382.8" cy="336.5" r="3.3"/><circle cx="381.1" cy="342.8" r="3.3"/><circle cx="378.4" cy="352" r="3.3"/><circle cx="373.1" cy="357.8" r="3.3"/><circle cx="372.2" cy="362.3" r="3.3"/><circle cx="382.8" cy="361.4" r="3.3"/><circle cx="375.7" cy="367.3" r="3.3"/><circle cx="380.2" cy="366.7" r="3.3"/><circle cx="392.6" cy="331.7" r="3.3"/><circle cx="397.9" cy="330" r="3.3"/><circle cx="402.4" cy="333.5" r="3.3"/><circle cx="403.3" cy="340.1" r="3.3"/><circle cx="410.4" cy="331.7" r="3.3"/><circle cx="409.5" cy="341.9" r="3.3"/><circle cx="411.2" cy="336.5" r="3.3"/><circle cx="419.2" cy="332.1" r="3.3"/><circle cx="420.7" cy="337.4" r="3.3"/><circle cx="416.2" cy="344.9" r="3.3"/><circle cx="402.4" cy="348.1" r="3.3"/><circle cx="390.8" cy="348.1" r="3.3"/><circle cx="417.1" cy="353" r="3.3"/><circle cx="405" cy="357.8" r="3.3"/><circle cx="427.2" cy="327.7" r="3.3"/><circle cx="433.4" cy="341.9" r="3.3"/><circle cx="445.9" cy="335.3" r="3.3"/><circle cx="452.6" cy="353" r="3.3"/><circle cx="421" cy="366.2" r="3.3"/><circle cx="426" cy="363.7" r="3.3"/><circle cx="435.2" cy="369.4" r="3.3"/><circle cx="443.2" cy="376.5" r="3.3"/><circle cx="450.8" cy="380" r="3.3"/><circle cx="456.5" cy="372.9" r="3.3"/><circle cx="461.8" cy="380.4" r="3.3"/><circle cx="466.3" cy="360.5" r="3.3"/><circle cx="470" cy="366.5" r="3.3"/><circle cx="387.3" cy="374.7" r="3.3"/><circle cx="385.5" cy="380.9" r="3.3"/><circle cx="397.9" cy="379.1" r="3.3"/><circle cx="413.9" cy="373.8" r="3.3"/><circle cx="416.6" cy="377.4" r="3.3"/><circle cx="361" cy="388" r="3.3"/><circle cx="390" cy="393.3" r="3.3"/><circle cx="401.8" cy="400.4" r="3.3"/><circle cx="419.2" cy="392.8" r="3.3"/><circle cx="425.4" cy="387.5" r="3.3"/><circle cx="434.9" cy="385.4" r="3.3"/><circle cx="455.6" cy="395.1" r="3.3"/><circle cx="437.9" cy="402.8" r="3.3"/><circle cx="445.9" cy="404" r="3.3"/><circle cx="468.6" cy="412.3" r="3.3"/><circle cx="377" cy="420.9" r="3.3"/><circle cx="451.2" cy="425.5" r="3.3"/><circle cx="515.8" cy="357.8" r="3.3"/><circle cx="499.3" cy="375.6" r="3.3"/><circle cx="483.3" cy="378.3" r="3.3"/><circle cx="482.4" cy="382.7" r="3.3"/><circle cx="546.7" cy="383.2" r="3.3"/><circle cx="539.6" cy="396.5" r="3.3"/><circle cx="501.1" cy="399.6" r="3.3"/><circle cx="484.2" cy="402.8" r="3.3"/><circle cx="510" cy="419.1" r="3.3"/><circle cx="573" cy="410.6" r="3.3"/><circle cx="346.4" cy="491.2" r="3.3"/><circle cx="460.1" cy="488.1" r="3.3"/><circle cx="498" cy="434" r="3.3"/><circle cx="527.8" cy="434" r="3.3"/><circle cx="528.1" cy="441.7" r="3.3"/><circle cx="539.4" cy="448.7" r="3.3"/><circle cx="560.1" cy="447" r="3.3"/><circle cx="572.3" cy="446.1" r="3.3"/><circle cx="539.4" cy="463.8" r="3.3"/><circle cx="507.1" cy="467.7" r="3.3"/><circle cx="512.8" cy="469.7" r="3.3"/><circle cx="528.6" cy="500.8" r="3.3"/></g>
<g stroke="#000" stroke-width="1.6" stroke-dasharray="5.6 2.4" fill="none"><line x1="72.0" y1="133.5" x2="579.0" y2="359.7"/><line x1="72.0" y1="207.7" x2="579.0" y2="433.9"/><line x1="72.0" y1="282.0" x2="571.1" y2="504.7"/><line x1="72.0" y1="356.2" x2="404.8" y2="504.7"/></g>
<g stroke="#000" stroke-width="1.4" fill="none" stroke-linecap="butt"><path d="M72.0 7.1V504.7H579.0" /><path d="M72.0 504.70h11"/><path d="M72.0 482.35h5.5"/><path d="M72.0 469.28h5.5"/><path d="M72.0 460.01h5.5"/><path d="M72.0 452.82h5.5"/><path d="M72.0 446.94h5.5"/><path d="M72.0 441.97h5.5"/><path d="M72.0 437.66h5.5"/><path d="M72.0 433.87h5.5"/><path d="M72.0 430.47h11"/><path d="M72.0 408.12h5.5"/><path d="M72.0 395.05h5.5"/><path d="M72.0 385.78h5.5"/><path d="M72.0 378.59h5.5"/><path d="M72.0 372.71h5.5"/><path d="M72.0 367.74h5.5"/><path d="M72.0 363.43h5.5"/><path d="M72.0 359.64h5.5"/><path d="M72.0 356.24h11"/><path d="M72.0 333.89h5.5"/><path d="M72.0 320.82h5.5"/><path d="M72.0 311.55h5.5"/><path d="M72.0 304.36h5.5"/><path d="M72.0 298.48h5.5"/><path d="M72.0 293.51h5.5"/><path d="M72.0 289.20h5.5"/><path d="M72.0 285.41h5.5"/><path d="M72.0 282.01h11"/><path d="M72.0 259.66h5.5"/><path d="M72.0 246.59h5.5"/><path d="M72.0 237.32h5.5"/><path d="M72.0 230.13h5.5"/><path d="M72.0 224.25h5.5"/><path d="M72.0 219.28h5.5"/><path d="M72.0 214.97h5.5"/><path d="M72.0 211.18h5.5"/><path d="M72.0 207.78h11"/><path d="M72.0 185.43h5.5"/><path d="M72.0 172.36h5.5"/><path d="M72.0 163.09h5.5"/><path d="M72.0 155.90h5.5"/><path d="M72.0 150.02h5.5"/><path d="M72.0 145.05h5.5"/><path d="M72.0 140.74h5.5"/><path d="M72.0 136.95h5.5"/><path d="M72.0 133.55h11"/><path d="M72.0 111.20h5.5"/><path d="M72.0 98.13h5.5"/><path d="M72.0 88.86h5.5"/><path d="M72.0 81.67h5.5"/><path d="M72.0 75.79h5.5"/><path d="M72.0 70.82h5.5"/><path d="M72.0 66.51h5.5"/><path d="M72.0 62.72h5.5"/><path d="M72.0 59.32h11"/><path d="M72.0 36.97h5.5"/><path d="M72.0 23.90h5.5"/><path d="M72.0 14.63h5.5"/><path d="M72.0 7.44h5.5"/><path d="M246.30 504.7v-11.6"/><path d="M579.00 504.7v-11.6"/><path d="M113.91 504.7v-5.8"/><path d="M146.15 504.7v-5.8"/><path d="M172.49 504.7v-5.8"/><path d="M194.76 504.7v-5.8"/><path d="M214.06 504.7v-5.8"/><path d="M231.08 504.7v-5.8"/><path d="M346.45 504.7v-5.8"/><path d="M405.04 504.7v-5.8"/><path d="M446.61 504.7v-5.8"/><path d="M478.85 504.7v-5.8"/><path d="M505.19 504.7v-5.8"/><path d="M527.46 504.7v-5.8"/><path d="M546.76 504.7v-5.8"/><path d="M563.78 504.7v-5.8"/></g>
<g fill="#1a1a1a"><text x="57.3" y="512.7" text-anchor="end" font-size="16.3">10</text><text x="57.6" y="506.2" font-size="11.2">1</text><text x="57.3" y="438.5" text-anchor="end" font-size="16.3">10</text><text x="57.6" y="432.0" font-size="11.2">2</text><text x="57.3" y="364.2" text-anchor="end" font-size="16.3">10</text><text x="57.6" y="357.7" font-size="11.2">3</text><text x="57.3" y="290.0" text-anchor="end" font-size="16.3">10</text><text x="57.6" y="283.5" font-size="11.2">4</text><text x="57.3" y="215.8" text-anchor="end" font-size="16.3">10</text><text x="57.6" y="209.3" font-size="11.2">5</text><text x="57.3" y="141.5" text-anchor="end" font-size="16.3">10</text><text x="57.6" y="135.0" font-size="11.2">6</text><text x="57.3" y="67.3" text-anchor="end" font-size="16.3">10</text><text x="57.6" y="60.8" font-size="11.2">7</text><text x="250.7" y="527.8" text-anchor="end" font-size="16.3">10</text><text x="251.0" y="521.6" font-size="11.2">0</text><text x="583.4" y="527.8" text-anchor="end" font-size="16.3">10</text><text x="583.7" y="521.6" font-size="11.2">1</text></g>
<text x="292.5" y="553.3" font-size="16.3" fill="#1a1a1a"><tspan font-style="italic">R</tspan><tspan font-size="11.2" dy="4.5">eff</tspan><tspan dy="-4.5"> (pc)</tspan></text>
<text transform="translate(19.6 256.2) rotate(-90)" text-anchor="middle" style="stroke-width:0.12px" font-size="16.6" fill="#1a1a1a">Surface density (log[<tspan font-style="italic">M</tspan><tspan dx="14">pc</tspan><tspan font-size="11.2" dy="-6.5" dx="0.5">−2</tspan><tspan dy="6.5" dx="0.5">])</tspan></text>
<circle cx="19.2" cy="195.8" r="4.3" fill="none" stroke="#1a1a1a" stroke-width="0.8"/><circle cx="19.2" cy="195.8" r="0.9" fill="#1a1a1a"/>
<text transform="translate(697.5 261) rotate(-90)" text-anchor="middle" style="stroke-width:0.12px" font-size="16.3" fill="#1a1a1a">log(<tspan font-style="italic" dx="2">Π</tspan><tspan dx="2"> = age/</tspan><tspan font-style="italic">t</tspan><tspan font-size="11.2" dy="4" dx="0.5">cross</tspan><tspan dy="-4" dx="0.5">)</tspan></text>
<defs><linearGradient id="cg" x1="0" y1="0" x2="0" y2="1"><stop offset="0" stop-color="#ff40ff"/><stop offset="1" stop-color="#40ffff"/></linearGradient></defs>
<rect x="598.75" y="7.5" width="25" height="497.0" fill="url(#cg)" stroke="#000" stroke-width="1.5"/>
<path d="M623.75 7.50h4.5" stroke="#000" stroke-width="1.4"/><text x="633.6" y="15.2" font-size="16.3" fill="#1a1a1a">3.00</text><path d="M623.75 69.62h4.5" stroke="#000" stroke-width="1.4"/><text x="633.6" y="77.3" font-size="16.3" fill="#1a1a1a">2.75</text><path d="M623.75 131.75h4.5" stroke="#000" stroke-width="1.4"/><text x="633.6" y="139.4" font-size="16.3" fill="#1a1a1a">2.50</text><path d="M623.75 193.88h4.5" stroke="#000" stroke-width="1.4"/><text x="633.6" y="201.6" font-size="16.3" fill="#1a1a1a">2.25</text><path d="M623.75 256.00h4.5" stroke="#000" stroke-width="1.4"/><text x="633.6" y="263.7" font-size="16.3" fill="#1a1a1a">2.00</text><path d="M623.75 318.12h4.5" stroke="#000" stroke-width="1.4"/><text x="633.6" y="325.8" font-size="16.3" fill="#1a1a1a">1.75</text><path d="M623.75 380.25h4.5" stroke="#000" stroke-width="1.4"/><text x="633.6" y="387.9" font-size="16.3" fill="#1a1a1a">1.50</text><path d="M623.75 442.38h4.5" stroke="#000" stroke-width="1.4"/><text x="633.6" y="450.1" font-size="16.3" fill="#1a1a1a">1.25</text><path d="M623.75 504.50h4.5" stroke="#000" stroke-width="1.4"/><text x="633.6" y="512.2" font-size="16.3" fill="#1a1a1a">1.00</text>
<text x="199.4" y="244.2" font-size="16.3" fill="#1a1a1a">1 ×<tspan dx="1"> 10</tspan><tspan font-size="11.2" dy="-6.5" dx="0.5">6</tspan><tspan dy="6.5" dx="0.5" font-style="italic">M</tspan></text>
<circle cx="272" cy="246" r="4.3" fill="none" stroke="#1a1a1a" stroke-width="0.8"/><circle cx="272" cy="246" r="0.9" fill="#1a1a1a"/>
<text x="163.3" y="298.4" font-size="16.3" fill="#1a1a1a">1 ×<tspan dx="1"> 10</tspan><tspan font-size="11.2" dy="-6.5" dx="0.5">5</tspan><tspan dy="6.5" dx="0.5" font-style="italic">M</tspan></text>
<circle cx="236.6" cy="299.5" r="4.3" fill="none" stroke="#1a1a1a" stroke-width="0.8"/><circle cx="236.6" cy="299.5" r="0.9" fill="#1a1a1a"/>
<text x="123" y="352.4" font-size="16.3" fill="#1a1a1a">1 ×<tspan dx="1"> 10</tspan><tspan font-size="11.2" dy="-6.5" dx="0.5">4</tspan><tspan dy="6.5" dx="0.5" font-style="italic">M</tspan></text>
<circle cx="196.6" cy="353.9" r="4.3" fill="none" stroke="#1a1a1a" stroke-width="0.8"/><circle cx="196.6" cy="353.9" r="0.9" fill="#1a1a1a"/>
<text x="84.4" y="412.8" font-size="16.3" fill="#1a1a1a">1 ×<tspan dx="1"> 10</tspan><tspan font-size="11.2" dy="-6.5" dx="0.5">3</tspan><tspan dy="6.5" dx="0.5" font-style="italic">M</tspan></text>
<circle cx="157.3" cy="413.2" r="4.3" fill="none" stroke="#1a1a1a" stroke-width="0.8"/><circle cx="157.3" cy="413.2" r="0.9" fill="#1a1a1a"/>
<g stroke="#111" stroke-width="1.6" fill="none"><path d="M72.0 145.2H152.8M98.8 117.8V170.4"/><path d="M72.0 179.6H204.5M183.7 109.4V234.6"/><path d="M185 186.7H325.7"/><path d="M255.7 162.5V228.3M261.2 149.1V215"/></g>
<g stroke="#8a8a8a" stroke-width="1.5" fill="none"><path d="M225.4 198.2H186"/><path d="M225.4 198.2V184"/></g>
<g fill="#8a8a8a"><path d="M181.8 198.2l6 -3.2v6.4z"/><path d="M225.4 179.4l-3.2 6h6.4z"/></g>
<circle cx="98.8" cy="145.2" r="7.3" fill="#ff30ff" fill-opacity="0.85" stroke="#333" stroke-width="1.1"/>
<path d="M183.7 172.20000000000002L191.29999999999998 187.4L176.1 187.4Z" fill="#9070ee" fill-opacity="0.85" stroke="#333" stroke-width="1.1"/>
<path d="M229.29 190.35 L233.05 194.11 L229.06 198.10 L233.05 202.09 L229.29 205.85 L225.30 201.86 L221.31 205.85 L217.55 202.09 L221.54 198.10 L217.55 194.11 L221.31 190.35 L225.30 194.34Z" fill="#7496f8" fill-opacity="0.92" stroke="#111" stroke-width="1.3" stroke-linejoin="miter"/>
<path d="M255.6 176.29999999999998L266.0 186.7L255.6 197.1L245.2 186.7Z" fill="#7f93f5" fill-opacity="0.8" stroke="#333" stroke-width="1.1"/>
<path d="M261.10 179.40 L253.87 184.65 L256.63 193.15 L265.57 193.15 L268.33 184.65Z" fill="#8a6ff0" fill-opacity="0.85" stroke="#333" stroke-width="1.1"/>
<path d="M294.50 143.70 L292.64 149.44 L286.61 149.44 L291.48 152.98 L289.62 158.71 L294.50 155.17 L299.38 158.71 L297.52 152.98 L302.39 149.44 L296.36 149.44Z" fill="#000" stroke="#000" stroke-width="0.8" stroke-linejoin="miter"/>
<path d="M475.40 250.70 L473.54 256.44 L467.51 256.44 L472.38 259.98 L470.52 265.71 L475.40 262.17 L480.28 265.71 L478.42 259.98 L483.29 256.44 L477.26 256.44Z" fill="#000" stroke="#000" stroke-width="0.8" stroke-linejoin="miter"/>
<path d="M511.90 259.60 L510.04 265.34 L504.01 265.34 L508.88 268.88 L507.02 274.61 L511.90 271.07 L516.78 274.61 L514.92 268.88 L519.79 265.34 L513.76 265.34Z" fill="#000" stroke="#000" stroke-width="0.8" stroke-linejoin="miter"/>
<path d="M507.40 298.70 L505.54 304.44 L499.51 304.44 L504.38 307.98 L502.52 313.71 L507.40 310.17 L512.28 313.71 L510.42 307.98 L515.29 304.44 L509.26 304.44Z" fill="#000" stroke="#000" stroke-width="0.8" stroke-linejoin="miter"/>
<path d="M555.20 284.80 L553.34 290.54 L547.31 290.54 L552.18 294.08 L550.32 299.81 L555.20 296.27 L560.08 299.81 L558.22 294.08 L563.09 290.54 L557.06 290.54Z" fill="#000" stroke="#000" stroke-width="0.8" stroke-linejoin="miter"/>
<path d="M228.20 252.30 L233.60 252.30 L233.60 257.40 L238.70 257.40 L238.70 262.80 L233.60 262.80 L233.60 267.90 L228.20 267.90 L228.20 262.80 L223.10 262.80 L223.10 257.40 L228.20 257.40Z" fill="#000" stroke="#000" stroke-width="1"/>
<path d="M281.30 276.30 L286.70 276.30 L286.70 281.40 L291.80 281.40 L291.80 286.80 L286.70 286.80 L286.70 291.90 L281.30 291.90 L281.30 286.80 L276.20 286.80 L276.20 281.40 L281.30 281.40Z" fill="#000" stroke="#000" stroke-width="1"/>
<path d="M397.10 253.40 L402.50 253.40 L402.50 258.50 L407.60 258.50 L407.60 263.90 L402.50 263.90 L402.50 269.00 L397.10 269.00 L397.10 263.90 L392.00 263.90 L392.00 258.50 L397.10 258.50Z" fill="#000" stroke="#000" stroke-width="1"/>
<path d="M470.10 231.80 L475.50 231.80 L475.50 236.90 L480.60 236.90 L480.60 242.30 L475.50 242.30 L475.50 247.40 L470.10 247.40 L470.10 242.30 L465.00 242.30 L465.00 236.90 L470.10 236.90Z" fill="#000" stroke="#000" stroke-width="1"/>
<path d="M487.30 256.30 L492.70 256.30 L492.70 261.40 L497.80 261.40 L497.80 266.80 L492.70 266.80 L492.70 271.90 L487.30 271.90 L487.30 266.80 L482.20 266.80 L482.20 261.40 L487.30 261.40Z" fill="#000" stroke="#000" stroke-width="1"/>
<path d="M552.50 243.80 L557.90 243.80 L557.90 248.90 L563.00 248.90 L563.00 254.30 L557.90 254.30 L557.90 259.40 L552.50 259.40 L552.50 254.30 L547.40 254.30 L547.40 248.90 L552.50 248.90Z" fill="#000" stroke="#000" stroke-width="1"/>
<path d="M542.10 282.90 L547.50 282.90 L547.50 288.00 L552.60 288.00 L552.60 293.40 L547.50 293.40 L547.50 298.50 L542.10 298.50 L542.10 293.40 L537.00 293.40 L537.00 288.00 L542.10 288.00Z" fill="#000" stroke="#000" stroke-width="1"/>
<path d="M561.30 289.00 L566.70 289.00 L566.70 294.10 L571.80 294.10 L571.80 299.50 L566.70 299.50 L566.70 304.60 L561.30 304.60 L561.30 299.50 L556.20 299.50 L556.20 294.10 L561.30 294.10Z" fill="#000" stroke="#000" stroke-width="1"/>
<path d="M390.00 3.50 L388.11 9.30 L382.01 9.30 L386.95 12.89 L385.06 18.70 L390.00 15.11 L394.94 18.70 L393.05 12.89 L397.99 9.30 L391.89 9.30Z" fill="#000" stroke="#000" stroke-width="0.8" stroke-linejoin="miter"/><path d="M387.30 24.10 L392.70 24.10 L392.70 29.20 L397.80 29.20 L397.80 34.60 L392.70 34.60 L392.70 39.70 L387.30 39.70 L387.30 34.60 L382.20 34.60 L382.20 29.20 L387.30 29.20Z" fill="#000" stroke="#000" stroke-width="1"/><path d="M390 41.3L401.2 52.5L390 63.7L378.8 52.5Z" fill="#9aa8f8" fill-opacity="1" stroke="#333" stroke-width="1.1"/><path d="M390.20 65.80 L382.78 71.19 L385.62 79.91 L394.78 79.91 L397.62 71.19Z" fill="#a89cf5" fill-opacity="1" stroke="#333" stroke-width="1.1"/><path d="M390.2 85.5L398.2 101.5L382.2 101.5Z" fill="#a48cf2" fill-opacity="1" stroke="#333" stroke-width="1.1"/><circle cx="390.3" cy="114.3" r="7.9" fill="#f844f8" fill-opacity="1" stroke="#333" stroke-width="1.1"/><path d="M393.99 127.65 L397.75 131.41 L393.76 135.40 L397.75 139.39 L393.99 143.15 L390.00 139.16 L386.01 143.15 L382.25 139.39 L386.24 135.40 L382.25 131.41 L386.01 127.65 L390.00 131.64Z" fill="#9db1fa" fill-opacity="1" stroke="#111" stroke-width="1.3" stroke-linejoin="miter"/><circle cx="390" cy="155.3" r="3.3" fill="#bdbdbd"/><rect x="387.6" y="173" width="5" height="5" fill="#fcd5d2"/>
<text x="416.2" y="15.0" font-size="16.3" fill="#1a1a1a">Sunrise <tspan font-style="italic">z</tspan> ~ 6</text>
<text x="416.2" y="35.6" font-size="16.3" fill="#1a1a1a">Sunburst_Arc <tspan font-style="italic">z</tspan> ~ 2.4</text>
<text x="416.2" y="56.2" font-size="16.3" fill="#1a1a1a">A.1</text>
<text x="416.2" y="76.8" font-size="16.3" fill="#1a1a1a">B.1</text>
<text x="416.2" y="97.4" font-size="16.3" fill="#1a1a1a">D.1</text>
<text x="416.2" y="118.0" font-size="16.3" fill="#1a1a1a">E.1</text>
<text x="416.2" y="138.6" font-size="16.3" fill="#1a1a1a">C.1</text>
<text x="416.2" y="159.2" font-size="16.3" fill="#1a1a1a">Milky Way GCs</text>
<text x="416.2" y="179.8" font-size="16.3" fill="#1a1a1a">YMCs LVL (ref. 7)</text>
</svg></body></html>
